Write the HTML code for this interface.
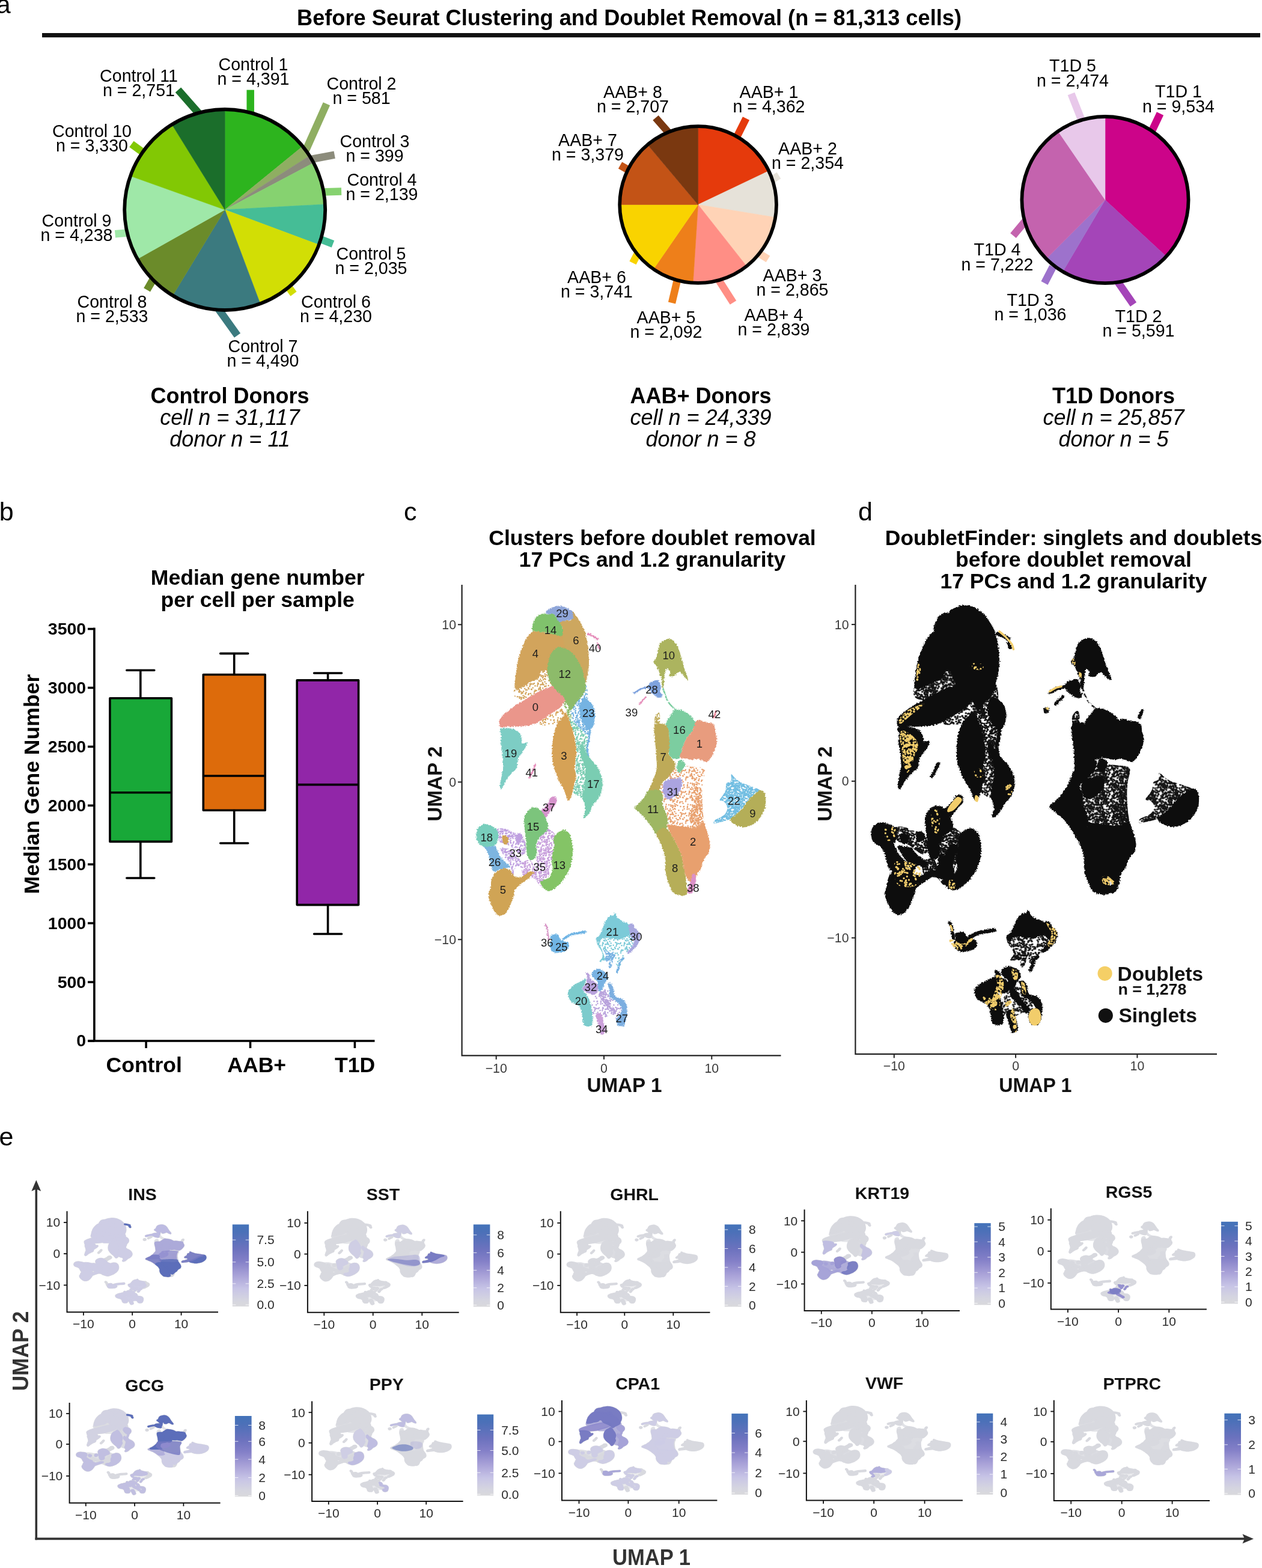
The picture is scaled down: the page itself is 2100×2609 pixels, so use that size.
<!DOCTYPE html>
<html lang="en"><head><meta charset="utf-8"><title>Figure</title>
<style>
html,body{margin:0;padding:0;background:#fff;}
body{width:2100px;height:2609px;overflow:hidden;}
svg{display:block;font-family:"Liberation Sans", sans-serif;}
</style></head><body>
<svg width="2100" height="2609" viewBox="0 0 2100 2609">
<rect width="2100" height="2609" fill="#fff"/>
<g id="panel-a">
<text x="-6.3" y="22.0" font-size="43">a</text>
<text x="1047.0" y="41.6" font-size="36" font-weight="bold" text-anchor="middle" textLength="1106.0" lengthAdjust="spacingAndGlyphs">Before Seurat Clustering and Doublet Removal (n = 81,313 cells)</text>
<rect x="70" y="55" width="2027" height="7.2" fill="#111"/>
<line x1="416.7" y1="149.6" x2="416.7" y2="190" stroke="#2DB41E" stroke-width="12.5"/>
<line x1="543.4" y1="172.8" x2="508" y2="252" stroke="#8FAE62" stroke-width="12.5"/>
<line x1="556.7" y1="257.6" x2="515" y2="265.5" stroke="#8C8C7C" stroke-width="12.5"/>
<line x1="568.1" y1="318.5" x2="535" y2="319.5" stroke="#86D270" stroke-width="12.5"/>
<line x1="554.0" y1="406.0" x2="528" y2="396" stroke="#45BD96" stroke-width="12.5"/>
<line x1="488.5" y1="489" x2="479" y2="476" stroke="#D2DE05" stroke-width="12.5"/>
<line x1="395.0" y1="558.2" x2="362" y2="512" stroke="#3B7A7F" stroke-width="12.5"/>
<line x1="244.6" y1="482.4" x2="257" y2="461" stroke="#6B8B2A" stroke-width="12.5"/>
<line x1="191.5" y1="389.3" x2="212" y2="387.5" stroke="#9FE8A8" stroke-width="12.5"/>
<line x1="218.9" y1="239.8" x2="240" y2="255" stroke="#82C804" stroke-width="12.5"/>
<line x1="296.5" y1="149.6" x2="332" y2="190" stroke="#1B6E2B" stroke-width="12.5"/>
<path d="M374.2 349.0L374.2 182.0A167 167 0 0 1 503.6 243.5Z" fill="#2DB41E" stroke="#2DB41E" stroke-width="0.6"/>
<path d="M374.2 349.0L503.6 243.5A167 167 0 0 1 515.1 259.3Z" fill="#8FAE62" stroke="#8FAE62" stroke-width="0.6"/>
<path d="M374.2 349.0L515.1 259.3A167 167 0 0 1 521.8 271.0Z" fill="#8C8C7C" stroke="#8C8C7C" stroke-width="0.6"/>
<path d="M374.2 349.0L521.8 271.0A167 167 0 0 1 541.0 339.9Z" fill="#86D270" stroke="#86D270" stroke-width="0.6"/>
<path d="M374.2 349.0L541.0 339.9A167 167 0 0 1 530.7 407.3Z" fill="#45BD96" stroke="#45BD96" stroke-width="0.6"/>
<path d="M374.2 349.0L530.7 407.3A167 167 0 0 1 433.0 505.3Z" fill="#D2DE05" stroke="#D2DE05" stroke-width="0.6"/>
<path d="M374.2 349.0L433.0 505.3A167 167 0 0 1 287.4 491.7Z" fill="#3B7A7F" stroke="#3B7A7F" stroke-width="0.6"/>
<path d="M374.2 349.0L287.4 491.7A167 167 0 0 1 228.7 430.9Z" fill="#6B8B2A" stroke="#6B8B2A" stroke-width="0.6"/>
<path d="M374.2 349.0L228.7 430.9A167 167 0 0 1 216.9 292.8Z" fill="#9FE8A8" stroke="#9FE8A8" stroke-width="0.6"/>
<path d="M374.2 349.0L216.9 292.8A167 167 0 0 1 286.1 207.1Z" fill="#82C804" stroke="#82C804" stroke-width="0.6"/>
<path d="M374.2 349.0L286.1 207.1A167 167 0 0 1 374.2 182.0Z" fill="#1B6E2B" stroke="#1B6E2B" stroke-width="0.6"/>
<circle cx="374.2" cy="349.0" r="167" fill="none" stroke="#000" stroke-width="5.8"/>
<text x="421.5" y="117.1" font-size="28.6" text-anchor="middle">Control 1</text>
<text x="421.5" y="141.3" font-size="28.6" text-anchor="middle">n = 4,391</text>
<text x="601.5" y="148.6" font-size="28.6" text-anchor="middle">Control 2</text>
<text x="601.5" y="172.8" font-size="28.6" text-anchor="middle">n = 581</text>
<text x="623.5" y="244.6" font-size="28.6" text-anchor="middle">Control 3</text>
<text x="623.5" y="268.8" font-size="28.6" text-anchor="middle">n = 399</text>
<text x="635.5" y="309.1" font-size="28.6" text-anchor="middle">Control 4</text>
<text x="635.5" y="333.3" font-size="28.6" text-anchor="middle">n = 2,139</text>
<text x="617.5" y="431.6" font-size="28.6" text-anchor="middle">Control 5</text>
<text x="617.5" y="455.8" font-size="28.6" text-anchor="middle">n = 2,035</text>
<text x="559.0" y="512.1" font-size="28.6" text-anchor="middle">Control 6</text>
<text x="559.0" y="536.3" font-size="28.6" text-anchor="middle">n = 4,230</text>
<text x="437.5" y="585.6" font-size="28.6" text-anchor="middle">Control 7</text>
<text x="437.5" y="609.8" font-size="28.6" text-anchor="middle">n = 4,490</text>
<text x="186.5" y="511.6" font-size="28.6" text-anchor="middle">Control 8</text>
<text x="186.5" y="535.8" font-size="28.6" text-anchor="middle">n = 2,533</text>
<text x="127.5" y="377.1" font-size="28.6" text-anchor="middle">Control 9</text>
<text x="127.5" y="401.3" font-size="28.6" text-anchor="middle">n = 4,238</text>
<text x="153.0" y="227.6" font-size="28.6" text-anchor="middle">Control 10</text>
<text x="153.0" y="251.8" font-size="28.6" text-anchor="middle">n = 3,330</text>
<text x="231.0" y="135.6" font-size="28.6" text-anchor="middle">Control 11</text>
<text x="231.0" y="159.8" font-size="28.6" text-anchor="middle">n = 2,751</text>
<line x1="1241.5" y1="197" x2="1224" y2="232" stroke="#E53A0C" stroke-width="12.5"/>
<line x1="1296" y1="292" x2="1280" y2="302" stroke="#E6E2D9" stroke-width="12.5"/>
<line x1="1278" y1="431" x2="1262" y2="421" stroke="#FFD3B6" stroke-width="12.5"/>
<line x1="1220" y1="503.5" x2="1196" y2="466" stroke="#FF8E85" stroke-width="12.5"/>
<line x1="1118" y1="504" x2="1127" y2="466" stroke="#EE7F1A" stroke-width="12.5"/>
<line x1="1053" y1="437.5" x2="1062" y2="420" stroke="#F9D300" stroke-width="12.5"/>
<line x1="1032" y1="275" x2="1046" y2="283" stroke="#C35316" stroke-width="12.5"/>
<line x1="1091" y1="196" x2="1112" y2="220" stroke="#7A3810" stroke-width="12.5"/>
<path d="M1161.6 340.5L1161.6 210.1A130.4 130.4 0 0 1 1279.3 284.4Z" fill="#E53A0C" stroke="#E53A0C" stroke-width="0.6"/>
<path d="M1161.6 340.5L1279.3 284.4A130.4 130.4 0 0 1 1290.3 361.7Z" fill="#E6E2D9" stroke="#E6E2D9" stroke-width="0.6"/>
<path d="M1161.6 340.5L1290.3 361.7A130.4 130.4 0 0 1 1242.4 442.9Z" fill="#FFD3B6" stroke="#FFD3B6" stroke-width="0.6"/>
<path d="M1161.6 340.5L1242.4 442.9A130.4 130.4 0 0 1 1153.2 470.6Z" fill="#FF8E85" stroke="#FF8E85" stroke-width="0.6"/>
<path d="M1161.6 340.5L1153.2 470.6A130.4 130.4 0 0 1 1087.5 447.8Z" fill="#EE7F1A" stroke="#EE7F1A" stroke-width="0.6"/>
<path d="M1161.6 340.5L1087.5 447.8A130.4 130.4 0 0 1 1031.2 340.5Z" fill="#F9D300" stroke="#F9D300" stroke-width="0.6"/>
<path d="M1161.6 340.5L1031.2 340.5A130.4 130.4 0 0 1 1077.7 240.7Z" fill="#C35316" stroke="#C35316" stroke-width="0.6"/>
<path d="M1161.6 340.5L1077.7 240.7A130.4 130.4 0 0 1 1161.6 210.1Z" fill="#7A3810" stroke="#7A3810" stroke-width="0.6"/>
<circle cx="1161.6" cy="340.5" r="130.4" fill="none" stroke="#000" stroke-width="5.8"/>
<text x="1279.5" y="163.1" font-size="28.6" text-anchor="middle">AAB+ 1</text>
<text x="1279.5" y="187.3" font-size="28.6" text-anchor="middle">n = 4,362</text>
<text x="1344.0" y="257.1" font-size="28.6" text-anchor="middle">AAB+ 2</text>
<text x="1344.0" y="281.3" font-size="28.6" text-anchor="middle">n = 2,354</text>
<text x="1318.5" y="467.6" font-size="28.6" text-anchor="middle">AAB+ 3</text>
<text x="1318.5" y="491.8" font-size="28.6" text-anchor="middle">n = 2,865</text>
<text x="1287.5" y="534.1" font-size="28.6" text-anchor="middle">AAB+ 4</text>
<text x="1287.5" y="558.3" font-size="28.6" text-anchor="middle">n = 2,839</text>
<text x="1108.5" y="537.6" font-size="28.6" text-anchor="middle">AAB+ 5</text>
<text x="1108.5" y="561.8" font-size="28.6" text-anchor="middle">n = 2,092</text>
<text x="993.0" y="470.6" font-size="28.6" text-anchor="middle">AAB+ 6</text>
<text x="993.0" y="494.8" font-size="28.6" text-anchor="middle">n = 3,741</text>
<text x="978.0" y="242.6" font-size="28.6" text-anchor="middle">AAB+ 7</text>
<text x="978.0" y="266.8" font-size="28.6" text-anchor="middle">n = 3,379</text>
<text x="1053.0" y="162.6" font-size="28.6" text-anchor="middle">AAB+ 8</text>
<text x="1053.0" y="186.8" font-size="28.6" text-anchor="middle">n = 2,707</text>
<line x1="1930.5" y1="189" x2="1912" y2="228" stroke="#CC0489" stroke-width="12.5"/>
<line x1="1886" y1="506.5" x2="1858" y2="466" stroke="#A445B8" stroke-width="12.5"/>
<line x1="1738" y1="471" x2="1752" y2="444" stroke="#9D72CC" stroke-width="12.5"/>
<line x1="1686" y1="392" x2="1706" y2="368" stroke="#C463AE" stroke-width="12.5"/>
<line x1="1782.5" y1="156" x2="1799" y2="198" stroke="#E8C8EA" stroke-width="12.5"/>
<path d="M1839.0 332.6L1839.0 194.0A138.6 138.6 0 0 1 1940.8 426.7Z" fill="#CC0489" stroke="#CC0489" stroke-width="0.6"/>
<path d="M1839.0 332.6L1940.8 426.7A138.6 138.6 0 0 1 1768.5 451.9Z" fill="#A445B8" stroke="#A445B8" stroke-width="0.6"/>
<path d="M1839.0 332.6L1768.5 451.9A138.6 138.6 0 0 1 1741.0 430.6Z" fill="#9D72CC" stroke="#9D72CC" stroke-width="0.6"/>
<path d="M1839.0 332.6L1741.0 430.6A138.6 138.6 0 0 1 1760.6 218.3Z" fill="#C463AE" stroke="#C463AE" stroke-width="0.6"/>
<path d="M1839.0 332.6L1760.6 218.3A138.6 138.6 0 0 1 1839.0 194.0Z" fill="#E8C8EA" stroke="#E8C8EA" stroke-width="0.6"/>
<circle cx="1839.0" cy="332.6" r="138.6" fill="none" stroke="#000" stroke-width="5.8"/>
<text x="1961.0" y="162.3" font-size="28.6" text-anchor="middle">T1D 1</text>
<text x="1961.0" y="186.5" font-size="28.6" text-anchor="middle">n = 9,534</text>
<text x="1894.5" y="535.8" font-size="28.6" text-anchor="middle">T1D 2</text>
<text x="1894.5" y="560.0" font-size="28.6" text-anchor="middle">n = 5,591</text>
<text x="1714.5" y="508.8" font-size="28.6" text-anchor="middle">T1D 3</text>
<text x="1714.5" y="533.0" font-size="28.6" text-anchor="middle">n = 1,036</text>
<text x="1659.5" y="425.3" font-size="28.6" text-anchor="middle">T1D 4</text>
<text x="1659.5" y="449.5" font-size="28.6" text-anchor="middle">n = 7,222</text>
<text x="1785.0" y="119.3" font-size="28.6" text-anchor="middle">T1D 5</text>
<text x="1785.0" y="143.5" font-size="28.6" text-anchor="middle">n = 2,474</text>
<text x="382.5" y="670.5" font-size="36" font-weight="bold" text-anchor="middle">Control Donors</text>
<text x="382.5" y="706.5" font-size="36" font-style="italic" text-anchor="middle">cell n = 31,117</text>
<text x="382.5" y="742.5" font-size="36" font-style="italic" text-anchor="middle">donor n = 11</text>
<text x="1166.0" y="670.5" font-size="36" font-weight="bold" text-anchor="middle">AAB+ Donors</text>
<text x="1166.0" y="706.5" font-size="36" font-style="italic" text-anchor="middle">cell n = 24,339</text>
<text x="1166.0" y="742.5" font-size="36" font-style="italic" text-anchor="middle">donor n = 8</text>
<text x="1853.0" y="670.5" font-size="36" font-weight="bold" text-anchor="middle">T1D Donors</text>
<text x="1853.0" y="706.5" font-size="36" font-style="italic" text-anchor="middle">cell n = 25,857</text>
<text x="1853.0" y="742.5" font-size="36" font-style="italic" text-anchor="middle">donor n = 5</text>
</g>
<g id="panel-b">
<text x="-1.2" y="865.8" font-size="43">b</text>
<text x="428.7" y="972.9" font-size="35.6" font-weight="bold" text-anchor="middle">Median gene number</text>
<text x="428.7" y="1009.5" font-size="35.6" font-weight="bold" text-anchor="middle">per cell per sample</text>
<path d="M156.9 1044.5V1733.3M147 1732H623.5" stroke="#000" stroke-width="3.6" fill="none"/>
<line x1="146" y1="1732.0" x2="157" y2="1732.0" stroke="#000" stroke-width="3.6"/>
<text x="143.2" y="1741.4" font-size="28.5" font-weight="bold" text-anchor="end">0</text>
<line x1="146" y1="1634.1" x2="157" y2="1634.1" stroke="#000" stroke-width="3.6"/>
<text x="143.2" y="1643.5" font-size="28.5" font-weight="bold" text-anchor="end">500</text>
<line x1="146" y1="1536.1" x2="157" y2="1536.1" stroke="#000" stroke-width="3.6"/>
<text x="143.2" y="1545.5" font-size="28.5" font-weight="bold" text-anchor="end">1000</text>
<line x1="146" y1="1438.2" x2="157" y2="1438.2" stroke="#000" stroke-width="3.6"/>
<text x="143.2" y="1447.6" font-size="28.5" font-weight="bold" text-anchor="end">1500</text>
<line x1="146" y1="1340.3" x2="157" y2="1340.3" stroke="#000" stroke-width="3.6"/>
<text x="143.2" y="1349.7" font-size="28.5" font-weight="bold" text-anchor="end">2000</text>
<line x1="146" y1="1242.4" x2="157" y2="1242.4" stroke="#000" stroke-width="3.6"/>
<text x="143.2" y="1251.8" font-size="28.5" font-weight="bold" text-anchor="end">2500</text>
<line x1="146" y1="1144.4" x2="157" y2="1144.4" stroke="#000" stroke-width="3.6"/>
<text x="143.2" y="1153.8" font-size="28.5" font-weight="bold" text-anchor="end">3000</text>
<line x1="146" y1="1046.5" x2="157" y2="1046.5" stroke="#000" stroke-width="3.6"/>
<text x="143.2" y="1055.9" font-size="28.5" font-weight="bold" text-anchor="end">3500</text>
<line x1="243.1" y1="1732" x2="243.1" y2="1744" stroke="#000" stroke-width="3.6"/>
<line x1="416.5" y1="1732" x2="416.5" y2="1744" stroke="#000" stroke-width="3.6"/>
<line x1="590.4" y1="1732" x2="590.4" y2="1744" stroke="#000" stroke-width="3.6"/>
<text x="239.7" y="1784.0" font-size="35.6" font-weight="bold" text-anchor="middle">Control</text>
<text x="427.2" y="1784.0" font-size="35.6" font-weight="bold" text-anchor="middle">AAB+</text>
<text x="590.6" y="1784.0" font-size="35.6" font-weight="bold" text-anchor="middle">T1D</text>
<text x="65.0" y="1304.6" font-size="35.6" font-weight="bold" text-anchor="middle" transform="rotate(-90 65.0 1304.6)">Median Gene Number</text>
<path d="M233.8 1115.2V1161.8M233.8 1400.4V1461M210.8 1115.2H256.8M210.8 1461H256.8" stroke="#000" stroke-width="3.6" stroke-linecap="round" fill="none"/>
<rect x="182.9" y="1161.8" width="102.5" height="238.6" fill="#18A838" stroke="#000" stroke-width="3.6" stroke-linejoin="round"/>
<line x1="182.9" y1="1318.8" x2="285.4" y2="1318.8" stroke="#000" stroke-width="3.6"/>
<path d="M389.7 1087.4V1122.5M389.7 1348.3V1403M366.7 1087.4H412.7M366.7 1403H412.7" stroke="#000" stroke-width="3.6" stroke-linecap="round" fill="none"/>
<rect x="338.3" y="1122.5" width="102.9" height="225.8" fill="#DD6B0B" stroke="#000" stroke-width="3.6" stroke-linejoin="round"/>
<line x1="338.3" y1="1291" x2="441.2" y2="1291" stroke="#000" stroke-width="3.6"/>
<path d="M545.6 1120V1131.9M545.6 1505.6V1554M522.6 1120H568.6M522.6 1554H568.6" stroke="#000" stroke-width="3.6" stroke-linecap="round" fill="none"/>
<rect x="494.2" y="1131.9" width="102.4" height="373.7" fill="#9126A8" stroke="#000" stroke-width="3.6" stroke-linejoin="round"/>
<line x1="494.2" y1="1305.6" x2="596.6" y2="1305.6" stroke="#000" stroke-width="3.6"/>
</g>
<defs>
<path id="k0" d="M885.4 1051.5C882.2 1053.5 878.4 1058.2 875.7 1062.6C872.9 1067.0 870.8 1072.6 868.7 1077.9C866.6 1083.3 864.6 1089.1 863.1 1094.6C861.6 1100.2 860.6 1105.8 859.7 1111.3C858.7 1116.9 858.0 1122.4 857.6 1128.0C857.1 1133.6 855.5 1141.9 856.9 1144.7C858.3 1147.5 862.8 1145.6 865.9 1144.7C869.0 1143.8 872.9 1140.8 875.7 1139.1C878.4 1137.5 879.8 1136.4 882.6 1135.0C885.4 1133.6 889.8 1132.4 892.4 1130.8C894.9 1129.2 896.6 1127.3 897.9 1125.2C899.2 1123.1 898.2 1119.7 900.0 1118.3C901.9 1116.9 906.2 1113.4 909.1 1116.9C912.0 1120.4 914.6 1135.4 917.4 1139.1C920.2 1142.9 922.0 1141.5 925.8 1139.1C929.5 1136.8 936.2 1131.0 939.7 1125.2C943.1 1119.4 945.5 1114.8 946.6 1104.4C947.8 1093.9 947.8 1071.2 946.6 1062.6C945.5 1054.0 942.2 1054.0 939.7 1052.9C937.1 1051.7 935.0 1055.4 931.3 1055.7C927.6 1055.9 921.6 1054.8 917.4 1054.3C913.2 1053.7 910.0 1052.8 906.3 1052.2C902.6 1051.6 898.6 1050.9 895.1 1050.8C891.7 1050.7 888.6 1049.5 885.4 1051.5Z" vector-effect="non-scaling-stroke"/>
<path id="k1" d="M950.8 1016.7C952.2 1015.7 956.6 1021.8 959.1 1025.0C961.7 1028.3 964.0 1032.5 966.1 1036.2C968.2 1039.9 970.0 1043.1 971.7 1047.3C973.3 1051.5 974.7 1056.1 975.8 1061.2C977.0 1066.3 977.9 1071.9 978.6 1077.9C979.3 1084.0 979.9 1091.4 980.0 1097.4C980.1 1103.4 979.9 1108.8 979.3 1114.1C978.7 1119.4 977.6 1125.2 976.5 1129.4C975.5 1133.6 975.0 1137.3 973.1 1139.1C971.1 1141.0 968.2 1142.9 964.7 1140.5C961.2 1138.2 956.6 1137.1 952.2 1125.2C947.8 1113.4 941.1 1082.8 938.3 1069.6C935.5 1056.4 936.7 1051.7 935.5 1045.9C934.3 1040.1 930.2 1037.1 931.3 1034.8C932.5 1032.5 939.2 1032.6 942.4 1032.0C945.7 1031.4 949.4 1033.9 950.8 1031.3C952.2 1028.8 949.4 1017.7 950.8 1016.7Z" vector-effect="non-scaling-stroke"/>
<path id="k2" d="M892.4 1026.4C895.1 1023.4 900.2 1021.6 903.5 1020.9C906.7 1020.2 909.1 1022.3 911.8 1022.3C914.6 1022.3 917.9 1019.9 920.2 1020.9C922.5 1021.8 923.9 1025.5 925.8 1027.8C927.6 1030.1 929.7 1031.8 931.3 1034.8C932.9 1037.8 934.6 1042.4 935.5 1045.9C936.4 1049.4 937.6 1053.6 936.9 1055.7C936.2 1057.7 934.6 1058.7 931.3 1058.4C928.1 1058.2 921.6 1055.3 917.4 1054.3C913.2 1053.2 910.0 1052.8 906.3 1052.2C902.6 1051.6 898.6 1051.4 895.1 1050.8C891.7 1050.2 886.8 1050.7 885.4 1048.7C884.0 1046.7 885.6 1042.7 886.8 1039.0C887.9 1035.3 889.6 1029.5 892.4 1026.4Z" vector-effect="non-scaling-stroke"/>
<path id="k3" d="M908.4 1017.4C909.3 1015.7 914.5 1013.3 917.4 1011.8C920.3 1010.4 922.3 1009.0 925.8 1008.6C929.2 1008.2 934.3 1008.3 938.3 1009.5C942.2 1010.6 946.7 1012.7 949.4 1015.3C952.1 1017.9 954.0 1022.4 954.3 1025.0C954.5 1027.7 952.8 1030.1 950.8 1031.3C948.8 1032.5 945.7 1031.4 942.4 1032.0C939.2 1032.6 934.1 1035.5 931.3 1034.8C928.5 1034.1 927.6 1030.1 925.8 1027.8C923.9 1025.5 922.5 1021.8 920.2 1020.9C917.9 1019.9 913.8 1022.8 911.8 1022.3C909.9 1021.7 907.4 1019.1 908.4 1017.4Z" vector-effect="non-scaling-stroke"/>
<path id="k4" d="M929.9 1076.9C934.9 1076.4 942.3 1078.9 947.8 1082.9C953.3 1086.9 958.8 1093.9 962.8 1100.9C966.8 1107.9 969.8 1117.4 971.8 1124.9C973.8 1132.4 975.6 1140.1 974.8 1145.9C974.1 1151.6 970.1 1155.3 967.3 1159.3C964.6 1163.3 961.3 1166.1 958.3 1169.8C955.3 1173.6 951.8 1181.8 949.3 1181.8C946.8 1181.8 945.6 1173.8 943.3 1169.8C941.1 1165.8 939.6 1162.3 935.9 1157.8C932.1 1153.3 924.9 1148.3 920.9 1142.9C916.9 1137.4 913.4 1131.4 911.9 1124.9C910.4 1118.4 910.9 1110.4 911.9 1103.9C912.9 1097.4 914.9 1090.4 917.9 1085.9C920.9 1081.4 924.9 1077.4 929.9 1076.9Z" vector-effect="non-scaling-stroke"/>
<path id="k5" d="M831.8 1208.7C830.9 1206.9 830.3 1202.0 831.1 1199.0C831.9 1196.0 833.9 1193.6 836.7 1190.6C839.5 1187.6 843.7 1184.1 847.8 1180.9C852.0 1177.6 857.1 1174.2 861.7 1171.2C866.4 1168.1 871.0 1165.6 875.7 1162.8C880.3 1160.0 884.9 1157.0 889.6 1154.5C894.2 1151.9 898.8 1149.6 903.5 1147.5C908.1 1145.4 913.2 1143.1 917.4 1141.9C921.6 1140.8 925.1 1139.8 928.5 1140.5C932.0 1141.2 936.0 1144.0 938.3 1146.1C940.6 1148.2 942.0 1150.3 942.4 1153.1C942.9 1155.8 942.0 1159.8 941.1 1162.8C940.1 1165.8 938.5 1168.6 936.9 1171.2C935.3 1173.7 933.6 1176.0 931.3 1178.1C929.0 1180.2 925.8 1181.8 923.0 1183.7C920.2 1185.5 917.4 1187.4 914.6 1189.2C911.8 1191.1 909.1 1192.9 906.3 1194.8C903.5 1196.7 900.7 1198.7 897.9 1200.4C895.1 1202.0 892.8 1203.4 889.6 1204.5C886.3 1205.7 882.6 1206.6 878.4 1207.3C874.3 1208.0 869.6 1208.5 864.5 1208.7C859.4 1209.0 852.5 1208.5 847.8 1208.7C843.2 1209.0 839.4 1210.1 836.7 1210.1C834.0 1210.1 832.8 1210.6 831.8 1208.7Z" vector-effect="non-scaling-stroke"/>
<path id="k6" d="M971.8 1162.3C975.1 1161.3 980.8 1166.1 983.8 1169.8C986.8 1173.6 989.0 1179.3 989.8 1184.8C990.6 1190.3 990.0 1197.7 988.6 1202.8C987.2 1207.9 984.1 1214.8 981.4 1215.4C978.7 1216.0 975.0 1210.5 972.4 1206.4C969.8 1202.3 967.2 1195.9 965.8 1190.8C964.4 1185.7 963.0 1180.6 964.0 1175.8C965.0 1171.1 968.5 1163.3 971.8 1162.3Z" vector-effect="non-scaling-stroke"/>
<path id="k7" d="M959.8 1139.9C963.8 1137.5 971.7 1135.5 974.8 1139.3C977.9 1143.0 978.9 1157.7 978.4 1162.3C977.9 1166.9 974.2 1164.6 971.8 1166.8C969.5 1169.1 967.1 1175.3 964.3 1175.8C961.6 1176.3 957.6 1173.6 955.3 1169.8C953.1 1166.1 950.1 1158.3 950.8 1153.3C951.6 1148.3 955.8 1142.2 959.8 1139.9Z" vector-effect="non-scaling-stroke"/>
<path id="k8" d="M979.9 1215.5C979.5 1216.9 979.0 1226.6 978.5 1229.4C978.1 1232.2 975.9 1240.6 975.7 1243.4C975.6 1246.3 976.9 1255.2 977.1 1257.6C977.4 1260.0 978.1 1266.4 978.5 1267.4C979.0 1268.3 981.3 1268.0 981.5 1266.9C981.7 1265.9 980.4 1259.6 980.1 1257.2C979.8 1254.9 978.6 1246.3 978.7 1243.6C978.9 1240.8 981.1 1232.6 981.5 1229.8C981.9 1227.0 983.1 1217.3 982.9 1215.8C982.7 1214.4 980.4 1214.2 979.9 1215.5Z" vector-effect="non-scaling-stroke"/>
<path id="k9" d="M976.6 1055.9C977.2 1056.5 983.0 1058.3 984.8 1059.3C986.5 1060.2 993.2 1065.2 994.4 1065.5C995.5 1065.8 997.1 1063.5 996.3 1062.5C995.5 1061.6 988.3 1057.2 986.4 1056.2C984.6 1055.2 978.9 1052.7 977.9 1052.7C976.9 1052.6 975.9 1055.2 976.6 1055.9Z" vector-effect="non-scaling-stroke"/>
<path id="k10" d="M992.8 1070.0C992.9 1071.1 995.7 1078.8 996.2 1079.7C996.8 1080.6 998.7 1080.0 998.6 1078.9C998.5 1077.8 995.7 1070.0 995.1 1069.2C994.5 1068.3 992.6 1068.9 992.8 1070.0Z" vector-effect="non-scaling-stroke"/>
<path id="k11" d="M889.8 1270.9C889.1 1271.9 886.6 1279.8 885.6 1282.0C884.7 1284.2 880.4 1291.8 880.1 1293.0C879.8 1294.3 881.6 1295.2 882.3 1294.2C883.1 1293.2 887.0 1285.2 887.9 1283.0C888.9 1280.7 891.9 1273.0 892.1 1271.8C892.3 1270.6 890.4 1269.9 889.8 1270.9Z" vector-effect="non-scaling-stroke"/>
<path id="k12" d="M832.5 1212.9C834.8 1211.0 843.0 1210.8 847.8 1211.5C852.7 1212.2 858.5 1214.7 861.7 1217.1C865.0 1219.4 866.2 1222.2 867.3 1225.4C868.5 1228.7 867.1 1234.9 868.7 1236.5C870.3 1238.2 876.1 1234.0 877.1 1235.2C878.0 1236.3 875.9 1240.3 874.3 1243.5C872.6 1246.8 869.4 1251.2 867.3 1254.6C865.2 1258.1 863.0 1260.5 861.7 1264.4C860.5 1268.3 861.3 1274.6 859.8 1278.1C858.4 1281.5 855.2 1282.5 852.9 1285.0C850.6 1287.6 848.0 1290.6 845.9 1293.4C843.8 1296.2 842.0 1299.0 840.4 1301.7C838.7 1304.5 837.3 1308.1 836.2 1310.1C835.0 1312.1 834.1 1313.8 833.4 1313.6C832.7 1313.3 832.0 1311.1 832.0 1308.7C832.0 1306.3 832.9 1302.4 833.4 1299.0C833.9 1295.5 834.1 1291.5 834.8 1287.8C835.5 1284.1 837.1 1278.3 837.6 1276.7C838.0 1275.1 837.5 1280.3 837.4 1278.3C837.2 1276.2 837.0 1269.0 836.7 1264.4C836.3 1259.7 835.9 1255.1 835.3 1250.5C834.7 1245.8 833.5 1241.2 833.2 1236.5C833.0 1231.9 834.0 1226.6 833.9 1222.6C833.8 1218.7 830.2 1214.7 832.5 1212.9Z" vector-effect="non-scaling-stroke"/>
<path id="k13" d="M941.1 1185.1C942.7 1185.5 945.0 1190.9 946.6 1194.8C948.2 1198.7 949.4 1204.1 950.8 1208.7C952.2 1213.4 953.8 1218.0 955.0 1222.6C956.1 1227.3 957.1 1231.9 957.8 1236.5C958.5 1241.2 959.1 1245.8 959.1 1250.5C959.1 1255.1 958.2 1259.7 957.8 1264.4C957.3 1269.0 956.2 1273.7 956.4 1278.3C956.5 1282.9 958.6 1288.1 958.6 1292.0C958.7 1295.9 957.5 1297.8 956.5 1301.7C955.6 1305.7 954.1 1311.5 953.1 1315.7C952.0 1319.8 951.6 1324.0 950.3 1326.8C949.0 1329.6 946.8 1332.8 945.4 1332.4C944.0 1331.9 943.2 1327.3 941.9 1324.0C940.7 1320.8 939.6 1316.8 937.8 1312.9C935.9 1308.9 932.9 1304.5 930.8 1300.4C928.7 1296.2 926.9 1292.2 925.2 1287.8C923.6 1283.4 921.9 1276.7 921.1 1273.9C920.2 1271.2 920.6 1274.1 920.2 1271.3C919.8 1268.6 919.0 1262.1 918.8 1257.4C918.6 1252.8 918.6 1248.1 918.8 1243.5C919.0 1238.9 919.5 1234.2 920.2 1229.6C920.9 1225.0 921.6 1220.3 923.0 1215.7C924.4 1211.0 926.2 1205.7 928.5 1201.8C930.9 1197.8 934.8 1194.8 936.9 1192.0C939.0 1189.2 939.4 1184.6 941.1 1185.1Z" vector-effect="non-scaling-stroke"/>
<path id="k14" d="M967.5 1236.5C968.7 1236.5 970.0 1241.9 971.7 1244.9C973.3 1247.9 975.1 1251.4 977.2 1254.6C979.3 1257.9 981.9 1261.4 984.2 1264.4C986.5 1267.4 990.1 1271.6 991.2 1272.7C992.2 1273.9 989.6 1269.5 990.6 1271.1C991.7 1272.7 995.7 1278.1 997.6 1282.3C999.4 1286.4 1001.0 1292.0 1001.8 1296.2C1002.6 1300.4 1002.7 1303.6 1002.5 1307.3C1002.2 1311.0 1001.6 1314.7 1000.4 1318.4C999.1 1322.2 996.9 1326.3 994.8 1329.6C992.7 1332.8 989.7 1335.1 987.8 1337.9C986.0 1340.7 985.1 1343.5 983.7 1346.3C982.3 1349.1 981.1 1352.3 979.5 1354.6C977.9 1356.9 975.4 1359.4 973.9 1360.2C972.4 1361.0 970.5 1361.3 970.5 1359.5C970.5 1357.6 973.6 1352.6 973.9 1349.1C974.3 1345.5 973.4 1341.6 972.5 1337.9C971.7 1334.2 969.3 1330.5 969.1 1326.8C968.8 1323.1 970.6 1319.8 971.2 1315.7C971.7 1311.5 972.1 1306.4 972.5 1301.7C973.0 1297.1 973.8 1292.5 973.9 1287.8C974.0 1283.2 974.5 1279.0 973.2 1273.9C971.9 1268.8 967.5 1262.3 966.1 1257.4C964.7 1252.6 964.5 1248.4 964.7 1244.9C964.9 1241.4 966.3 1236.5 967.5 1236.5Z" vector-effect="non-scaling-stroke"/>
<path id="k15" d="M918.3 1325.4C920.6 1324.2 925.7 1326.1 926.6 1328.2C927.6 1330.3 925.2 1334.9 923.8 1337.9C922.4 1340.9 920.1 1343.5 918.3 1346.3C916.4 1349.1 914.3 1352.3 912.7 1354.6C911.1 1356.9 910.2 1360.0 908.5 1360.2C906.9 1360.4 904.4 1357.9 903.0 1356.0C901.6 1354.2 899.7 1351.1 900.2 1349.1C900.6 1347.0 903.7 1345.8 905.8 1343.5C907.8 1341.2 910.6 1338.2 912.7 1335.1C914.8 1332.1 916.0 1326.6 918.3 1325.4Z" vector-effect="non-scaling-stroke"/>
<path id="k16" d="M883.5 1344.9C885.8 1343.5 887.9 1343.0 890.4 1343.5C893.0 1344.0 896.5 1345.8 898.8 1347.7C901.1 1349.5 902.7 1352.1 904.4 1354.6C906.0 1357.2 907.4 1360.2 908.5 1363.0C909.7 1365.8 910.9 1368.5 911.3 1371.3C911.8 1374.1 912.0 1377.3 911.3 1379.7C910.6 1382.0 909.0 1383.4 907.1 1385.2C905.3 1387.1 902.3 1388.5 900.2 1390.8C898.1 1393.1 896.0 1396.4 894.6 1399.1C893.2 1401.9 892.1 1404.7 891.8 1407.5C891.6 1410.3 893.2 1413.1 893.2 1415.8C893.2 1418.6 892.8 1421.9 891.8 1424.2C890.9 1426.5 889.3 1428.6 887.7 1429.8C886.0 1430.9 883.7 1432.1 882.1 1431.2C880.5 1430.2 879.0 1427.2 877.9 1424.2C876.9 1421.2 876.3 1417.2 875.8 1413.1C875.4 1408.9 875.5 1403.8 875.1 1399.1C874.8 1394.5 874.2 1389.9 873.7 1385.2C873.3 1380.6 872.6 1375.3 872.4 1371.3C872.1 1367.4 871.7 1364.8 872.4 1361.6C873.1 1358.3 874.7 1354.6 876.5 1351.8C878.4 1349.1 881.2 1346.3 883.5 1344.9Z" vector-effect="non-scaling-stroke"/>
<path id="k17" d="M933.6 1382.4C935.9 1381.3 937.1 1380.6 939.1 1381.1C941.2 1381.5 944.2 1383.1 946.1 1385.2C948.0 1387.3 949.2 1390.3 950.3 1393.6C951.3 1396.8 951.9 1401.0 952.4 1404.7C952.8 1408.4 953.1 1412.1 953.1 1415.8C953.1 1419.6 952.8 1423.3 952.4 1427.0C951.9 1430.7 951.3 1434.4 950.3 1438.1C949.2 1441.8 947.7 1445.8 946.1 1449.2C944.5 1452.7 942.4 1456.0 940.5 1459.0C938.7 1462.0 937.1 1464.8 935.0 1467.3C932.9 1469.9 930.3 1472.2 928.0 1474.3C925.7 1476.4 923.4 1478.5 921.1 1479.9C918.7 1481.2 916.4 1482.6 914.1 1482.6C911.8 1482.6 909.2 1481.2 907.1 1479.9C905.1 1478.5 903.0 1476.1 901.6 1474.3C900.2 1472.4 898.6 1470.3 898.8 1468.7C899.0 1467.1 900.9 1465.7 903.0 1464.5C905.1 1463.4 909.0 1463.4 911.3 1461.8C913.6 1460.1 915.5 1457.6 916.9 1454.8C918.3 1452.0 919.4 1448.5 919.7 1445.1C919.9 1441.6 918.3 1438.1 918.3 1433.9C918.3 1429.8 919.0 1424.7 919.7 1420.0C920.4 1415.4 922.2 1410.0 922.4 1406.1C922.7 1402.2 920.6 1399.4 921.1 1396.4C921.5 1393.3 923.1 1390.3 925.2 1388.0C927.3 1385.7 931.3 1383.6 933.6 1382.4Z" vector-effect="non-scaling-stroke"/>
<path id="k18" d="M792.3 1389.4C792.5 1386.4 793.2 1382.3 794.4 1379.7C795.7 1377.0 797.9 1374.8 800.0 1373.4C802.1 1372.0 804.2 1371.2 807.0 1371.3C809.7 1371.4 813.5 1372.7 816.7 1374.1C819.9 1375.5 824.4 1377.3 826.4 1379.7C828.5 1382.0 829.0 1384.8 829.2 1388.0C829.5 1391.3 828.8 1396.1 827.8 1399.1C826.9 1402.2 826.0 1404.5 823.7 1406.1C821.3 1407.7 816.9 1408.4 813.9 1408.9C810.9 1409.4 808.1 1409.6 805.6 1408.9C803.0 1408.2 800.6 1406.6 798.6 1404.7C796.6 1402.9 794.8 1400.3 793.7 1397.8C792.7 1395.2 792.2 1392.4 792.3 1389.4Z" vector-effect="non-scaling-stroke"/>
<path id="k19" d="M805.6 1408.9C806.0 1407.5 810.9 1409.1 813.9 1408.9C816.9 1408.7 821.3 1406.3 823.7 1407.5C826.0 1408.7 826.4 1413.1 827.8 1415.8C829.2 1418.6 830.4 1421.6 832.0 1424.2C833.6 1426.7 835.5 1428.8 837.6 1431.2C839.7 1433.5 842.7 1436.3 844.5 1438.1C846.4 1440.0 849.6 1441.1 848.7 1442.3C847.8 1443.4 842.0 1444.4 839.0 1445.1C835.9 1445.8 832.9 1445.5 830.6 1446.5C828.3 1447.4 826.9 1450.4 825.0 1450.6C823.2 1450.9 820.9 1449.7 819.5 1447.8C818.1 1446.0 817.6 1443.0 816.7 1439.5C815.8 1436.0 814.8 1430.7 813.9 1427.0C813.0 1423.3 812.5 1420.3 811.1 1417.2C809.7 1414.2 805.1 1410.3 805.6 1408.9Z" vector-effect="non-scaling-stroke"/>
<path id="k20" d="M839.6 1444.5C836.8 1444.5 834.2 1445.5 831.2 1447.3C828.2 1449.2 823.8 1452.4 821.5 1455.7C819.2 1458.9 818.2 1463.1 817.3 1466.8C816.4 1470.5 816.6 1474.7 815.9 1477.9C815.2 1481.2 813.4 1483.0 813.1 1486.3C812.9 1489.5 813.6 1493.7 814.5 1497.4C815.5 1501.1 817.1 1505.1 818.7 1508.5C820.3 1512.0 822.2 1515.7 824.3 1518.3C826.4 1520.8 828.7 1523.4 831.2 1523.8C833.8 1524.3 837.3 1522.7 839.6 1521.1C841.9 1519.4 843.5 1516.7 845.1 1514.1C846.8 1511.5 848.2 1508.5 849.3 1505.8C850.5 1503.0 851.2 1500.2 852.1 1497.4C853.0 1494.6 854.2 1491.6 854.9 1489.1C855.6 1486.5 855.1 1484.4 856.3 1482.1C857.4 1479.8 859.5 1477.5 861.8 1475.1C864.2 1472.8 867.4 1470.3 870.2 1468.2C873.0 1466.1 876.0 1464.7 878.5 1462.6C881.1 1460.5 883.6 1457.5 885.5 1455.7C887.3 1453.8 890.4 1452.4 889.7 1451.5C889.0 1450.6 884.1 1449.4 881.3 1450.1C878.5 1450.8 875.8 1454.0 873.0 1455.7C870.2 1457.3 867.4 1459.4 864.6 1459.8C861.8 1460.3 858.4 1459.6 856.3 1458.4C854.2 1457.3 853.5 1454.7 852.1 1452.9C850.7 1451.0 850.0 1448.7 847.9 1447.3C845.8 1445.9 842.4 1444.5 839.6 1444.5Z" vector-effect="non-scaling-stroke"/>
<path id="k21" d="M836.2 1390.8C837.3 1388.9 842.9 1390.8 844.5 1392.2C846.2 1393.6 846.2 1397.1 845.9 1399.1C845.7 1401.2 844.5 1404.0 843.1 1404.7C841.7 1405.4 838.7 1405.6 837.6 1403.3C836.4 1401.0 835.0 1392.7 836.2 1390.8Z" vector-effect="non-scaling-stroke"/>
<path id="k22" d="M859.8 1389.4C861.0 1386.9 865.2 1385.9 866.8 1386.6C868.4 1387.3 869.8 1391.3 869.6 1393.6C869.3 1395.9 867.0 1399.1 865.4 1400.5C863.8 1401.9 860.8 1403.8 859.8 1401.9C858.9 1400.1 858.7 1392.0 859.8 1389.4Z" vector-effect="non-scaling-stroke"/>
<path id="k23" d="M832.0 1410.3C832.9 1408.9 838.7 1411.2 841.7 1411.7C844.8 1412.1 847.3 1411.0 850.1 1413.1C852.9 1415.1 855.7 1421.2 858.4 1424.2C861.2 1427.2 864.2 1428.6 866.8 1431.2C869.3 1433.7 873.3 1437.2 873.7 1439.5C874.2 1441.8 871.7 1444.8 869.6 1445.1C867.5 1445.3 863.5 1440.4 861.2 1440.9C858.9 1441.4 856.8 1445.1 855.7 1447.8C854.5 1450.6 855.0 1456.7 854.3 1457.6C853.6 1458.5 852.2 1455.7 851.5 1453.4C850.8 1451.1 850.8 1446.2 850.1 1443.7C849.4 1441.1 848.7 1440.4 847.3 1438.1C845.9 1435.8 843.6 1432.8 841.7 1429.8C839.9 1426.7 837.8 1423.3 836.2 1420.0C834.6 1416.8 831.1 1411.7 832.0 1410.3Z" vector-effect="non-scaling-stroke"/>
<path id="k24" d="M894.6 1424.2C896.0 1423.7 897.9 1429.3 900.2 1427.0C902.5 1424.7 905.8 1413.5 908.5 1410.3C911.3 1407.0 915.0 1406.6 916.9 1407.5C918.7 1408.4 920.1 1412.6 919.7 1415.8C919.2 1419.1 915.5 1422.8 914.1 1427.0C912.7 1431.2 911.3 1436.3 911.3 1440.9C911.3 1445.5 914.6 1451.1 914.1 1454.8C913.6 1458.5 910.9 1461.3 908.5 1463.2C906.2 1465.0 903.0 1466.2 900.2 1465.9C897.4 1465.7 894.4 1462.7 891.8 1461.8C889.3 1460.8 886.3 1461.5 884.9 1460.4C883.5 1459.2 882.8 1456.7 883.5 1454.8C884.2 1452.9 887.7 1452.0 889.1 1449.2C890.4 1446.5 891.4 1441.4 891.8 1438.1C892.3 1434.9 891.4 1432.1 891.8 1429.8C892.3 1427.4 893.2 1424.7 894.6 1424.2Z" vector-effect="non-scaling-stroke"/>
<path id="k25" d="M916.1 1557.2C917.7 1555.6 924.7 1553.8 927.2 1554.5C929.8 1555.1 929.8 1559.6 931.4 1561.4C933.0 1563.3 934.7 1564.4 937.0 1565.6C939.3 1566.7 943.7 1566.7 945.3 1568.4C946.9 1570.0 947.4 1573.0 946.7 1575.3C946.0 1577.6 943.7 1580.7 941.2 1582.3C938.6 1583.9 934.4 1584.6 931.4 1585.1C928.4 1585.5 925.4 1585.8 923.1 1585.1C920.7 1584.4 918.9 1583.0 917.5 1580.9C916.1 1578.8 914.7 1575.3 914.7 1572.5C914.7 1569.8 917.3 1566.7 917.5 1564.2C917.7 1561.6 914.5 1558.9 916.1 1557.2Z" vector-effect="non-scaling-stroke"/>
<path id="k26" d="M938.0 1564.5C939.3 1564.2 946.7 1558.6 948.9 1557.7C951.1 1556.7 957.1 1555.6 959.7 1555.0C962.3 1554.5 973.4 1552.9 974.9 1552.2C976.4 1551.6 975.8 1548.4 974.2 1548.3C972.6 1548.2 961.5 1550.5 958.8 1551.1C956.1 1551.7 949.6 1553.0 947.3 1554.0C945.0 1555.0 936.8 1560.1 935.9 1561.1C935.0 1562.2 936.7 1564.8 938.0 1564.5Z" vector-effect="non-scaling-stroke"/>
<path id="k27" d="M905.9 1537.6C906.0 1538.4 908.9 1543.2 909.3 1545.0C909.8 1546.9 910.4 1554.1 910.7 1556.0C911.0 1558.0 911.7 1563.6 912.1 1564.4C912.5 1565.2 914.4 1564.9 914.6 1564.0C914.7 1563.1 913.4 1557.6 913.2 1555.7C912.9 1553.7 912.2 1546.3 911.7 1544.4C911.3 1542.5 908.8 1537.2 908.2 1536.5C907.6 1535.9 905.8 1536.7 905.9 1537.6Z" vector-effect="non-scaling-stroke"/>
<path id="k28" d="M1023.6 1518.0C1024.5 1518.6 1025.0 1524.0 1026.5 1526.1C1027.9 1528.2 1030.1 1529.4 1032.2 1530.7C1034.3 1532.1 1036.8 1533.0 1039.1 1534.2C1041.4 1535.3 1044.1 1535.9 1046.1 1537.6C1048.0 1539.4 1050.1 1541.9 1050.7 1544.6C1051.2 1547.2 1050.7 1551.5 1049.5 1553.8C1048.4 1556.1 1045.9 1557.2 1043.7 1558.4C1041.6 1559.5 1039.1 1559.9 1036.8 1560.7C1034.5 1561.5 1032.6 1562.8 1029.9 1563.0C1027.2 1563.2 1023.8 1562.2 1020.7 1561.8C1017.6 1561.5 1014.2 1560.9 1011.5 1560.7C1008.8 1560.5 1006.5 1560.1 1004.6 1560.7C1002.6 1561.3 1001.3 1562.8 999.9 1564.1C998.6 1565.5 997.6 1568.6 996.5 1568.8C995.3 1569.0 993.8 1566.6 993.0 1565.3C992.3 1564.0 991.1 1562.2 991.9 1560.7C992.6 1559.2 996.1 1558.0 997.6 1556.1C999.2 1554.2 999.9 1551.9 1001.1 1549.2C1002.2 1546.5 1003.4 1542.8 1004.6 1539.9C1005.7 1537.1 1006.3 1534.6 1008.0 1531.9C1009.7 1529.2 1012.8 1525.3 1014.9 1523.8C1017.0 1522.3 1019.3 1523.6 1020.7 1522.7C1022.1 1521.7 1022.6 1517.5 1023.6 1518.0Z" vector-effect="non-scaling-stroke"/>
<path id="k29" d="M991.9 1560.7C992.1 1559.9 994.2 1565.3 995.3 1567.6C996.5 1569.9 997.6 1572.2 998.8 1574.5C999.9 1576.8 1001.3 1579.1 1002.2 1581.4C1003.2 1583.7 1003.8 1586.1 1004.6 1588.4C1005.3 1590.7 1006.9 1593.4 1006.9 1595.3C1006.9 1597.2 1006.1 1599.1 1004.6 1599.9C1003.0 1600.7 998.0 1601.0 997.6 1599.9C997.3 1598.7 1001.5 1595.3 1002.2 1593.0C1003.0 1590.7 1002.8 1588.4 1002.2 1586.1C1001.7 1583.7 1000.1 1581.4 998.8 1579.1C997.4 1576.8 995.3 1575.3 994.2 1572.2C993.0 1569.1 991.7 1561.5 991.9 1560.7Z" vector-effect="non-scaling-stroke"/>
<path id="k30" d="M1004.6 1581.4C1005.1 1580.5 1009.5 1581.8 1011.5 1582.6C1013.4 1583.4 1014.5 1585.9 1016.1 1586.1C1017.6 1586.2 1019.3 1583.2 1020.7 1583.7C1022.0 1584.3 1024.1 1587.6 1024.1 1589.5C1024.1 1591.4 1021.5 1593.2 1020.7 1595.3C1019.9 1597.4 1020.1 1599.9 1019.5 1602.2C1019.0 1604.5 1018.2 1607.6 1017.2 1609.1C1016.3 1610.6 1014.5 1612.2 1013.8 1611.4C1013.0 1610.6 1012.4 1606.8 1012.6 1604.5C1012.8 1602.2 1015.5 1598.3 1014.9 1597.6C1014.4 1596.8 1010.5 1600.3 1009.2 1599.9C1007.8 1599.5 1007.1 1597.2 1006.9 1595.3C1006.7 1593.4 1008.4 1590.7 1008.0 1588.4C1007.6 1586.1 1004.0 1582.4 1004.6 1581.4Z" vector-effect="non-scaling-stroke"/>
<path id="k31" d="M1036.9 1593.1C1036.1 1593.5 1031.7 1597.6 1030.9 1599.2C1030.1 1600.7 1029.1 1606.8 1028.5 1608.7C1027.9 1610.5 1025.1 1616.8 1025.1 1617.8C1025.0 1618.8 1027.2 1619.7 1027.9 1618.9C1028.5 1618.0 1030.8 1611.4 1031.3 1609.6C1031.9 1607.7 1032.8 1602.0 1033.5 1600.6C1034.3 1599.2 1038.7 1595.9 1039.0 1595.2C1039.4 1594.4 1037.7 1592.7 1036.9 1593.1Z" vector-effect="non-scaling-stroke"/>
<path id="k32" d="M1049.5 1536.5C1050.9 1536.1 1053.0 1536.5 1054.1 1537.6C1055.3 1538.8 1055.1 1541.5 1056.4 1543.4C1057.8 1545.3 1060.7 1547.1 1062.2 1549.2C1063.7 1551.3 1065.3 1553.4 1065.6 1556.1C1066.0 1558.8 1065.3 1562.6 1064.5 1565.3C1063.7 1568.0 1062.6 1569.9 1061.0 1572.2C1059.5 1574.5 1057.2 1577.0 1055.3 1579.1C1053.4 1581.2 1051.2 1583.6 1049.5 1584.9C1047.8 1586.2 1045.9 1587.4 1044.9 1587.2C1043.9 1587.0 1043.2 1585.1 1043.7 1583.7C1044.3 1582.4 1046.8 1581.1 1048.4 1579.1C1049.9 1577.2 1051.8 1574.5 1053.0 1572.2C1054.1 1569.9 1055.7 1567.2 1055.3 1565.3C1054.9 1563.4 1051.8 1562.6 1050.7 1560.7C1049.5 1558.8 1048.9 1556.1 1048.4 1553.8C1047.8 1551.5 1047.6 1549.2 1047.2 1546.9C1046.8 1544.6 1045.7 1541.7 1046.1 1539.9C1046.4 1538.2 1048.2 1536.9 1049.5 1536.5Z" vector-effect="non-scaling-stroke"/>
<path id="k33" d="M986.4 1616.1C988.0 1614.2 991.9 1612.2 994.7 1611.9C997.5 1611.7 1000.5 1613.3 1003.0 1614.7C1005.5 1616.1 1008.5 1617.9 1009.9 1620.2C1011.3 1622.5 1012.0 1625.8 1011.3 1628.5C1010.6 1631.3 1007.1 1634.1 1005.8 1636.8C1004.4 1639.6 1004.4 1643.1 1003.0 1645.1C1001.6 1647.2 998.8 1649.7 997.5 1649.3C996.1 1648.8 995.2 1644.9 994.7 1642.4C994.2 1639.8 995.6 1636.4 994.7 1634.1C993.8 1631.8 990.8 1630.4 989.2 1628.5C987.6 1626.7 985.5 1625.1 985.0 1623.0C984.6 1620.9 984.8 1617.9 986.4 1616.1Z" vector-effect="non-scaling-stroke"/>
<path id="k34" d="M975.3 1618.8C976.0 1617.7 979.7 1620.0 980.9 1621.6C982.0 1623.2 980.9 1626.5 982.2 1628.5C983.6 1630.6 987.1 1632.2 989.2 1634.1C991.2 1635.9 993.8 1637.1 994.7 1639.6C995.6 1642.1 995.6 1646.7 994.7 1649.3C993.8 1651.8 991.5 1654.1 989.2 1654.8C986.9 1655.5 983.6 1654.4 980.9 1653.4C978.1 1652.5 974.6 1650.7 972.6 1649.3C970.5 1647.9 968.0 1647.2 968.4 1645.1C968.9 1643.1 973.9 1639.6 975.3 1636.8C976.7 1634.1 976.7 1631.5 976.7 1628.5C976.7 1625.5 974.6 1620.0 975.3 1618.8Z" vector-effect="non-scaling-stroke"/>
<path id="k35" d="M998.8 1649.3C1000.2 1648.4 1003.9 1650.0 1005.8 1652.0C1007.6 1654.1 1008.1 1658.5 1009.9 1661.7C1011.8 1665.0 1014.8 1668.6 1016.8 1671.4C1018.9 1674.2 1021.0 1676.3 1022.4 1678.3C1023.7 1680.4 1025.6 1682.2 1025.1 1683.9C1024.7 1685.5 1021.2 1688.7 1019.6 1688.0C1018.0 1687.3 1017.3 1682.2 1015.4 1679.7C1013.6 1677.2 1010.8 1675.3 1008.5 1672.8C1006.2 1670.3 1003.5 1667.0 1001.6 1664.5C999.8 1662.0 997.9 1660.1 997.5 1657.6C997.0 1655.0 997.5 1650.2 998.8 1649.3Z" vector-effect="non-scaling-stroke"/>
<path id="k36" d="M993.3 1686.6C994.7 1685.5 998.6 1683.9 1000.2 1685.2C1001.8 1686.6 1002.1 1691.5 1003.0 1694.9C1003.9 1698.4 1005.1 1702.3 1005.8 1706.0C1006.5 1709.7 1008.1 1714.5 1007.1 1717.1C1006.2 1719.6 1001.8 1722.1 1000.2 1721.2C998.6 1720.3 998.4 1715.0 997.5 1711.5C996.5 1708.1 995.6 1703.7 994.7 1700.5C993.8 1697.2 992.2 1694.5 991.9 1692.2C991.7 1689.9 991.9 1687.8 993.3 1686.6Z" vector-effect="non-scaling-stroke"/>
<path id="k37" d="M944.9 1652.0C945.1 1649.0 947.4 1647.2 949.0 1645.1C950.7 1643.1 952.3 1641.2 954.6 1639.6C956.9 1638.0 960.3 1636.8 962.9 1635.4C965.4 1634.1 967.7 1632.4 969.8 1631.3C971.9 1630.1 974.6 1627.6 975.3 1628.5C976.0 1629.5 975.1 1634.1 973.9 1636.8C972.8 1639.6 968.6 1642.8 968.4 1645.1C968.2 1647.4 971.0 1648.6 972.6 1650.7C974.2 1652.7 976.7 1655.3 978.1 1657.6C979.5 1659.9 979.9 1662.0 980.9 1664.5C981.8 1667.0 982.9 1669.6 983.6 1672.8C984.3 1676.0 984.6 1680.2 985.0 1683.9C985.5 1687.6 986.4 1691.2 986.4 1694.9C986.4 1698.6 985.9 1703.8 985.0 1706.0C984.1 1708.2 982.9 1708.1 980.9 1708.1C978.8 1708.1 974.4 1707.7 972.6 1706.0C970.7 1704.3 970.5 1700.9 969.8 1697.7C969.1 1694.5 969.1 1689.9 968.4 1686.6C967.7 1683.4 967.0 1680.9 965.6 1678.3C964.3 1675.8 962.2 1673.0 960.1 1671.4C958.0 1669.8 955.3 1670.0 953.2 1668.6C951.1 1667.3 949.0 1665.9 947.7 1663.1C946.3 1660.3 944.7 1655.0 944.9 1652.0Z" vector-effect="non-scaling-stroke"/>
<path id="k38" d="M1011.3 1636.8C1011.8 1635.0 1015.2 1635.4 1016.8 1636.8C1018.4 1638.2 1020.1 1642.1 1021.0 1645.1C1021.9 1648.1 1021.2 1652.3 1022.4 1654.8C1023.5 1657.3 1025.8 1659.2 1027.9 1660.3C1030.0 1661.5 1032.7 1660.6 1034.8 1661.7C1036.9 1662.9 1039.0 1665.0 1040.3 1667.3C1041.7 1669.6 1042.7 1672.3 1043.1 1675.6C1043.6 1678.8 1043.3 1682.9 1043.1 1686.6C1042.9 1690.3 1042.4 1694.5 1041.7 1697.7C1041.0 1700.9 1040.8 1704.3 1039.0 1706.0C1037.1 1707.7 1032.7 1708.5 1030.7 1708.1C1028.6 1707.6 1027.4 1705.4 1026.5 1703.2C1025.6 1701.0 1024.4 1697.2 1025.1 1694.9C1025.8 1692.6 1029.0 1691.7 1030.7 1689.4C1032.3 1687.1 1034.6 1683.9 1034.8 1681.1C1035.0 1678.3 1033.4 1675.1 1032.0 1672.8C1030.7 1670.5 1028.6 1668.9 1026.5 1667.3C1024.4 1665.6 1021.7 1664.7 1019.6 1663.1C1017.5 1661.5 1015.0 1660.1 1014.1 1657.6C1013.1 1655.0 1014.5 1651.4 1014.1 1647.9C1013.6 1644.4 1010.8 1638.7 1011.3 1636.8Z" vector-effect="non-scaling-stroke"/>
<path id="k39" d="M1113.7 1063.0C1116.1 1063.3 1118.6 1064.7 1120.7 1066.4C1122.8 1068.2 1124.6 1070.6 1126.3 1073.4C1127.9 1076.2 1129.3 1079.9 1130.4 1083.1C1131.6 1086.4 1132.3 1089.6 1133.2 1092.9C1134.2 1096.1 1135.1 1099.4 1136.0 1102.6C1136.9 1105.9 1137.6 1108.9 1138.8 1112.4C1140.0 1115.8 1141.9 1120.4 1143.0 1123.5C1144.0 1126.6 1145.5 1130.4 1145.1 1131.1C1144.6 1131.8 1141.9 1129.4 1140.2 1127.7C1138.4 1125.9 1136.5 1122.3 1134.6 1120.7C1132.8 1119.1 1130.9 1117.5 1129.1 1117.9C1127.2 1118.4 1125.3 1122.1 1123.5 1123.5C1121.6 1124.9 1119.5 1126.3 1117.9 1126.3C1116.3 1126.3 1114.2 1124.9 1113.7 1123.5C1113.3 1122.1 1115.8 1119.8 1115.1 1117.9C1114.4 1116.1 1111.0 1112.4 1109.6 1112.4C1108.2 1112.4 1107.5 1115.1 1106.8 1117.9C1106.1 1120.7 1105.7 1125.3 1105.4 1129.1C1105.1 1132.8 1105.1 1137.4 1104.7 1140.2C1104.4 1143.0 1103.9 1145.8 1103.3 1145.8C1102.7 1145.8 1101.6 1142.7 1101.2 1140.2C1100.9 1137.6 1101.7 1133.2 1101.2 1130.4C1100.8 1127.7 1099.4 1126.0 1098.4 1123.5C1097.5 1120.9 1096.8 1117.9 1095.7 1115.1C1094.5 1112.4 1092.9 1109.1 1091.5 1106.8C1090.1 1104.5 1087.3 1103.1 1087.3 1101.2C1087.3 1099.4 1090.3 1098.2 1091.5 1095.7C1092.6 1093.1 1093.6 1088.9 1094.3 1085.9C1095.0 1082.9 1094.7 1080.4 1095.7 1077.6C1096.6 1074.8 1098.0 1071.4 1099.8 1069.2C1101.7 1067.0 1104.5 1065.4 1106.8 1064.4C1109.1 1063.3 1111.4 1062.6 1113.7 1063.0Z" vector-effect="non-scaling-stroke"/>
<path id="k40" d="M1102.1 1146.2C1102.2 1147.2 1105.0 1154.1 1105.6 1155.9C1106.2 1157.7 1107.6 1162.7 1108.5 1164.4C1109.3 1166.1 1112.8 1171.3 1114.2 1173.0C1115.6 1174.7 1121.6 1180.8 1122.6 1181.4C1123.6 1182.1 1125.0 1180.7 1124.4 1179.7C1123.7 1178.7 1117.5 1173.0 1116.1 1171.4C1114.7 1169.8 1111.5 1164.9 1110.7 1163.3C1109.9 1161.7 1108.6 1156.9 1108.0 1155.1C1107.4 1153.3 1105.1 1146.2 1104.5 1145.3C1103.9 1144.4 1102.0 1145.1 1102.1 1146.2Z" vector-effect="non-scaling-stroke"/>
<path id="k41" d="M1080.4 1137.4C1081.7 1135.5 1085.0 1134.2 1087.3 1133.2C1089.6 1132.3 1092.4 1131.1 1094.3 1131.8C1096.1 1132.5 1097.5 1135.3 1098.4 1137.4C1099.4 1139.5 1099.8 1142.0 1099.8 1144.4C1099.8 1146.7 1098.0 1149.2 1098.4 1151.3C1098.9 1153.4 1102.4 1155.3 1102.6 1156.9C1102.8 1158.5 1101.5 1160.6 1099.8 1161.1C1098.2 1161.5 1095.0 1160.6 1092.9 1159.7C1090.8 1158.7 1089.2 1157.1 1087.3 1155.5C1085.5 1153.9 1083.1 1151.8 1081.7 1149.9C1080.4 1148.1 1079.2 1146.4 1079.0 1144.4C1078.7 1142.3 1079.0 1139.3 1080.4 1137.4Z" vector-effect="non-scaling-stroke"/>
<path id="k42" d="M1056.1 1154.7C1057.5 1154.2 1065.9 1148.2 1068.4 1147.1C1070.9 1146.1 1079.5 1145.0 1080.7 1144.4C1081.8 1143.9 1081.4 1141.5 1080.0 1141.5C1078.7 1141.5 1069.8 1143.3 1067.3 1144.4C1064.7 1145.4 1055.6 1151.1 1054.5 1152.1C1053.4 1153.2 1054.7 1155.2 1056.1 1154.7Z" vector-effect="non-scaling-stroke"/>
<path id="k43" d="M1074.0 1159.0C1072.8 1160.1 1063.9 1170.1 1062.9 1171.5C1061.9 1172.9 1063.1 1174.0 1064.4 1172.9C1065.7 1171.7 1074.6 1161.7 1075.5 1160.3C1076.5 1158.9 1075.3 1157.9 1074.0 1159.0Z" vector-effect="non-scaling-stroke"/>
<path id="k44" d="M1090.1 1205.6C1093.1 1203.0 1103.1 1204.2 1106.8 1205.6C1110.5 1207.0 1111.2 1210.2 1112.4 1213.9C1113.5 1217.6 1113.3 1223.2 1113.7 1227.8C1114.2 1232.5 1115.4 1237.4 1115.1 1241.8C1114.9 1246.2 1111.9 1250.8 1112.4 1254.3C1112.8 1257.8 1116.1 1260.1 1117.9 1262.6C1119.8 1265.2 1122.8 1266.8 1123.5 1269.6C1124.2 1272.4 1123.3 1276.3 1122.1 1279.3C1120.9 1282.3 1118.6 1284.9 1116.5 1287.7C1114.4 1290.5 1111.9 1293.7 1109.6 1296.0C1107.3 1298.3 1104.5 1299.0 1102.6 1301.6C1100.8 1304.1 1099.6 1307.9 1098.4 1311.3C1097.3 1314.8 1095.7 1319.0 1095.7 1322.5C1095.7 1325.9 1097.5 1329.3 1098.4 1332.2C1099.4 1335.1 1107.0 1338.7 1101.2 1340.0C1095.4 1341.3 1068.8 1341.8 1063.7 1340.0C1058.6 1338.2 1068.3 1333.0 1070.6 1329.4C1072.9 1325.8 1075.5 1322.0 1077.6 1318.3C1079.7 1314.6 1081.5 1310.9 1083.1 1307.2C1084.8 1303.5 1085.9 1299.7 1087.3 1296.0C1088.7 1292.3 1090.6 1288.6 1091.5 1284.9C1092.4 1281.2 1092.8 1277.5 1092.9 1273.8C1093.0 1270.1 1092.4 1266.8 1092.2 1262.6C1091.9 1258.5 1091.8 1253.4 1091.5 1248.7C1091.1 1244.1 1090.6 1239.4 1090.1 1234.8C1089.6 1230.2 1088.7 1225.8 1088.7 1220.9C1088.7 1216.0 1087.1 1208.1 1090.1 1205.6Z" vector-effect="non-scaling-stroke"/>
<path id="k45" d="M1123.5 1180.5C1126.3 1179.6 1131.4 1181.0 1134.6 1181.9C1137.9 1182.9 1140.4 1184.5 1143.0 1186.1C1145.5 1187.7 1147.8 1189.6 1149.9 1191.7C1152.0 1193.8 1154.1 1196.5 1155.5 1198.6C1156.9 1200.7 1158.5 1202.1 1158.3 1204.2C1158.0 1206.3 1155.5 1208.6 1154.1 1211.2C1152.7 1213.7 1151.8 1216.7 1149.9 1219.5C1148.1 1222.3 1145.1 1224.6 1143.0 1227.8C1140.9 1231.1 1138.8 1235.5 1137.4 1239.0C1136.0 1242.5 1135.5 1245.5 1134.6 1248.7C1133.7 1252.0 1132.8 1256.1 1131.8 1258.5C1130.9 1260.8 1130.9 1261.9 1129.1 1262.6C1127.2 1263.3 1123.3 1263.6 1120.7 1262.6C1118.2 1261.7 1114.9 1260.5 1113.7 1257.1C1112.6 1253.6 1113.7 1246.6 1113.7 1241.8C1113.7 1236.9 1114.0 1232.5 1113.7 1227.8C1113.5 1223.2 1113.3 1217.9 1112.4 1213.9C1111.4 1210.0 1108.2 1207.2 1108.2 1204.2C1108.2 1201.2 1110.7 1198.6 1112.4 1195.8C1114.0 1193.1 1116.1 1190.0 1117.9 1187.5C1119.8 1184.9 1120.7 1181.5 1123.5 1180.5Z" vector-effect="non-scaling-stroke"/>
<path id="k46" d="M1158.3 1200.0C1160.1 1197.9 1162.7 1198.4 1165.2 1198.6C1167.8 1198.9 1170.8 1200.7 1173.6 1201.4C1176.4 1202.1 1179.4 1201.9 1181.9 1202.8C1184.5 1203.7 1187.5 1204.4 1188.9 1207.0C1190.3 1209.5 1189.6 1214.4 1190.3 1218.1C1191.0 1221.8 1192.8 1225.5 1193.1 1229.2C1193.3 1232.9 1192.6 1236.7 1191.7 1240.4C1190.7 1244.1 1189.1 1247.8 1187.5 1251.5C1185.9 1255.2 1183.8 1259.9 1181.9 1262.6C1180.1 1265.4 1178.7 1267.7 1176.4 1268.2C1174.0 1268.7 1170.8 1266.3 1168.0 1265.4C1165.2 1264.5 1162.4 1262.9 1159.7 1262.6C1156.9 1262.4 1154.1 1264.0 1151.3 1264.0C1148.5 1264.0 1146.2 1263.3 1143.0 1262.6C1139.7 1261.9 1133.2 1262.2 1131.8 1259.9C1130.4 1257.5 1133.7 1252.2 1134.6 1248.7C1135.5 1245.2 1136.0 1242.5 1137.4 1239.0C1138.8 1235.5 1140.9 1231.1 1143.0 1227.8C1145.1 1224.6 1148.1 1222.3 1149.9 1219.5C1151.8 1216.7 1152.7 1214.4 1154.1 1211.2C1155.5 1207.9 1156.4 1202.1 1158.3 1200.0Z" vector-effect="non-scaling-stroke"/>
<path id="k47" d="M1129.1 1265.4C1130.9 1263.3 1135.5 1265.4 1137.4 1266.8C1139.3 1268.2 1140.4 1271.4 1140.2 1273.8C1140.0 1276.1 1137.6 1278.9 1136.0 1280.7C1134.4 1282.6 1132.1 1285.1 1130.4 1284.9C1128.8 1284.7 1126.5 1282.6 1126.3 1279.3C1126.0 1276.1 1127.2 1267.5 1129.1 1265.4Z" vector-effect="non-scaling-stroke"/>
<path id="k48" d="M1105.7 1300.9C1107.5 1298.6 1110.8 1297.6 1114.0 1296.7C1117.3 1295.8 1121.9 1295.5 1125.1 1295.3C1128.4 1295.1 1131.9 1293.7 1133.5 1295.3C1135.1 1296.9 1135.1 1301.8 1134.9 1305.0C1134.6 1308.3 1133.7 1311.8 1132.1 1314.8C1130.5 1317.8 1127.7 1320.8 1125.1 1323.1C1122.6 1325.5 1119.6 1327.8 1116.8 1328.7C1114.0 1329.6 1110.5 1329.9 1108.4 1328.7C1106.4 1327.5 1105.2 1324.8 1104.3 1321.7C1103.3 1318.7 1102.6 1314.1 1102.9 1310.6C1103.1 1307.1 1103.8 1303.2 1105.7 1300.9Z" vector-effect="non-scaling-stroke"/>
<path id="k49" d="M1055.6 1344.0C1056.3 1341.9 1061.1 1338.7 1063.9 1335.7C1066.7 1332.6 1069.9 1329.2 1072.3 1325.9C1074.6 1322.7 1075.7 1318.0 1077.8 1316.2C1079.9 1314.3 1081.3 1315.0 1084.8 1314.8C1088.3 1314.6 1095.7 1312.9 1098.7 1314.8C1101.7 1316.6 1102.4 1322.4 1102.9 1325.9C1103.3 1329.4 1101.0 1332.2 1101.5 1335.7C1101.9 1339.1 1104.3 1343.1 1105.7 1346.8C1107.1 1350.5 1108.9 1354.2 1109.8 1357.9C1110.8 1361.6 1111.2 1365.8 1111.2 1369.1C1111.2 1372.3 1109.4 1374.6 1109.8 1377.4C1110.3 1380.2 1114.2 1383.7 1114.0 1385.8C1113.8 1387.8 1111.2 1389.0 1108.4 1389.9C1105.7 1390.9 1100.1 1391.5 1097.3 1391.3C1094.5 1391.1 1094.1 1391.3 1091.7 1388.5C1089.4 1385.8 1086.2 1378.8 1083.4 1374.6C1080.6 1370.4 1077.8 1366.7 1075.0 1363.5C1072.3 1360.2 1069.2 1357.7 1066.7 1355.1C1064.1 1352.6 1061.6 1350.0 1059.7 1348.2C1057.9 1346.3 1054.9 1346.1 1055.6 1344.0Z" vector-effect="non-scaling-stroke"/>
<path id="k50" d="M1091.7 1385.8C1093.1 1383.0 1099.9 1378.3 1102.9 1377.4C1105.9 1376.5 1107.5 1378.3 1109.8 1380.2C1112.2 1382.0 1114.7 1385.5 1116.8 1388.5C1118.9 1391.5 1120.5 1394.8 1122.4 1398.3C1124.2 1401.8 1126.1 1405.7 1127.9 1409.4C1129.8 1413.1 1132.1 1416.6 1133.5 1420.5C1134.9 1424.5 1135.6 1429.1 1136.3 1433.1C1137.0 1437.0 1137.0 1440.5 1137.7 1444.2C1138.4 1447.9 1139.7 1451.6 1140.4 1455.3C1141.1 1459.0 1141.4 1462.7 1141.8 1466.5C1142.3 1470.2 1143.0 1474.1 1143.2 1477.6C1143.5 1481.1 1144.4 1485.2 1143.2 1487.3C1142.1 1489.4 1138.8 1489.9 1136.3 1490.1C1133.7 1490.3 1130.7 1489.6 1127.9 1488.7C1125.1 1487.8 1121.7 1486.6 1119.6 1484.5C1117.5 1482.5 1116.8 1479.2 1115.4 1476.2C1114.0 1473.2 1112.4 1469.9 1111.2 1466.5C1110.1 1463.0 1109.1 1459.0 1108.4 1455.3C1107.7 1451.6 1107.3 1448.4 1107.1 1444.2C1106.8 1440.0 1107.5 1434.7 1107.1 1430.3C1106.6 1425.9 1105.4 1421.9 1104.3 1417.8C1103.1 1413.6 1101.7 1409.2 1100.1 1405.2C1098.5 1401.3 1095.9 1397.3 1094.5 1394.1C1093.1 1390.9 1090.4 1388.5 1091.7 1385.8Z" vector-effect="non-scaling-stroke"/>
<path id="k51" d="M1111.2 1371.8C1112.8 1370.7 1118.6 1372.8 1122.4 1373.2C1126.1 1373.7 1129.8 1374.2 1133.5 1374.6C1137.2 1375.1 1141.4 1375.5 1144.6 1376.0C1147.9 1376.5 1150.2 1377.4 1153.0 1377.4C1155.8 1377.4 1158.3 1377.4 1161.3 1376.0C1164.3 1374.6 1168.7 1368.4 1171.1 1369.1C1173.4 1369.7 1173.8 1376.0 1175.2 1380.2C1176.6 1384.4 1178.4 1389.5 1179.4 1394.1C1180.4 1398.7 1181.5 1403.8 1181.5 1408.0C1181.5 1412.2 1180.7 1416.1 1179.4 1419.1C1178.1 1422.2 1175.5 1423.6 1173.8 1426.1C1172.2 1428.7 1170.8 1431.4 1169.7 1434.5C1168.5 1437.5 1168.3 1441.2 1166.9 1444.2C1165.5 1447.2 1162.9 1449.8 1161.3 1452.5C1159.7 1455.3 1158.5 1458.1 1157.1 1460.9C1155.8 1463.7 1154.6 1468.3 1153.0 1469.2C1151.3 1470.2 1149.0 1467.8 1147.4 1466.5C1145.8 1465.1 1144.4 1462.7 1143.2 1460.9C1142.1 1459.0 1141.4 1458.1 1140.4 1455.3C1139.5 1452.5 1138.4 1447.9 1137.7 1444.2C1137.0 1440.5 1137.0 1437.0 1136.3 1433.1C1135.6 1429.1 1134.9 1424.5 1133.5 1420.5C1132.1 1416.6 1129.8 1413.1 1127.9 1409.4C1126.1 1405.7 1124.2 1401.8 1122.4 1398.3C1120.5 1394.8 1118.4 1391.5 1116.8 1388.5C1115.2 1385.5 1113.5 1383.0 1112.6 1380.2C1111.7 1377.4 1109.6 1373.0 1111.2 1371.8Z" vector-effect="non-scaling-stroke"/>
<path id="k52" d="M1153.0 1453.9C1154.1 1452.5 1156.3 1453.5 1157.1 1455.3C1158.0 1457.2 1158.1 1461.8 1157.8 1465.1C1157.6 1468.3 1156.6 1471.8 1155.8 1474.8C1154.9 1477.8 1154.1 1481.1 1153.0 1483.2C1151.8 1485.2 1150.2 1486.9 1148.8 1487.3C1147.4 1487.8 1145.3 1487.3 1144.6 1485.9C1143.9 1484.5 1144.2 1481.3 1144.6 1479.0C1145.1 1476.7 1146.5 1474.6 1147.4 1472.0C1148.3 1469.5 1149.3 1466.7 1150.2 1463.7C1151.1 1460.7 1151.8 1455.3 1153.0 1453.9Z" vector-effect="non-scaling-stroke"/>
<path id="k53" d="M1217.0 1288.3C1218.1 1288.1 1221.2 1293.0 1223.9 1295.3C1226.7 1297.6 1230.2 1300.4 1233.7 1302.3C1237.2 1304.1 1241.1 1305.0 1244.8 1306.4C1248.5 1307.8 1252.7 1309.2 1255.9 1310.6C1259.2 1312.0 1263.8 1313.4 1264.3 1314.8C1264.7 1316.2 1261.0 1317.1 1258.7 1319.0C1256.4 1320.8 1253.2 1323.1 1250.4 1325.9C1247.6 1328.7 1244.8 1332.2 1242.0 1335.7C1239.2 1339.1 1236.5 1343.5 1233.7 1346.8C1230.9 1350.0 1228.1 1352.6 1225.3 1355.1C1222.5 1357.7 1220.2 1360.2 1217.0 1362.1C1213.7 1364.0 1209.6 1365.1 1205.8 1366.3C1202.1 1367.4 1197.7 1368.4 1194.7 1369.1C1191.7 1369.7 1188.7 1371.1 1187.8 1370.4C1186.8 1369.7 1187.5 1366.5 1189.1 1364.9C1190.8 1363.3 1194.7 1362.3 1197.5 1360.7C1200.3 1359.1 1203.8 1357.5 1205.8 1355.1C1207.9 1352.8 1209.6 1349.6 1210.0 1346.8C1210.5 1344.0 1209.8 1340.8 1208.6 1338.4C1207.5 1336.1 1204.9 1334.0 1203.1 1332.9C1201.2 1331.7 1197.5 1333.1 1197.5 1331.5C1197.5 1329.9 1201.4 1325.9 1203.1 1323.1C1204.7 1320.4 1206.3 1318.0 1207.2 1314.8C1208.2 1311.5 1207.5 1306.0 1208.6 1303.7C1209.8 1301.3 1212.8 1302.0 1214.2 1300.9C1215.6 1299.7 1216.5 1298.8 1217.0 1296.7C1217.4 1294.6 1215.8 1288.6 1217.0 1288.3Z" vector-effect="non-scaling-stroke"/>
<path id="k54" d="M1264.3 1314.8C1266.4 1314.6 1269.6 1315.7 1271.2 1317.6C1272.9 1319.4 1273.6 1322.4 1274.0 1325.9C1274.5 1329.4 1274.5 1334.5 1274.0 1338.4C1273.6 1342.4 1272.6 1346.1 1271.2 1349.6C1269.9 1353.1 1267.8 1356.3 1265.7 1359.3C1263.6 1362.3 1261.3 1365.3 1258.7 1367.7C1256.2 1370.0 1253.2 1371.8 1250.4 1373.2C1247.6 1374.6 1244.8 1375.5 1242.0 1376.0C1239.2 1376.5 1236.5 1376.5 1233.7 1376.0C1230.9 1375.5 1228.1 1374.6 1225.3 1373.2C1222.5 1371.8 1218.6 1369.5 1217.0 1367.7C1215.4 1365.8 1214.2 1364.2 1215.6 1362.1C1217.0 1360.0 1222.3 1357.7 1225.3 1355.1C1228.3 1352.6 1230.9 1350.0 1233.7 1346.8C1236.5 1343.5 1239.2 1339.1 1242.0 1335.7C1244.8 1332.2 1247.6 1328.7 1250.4 1325.9C1253.2 1323.1 1256.4 1320.8 1258.7 1319.0C1261.0 1317.1 1262.2 1315.0 1264.3 1314.8Z" vector-effect="non-scaling-stroke"/>
<path id="k55" d="M856.9 1144.7C860.1 1141.5 869.7 1141.5 875.7 1139.1C881.6 1136.8 888.3 1134.3 892.4 1130.8C896.4 1127.3 897.2 1120.6 900.0 1118.3C902.8 1116.0 906.2 1113.4 909.1 1116.9C912.0 1120.4 918.3 1134.0 917.4 1139.1C916.5 1144.2 908.1 1144.9 903.5 1147.5C898.8 1150.0 894.2 1151.9 889.6 1154.5C884.9 1157.0 879.8 1161.2 875.7 1162.8C871.5 1164.4 867.8 1164.9 864.5 1164.2C861.3 1163.5 857.5 1161.9 856.2 1158.6C854.9 1155.4 853.6 1148.0 856.9 1144.7Z" vector-effect="non-scaling-stroke"/>
<path id="k56" d="M938.3 1146.1C941.1 1146.1 954.7 1154.0 959.1 1153.1C963.6 1152.1 964.2 1140.5 964.7 1140.5C965.2 1140.5 963.3 1149.8 961.9 1153.1C960.5 1156.3 958.2 1157.7 956.4 1160.0C954.5 1162.3 951.3 1164.7 950.8 1167.0C950.3 1169.3 952.2 1171.2 953.6 1173.9C955.0 1176.7 959.1 1180.2 959.1 1183.7C959.1 1187.2 955.9 1193.4 953.6 1194.8C951.3 1196.2 947.1 1194.3 945.2 1192.0C943.4 1189.7 943.8 1184.4 942.4 1180.9C941.1 1177.4 937.1 1174.2 936.9 1171.2C936.7 1168.1 940.1 1165.8 941.1 1162.8C942.0 1159.8 942.9 1155.8 942.4 1153.1C942.0 1150.3 935.5 1146.1 938.3 1146.1Z" vector-effect="non-scaling-stroke"/>
<path id="k57" d="M953.6 1173.9C955.7 1173.2 959.6 1178.6 961.9 1180.9C964.2 1183.2 965.9 1185.1 967.5 1187.8C969.1 1190.6 970.3 1194.1 971.7 1197.6C973.1 1201.1 974.2 1205.7 975.8 1208.7C977.5 1211.7 980.7 1212.2 981.4 1215.7C982.1 1219.2 981.4 1227.5 980.0 1229.6C978.6 1231.7 975.6 1230.3 973.1 1228.2C970.5 1226.1 967.3 1220.8 964.7 1217.1C962.2 1213.4 959.8 1209.6 957.8 1205.9C955.7 1202.2 953.6 1198.3 952.2 1194.8C950.8 1191.3 949.2 1188.5 949.4 1185.1C949.6 1181.6 951.5 1174.6 953.6 1173.9Z" vector-effect="non-scaling-stroke"/>
<path id="k58" d="M897.9 1200.4C899.1 1198.5 903.5 1196.7 906.3 1194.8C909.1 1192.9 911.8 1191.1 914.6 1189.2C917.4 1187.4 920.2 1185.5 923.0 1183.7C925.8 1181.8 928.3 1177.9 931.3 1178.1C934.3 1178.3 940.1 1182.7 941.1 1185.1C942.0 1187.4 939.0 1189.2 936.9 1192.0C934.8 1194.8 930.9 1199.4 928.5 1201.8C926.2 1204.1 926.2 1205.0 923.0 1205.9C919.7 1206.9 913.0 1207.3 909.1 1207.3C905.1 1207.3 901.2 1207.1 899.3 1205.9C897.5 1204.8 896.8 1202.2 897.9 1200.4Z" vector-effect="non-scaling-stroke"/>
<path id="k59" d="M946.6 1194.8C948.0 1194.3 955.2 1202.2 959.1 1205.9C963.1 1209.6 966.8 1213.1 970.3 1217.1C973.8 1221.0 978.9 1225.2 980.0 1229.6C981.2 1234.0 977.5 1238.9 977.2 1243.5C977.0 1248.1 979.2 1252.4 978.6 1257.4C978.1 1262.5 974.9 1266.5 973.9 1273.9C972.9 1281.3 973.4 1292.9 972.5 1301.7C971.7 1310.6 971.2 1323.1 969.1 1326.8C967.0 1330.5 962.7 1325.9 960.0 1324.0C957.4 1322.2 953.5 1319.4 953.1 1315.7C952.6 1311.9 956.3 1305.7 957.2 1301.7C958.2 1297.8 958.5 1298.2 958.6 1292.0C958.7 1285.8 957.7 1271.3 957.8 1264.4C957.8 1257.5 959.1 1255.1 959.1 1250.5C959.1 1245.8 958.5 1241.2 957.8 1236.5C957.1 1231.9 956.1 1227.3 955.0 1222.6C953.8 1218.0 952.2 1213.4 950.8 1208.7C949.4 1204.1 945.2 1195.3 946.6 1194.8Z" vector-effect="non-scaling-stroke"/>
<path id="k60" d="M826.5 1380.6C828.2 1377.1 836.1 1378.1 840.9 1379.0C845.7 1379.8 851.4 1384.1 855.3 1385.5C859.1 1386.8 861.0 1385.2 863.9 1387.1C866.8 1389.0 870.6 1392.6 872.5 1396.9C874.5 1401.3 875.9 1408.9 875.4 1413.2C874.9 1417.6 872.5 1422.5 869.7 1423.0C866.8 1423.6 861.5 1418.9 858.2 1416.5C854.8 1414.0 852.9 1410.5 849.5 1408.3C846.2 1406.2 841.1 1404.8 838.0 1403.4C834.9 1402.1 832.7 1404.0 830.8 1400.2C828.9 1396.4 824.8 1384.1 826.5 1380.6Z" vector-effect="non-scaling-stroke"/>
<path id="k61" d="M895.6 1380.6C897.0 1377.9 902.8 1376.5 907.1 1377.3C911.4 1378.1 918.1 1381.7 921.5 1385.5C924.8 1389.3 927.2 1395.0 927.2 1400.2C927.2 1405.3 922.9 1411.0 921.5 1416.5C920.0 1421.9 920.0 1427.4 918.6 1432.8C917.1 1438.2 914.7 1444.2 912.8 1449.1C910.9 1454.0 909.5 1458.6 907.1 1462.2C904.7 1465.7 900.8 1470.9 898.4 1470.3C896.0 1469.8 895.1 1461.4 892.7 1458.9C890.3 1456.5 884.5 1458.9 884.1 1455.6C883.6 1452.4 888.1 1444.8 889.8 1439.3C891.5 1433.9 893.6 1428.5 894.1 1423.0C894.6 1417.6 892.0 1411.6 892.7 1406.7C893.4 1401.8 898.0 1398.0 898.4 1393.6C898.9 1389.3 894.1 1383.3 895.6 1380.6Z" vector-effect="non-scaling-stroke"/>
<path id="k62" d="M869.7 1436.1C872.1 1432.3 880.2 1429.0 884.1 1432.8C887.9 1436.6 890.3 1452.7 892.7 1458.9C895.1 1465.2 896.0 1467.6 898.4 1470.3C900.8 1473.0 907.1 1474.7 907.1 1475.2C907.1 1475.8 901.3 1475.8 898.4 1473.6C895.6 1471.4 892.7 1464.3 889.8 1462.2C886.9 1460.0 884.5 1461.6 881.2 1460.5C877.8 1459.4 871.6 1459.7 869.7 1455.6C867.7 1451.6 867.3 1439.9 869.7 1436.1Z" vector-effect="non-scaling-stroke"/>
<path id="k63" d="M921.5 1331.7C923.9 1330.8 927.7 1332.5 927.2 1334.9C926.7 1337.4 921.5 1343.3 918.6 1346.3C915.7 1349.3 912.1 1352.6 909.9 1352.9C907.8 1353.1 905.2 1350.1 905.6 1348.0C906.1 1345.8 910.2 1342.5 912.8 1339.8C915.5 1337.1 919.1 1332.5 921.5 1331.7Z" vector-effect="non-scaling-stroke"/>
<path id="k64" d="M1114.0 1280.0C1117.7 1277.7 1126.5 1275.1 1133.5 1274.4C1140.4 1273.7 1149.3 1274.9 1155.8 1275.8C1162.2 1276.8 1170.1 1275.8 1172.4 1280.0C1174.8 1284.2 1170.4 1293.9 1169.7 1300.9C1169.0 1307.8 1168.3 1313.2 1168.3 1321.7C1168.3 1330.3 1169.2 1344.5 1169.7 1352.4C1170.1 1360.2 1172.4 1365.1 1171.1 1369.1C1169.7 1373.0 1164.3 1374.6 1161.3 1376.0C1158.3 1377.4 1157.6 1377.6 1153.0 1377.4C1148.3 1377.2 1140.4 1375.5 1133.5 1374.6C1126.5 1373.7 1115.2 1374.6 1111.2 1371.8C1107.3 1369.1 1110.8 1362.1 1109.8 1357.9C1108.9 1353.7 1107.1 1350.5 1105.7 1346.8C1104.3 1343.1 1101.9 1339.1 1101.5 1335.7C1101.0 1332.2 1103.3 1329.4 1102.9 1325.9C1102.4 1322.4 1098.9 1318.3 1098.7 1314.8C1098.5 1311.3 1100.3 1308.1 1101.5 1305.0C1102.6 1302.0 1104.0 1299.5 1105.7 1296.7C1107.3 1293.9 1109.8 1291.1 1111.2 1288.3C1112.6 1285.6 1110.3 1282.3 1114.0 1280.0Z" vector-effect="non-scaling-stroke"/>
<path id="k65" d="M1155.8 1312.0C1157.1 1310.1 1163.4 1309.0 1165.5 1310.6C1167.6 1312.2 1167.6 1314.8 1168.3 1321.7C1169.0 1328.7 1169.2 1344.5 1169.7 1352.4C1170.1 1360.2 1172.4 1365.1 1171.1 1369.1C1169.7 1373.0 1164.3 1374.6 1161.3 1376.0C1158.3 1377.4 1155.3 1379.5 1153.0 1377.4C1150.6 1375.3 1147.9 1368.1 1147.4 1363.5C1146.9 1358.8 1148.8 1354.2 1150.2 1349.6C1151.6 1344.9 1154.6 1340.3 1155.8 1335.7C1156.9 1331.0 1157.1 1325.7 1157.1 1321.7C1157.1 1317.8 1154.4 1313.9 1155.8 1312.0Z" vector-effect="non-scaling-stroke"/>
<path id="k66" d="M1090.1 1205.6C1088.8 1203.5 1088.5 1196.5 1089.4 1193.1C1090.3 1189.6 1094.2 1184.7 1095.7 1184.7C1097.2 1184.7 1098.2 1189.6 1098.4 1193.1C1098.7 1196.5 1098.4 1203.5 1097.1 1205.6C1095.7 1207.7 1091.4 1207.7 1090.1 1205.6Z" vector-effect="non-scaling-stroke"/>
<path id="k67" d="M999.9 1564.1C1002.6 1563.0 1006.5 1560.9 1011.5 1560.7C1016.5 1560.5 1024.5 1563.4 1029.9 1563.0C1035.3 1562.6 1040.5 1559.9 1043.7 1558.4C1047.0 1556.8 1047.6 1552.6 1049.5 1553.8C1051.4 1554.9 1054.7 1562.2 1055.3 1565.3C1055.9 1568.4 1054.1 1569.9 1053.0 1572.2C1051.8 1574.5 1049.9 1577.2 1048.4 1579.1C1046.8 1581.1 1045.5 1581.2 1043.7 1583.7C1042.0 1586.2 1040.3 1589.9 1038.0 1594.1C1035.7 1598.3 1032.8 1608.9 1029.9 1609.1C1027.0 1609.3 1021.7 1598.5 1020.7 1595.3C1019.7 1592.0 1024.1 1591.4 1024.1 1589.5C1024.1 1587.6 1022.8 1584.9 1020.7 1583.7C1018.6 1582.6 1014.2 1583.0 1011.5 1582.6C1008.8 1582.2 1006.1 1581.6 1004.6 1581.4C1003.0 1581.2 1003.2 1582.6 1002.2 1581.4C1001.3 1580.3 999.9 1576.8 998.8 1574.5C997.6 1572.2 995.1 1569.3 995.3 1567.6C995.5 1565.9 997.3 1565.3 999.9 1564.1Z" vector-effect="non-scaling-stroke"/>
<path id="k68" d="M983.6 1672.8C985.2 1667.0 991.5 1653.9 994.7 1649.3C997.9 1644.7 999.8 1645.4 1003.0 1645.1C1006.2 1644.9 1012.2 1645.8 1014.1 1647.9C1015.9 1650.0 1013.1 1655.0 1014.1 1657.6C1015.0 1660.1 1017.5 1661.5 1019.6 1663.1C1021.7 1664.7 1024.4 1665.6 1026.5 1667.3C1028.6 1668.9 1030.7 1670.5 1032.0 1672.8C1033.4 1675.1 1035.0 1678.3 1034.8 1681.1C1034.6 1683.9 1032.3 1687.1 1030.7 1689.4C1029.0 1691.7 1027.0 1695.2 1025.1 1694.9C1023.3 1694.7 1022.4 1688.5 1019.6 1688.0C1016.8 1687.6 1011.3 1691.0 1008.5 1692.2C1005.8 1693.3 1005.5 1695.9 1003.0 1694.9C1000.5 1694.0 996.1 1686.6 993.3 1686.6C990.5 1686.6 987.8 1695.4 986.4 1694.9C985.0 1694.5 985.5 1687.6 985.0 1683.9C984.6 1680.2 982.0 1678.6 983.6 1672.8Z" vector-effect="non-scaling-stroke"/>
<path id="k69" d="M1188.7 1195.4C1189.4 1194.3 1192.6 1184.7 1192.7 1183.4C1192.9 1182.1 1190.9 1181.5 1190.3 1182.6C1189.6 1183.7 1186.4 1193.3 1186.3 1194.6C1186.1 1195.9 1188.1 1196.5 1188.7 1195.4Z" vector-effect="non-scaling-stroke"/>
<path id="k70" d="M1047.0 1181.0C1047.5 1179.8 1049.9 1178.8 1051.0 1179.0C1052.1 1179.2 1053.3 1180.8 1053.5 1182.0C1053.7 1183.2 1052.9 1185.2 1052.0 1186.0C1051.1 1186.8 1048.8 1187.3 1048.0 1186.5C1047.2 1185.7 1046.5 1182.2 1047.0 1181.0Z" vector-effect="non-scaling-stroke"/>
<g id="sil"><use href="#k0"/><use href="#k1"/><use href="#k2"/><use href="#k3"/><use href="#k4"/><use href="#k5"/><use href="#k6"/><use href="#k7" opacity="0.90"/><use href="#k8"/><use href="#k9"/><use href="#k10"/><use href="#k11"/><use href="#k12"/><use href="#k13"/><use href="#k14"/><use href="#k15"/><use href="#k16"/><use href="#k17"/><use href="#k18"/><use href="#k19"/><use href="#k20"/><use href="#k21"/><use href="#k22"/><use href="#k23"/><use href="#k24"/><use href="#k25"/><use href="#k26"/><use href="#k27"/><use href="#k28"/><use href="#k29" opacity="0.75"/><use href="#k30" opacity="0.75"/><use href="#k31"/><use href="#k32"/><use href="#k33"/><use href="#k34"/><use href="#k35"/><use href="#k36"/><use href="#k37"/><use href="#k38"/><use href="#k39"/><use href="#k40" opacity="0.60"/><use href="#k41"/><use href="#k42"/><use href="#k43"/><use href="#k44"/><use href="#k45"/><use href="#k46"/><use href="#k47"/><use href="#k48"/><use href="#k49"/><use href="#k50"/><use href="#k51"/><use href="#k52"/><use href="#k53" opacity="0.85"/><use href="#k54"/><use href="#k55" opacity="0.70"/><use href="#k56" opacity="0.80"/><use href="#k57" opacity="0.72"/><use href="#k58" opacity="0.56"/><use href="#k59" opacity="0.72"/><use href="#k60" opacity="0.64"/><use href="#k61" opacity="0.72"/><use href="#k62" opacity="0.80"/><use href="#k63" opacity="0.80"/><use href="#k64" opacity="0.70"/><use href="#k65" opacity="0.50"/><use href="#k66" opacity="0.64"/><use href="#k67" opacity="0.40"/><use href="#k68" opacity="0.45"/><use href="#k69"/><use href="#k70"/></g>
</defs>
<defs>
<pattern id="pw1" width="36" height="36" patternUnits="userSpaceOnUse"><g fill="#fff"><circle cx="16.3" cy="20.2" r="1.25"/><circle cx="33.3" cy="16.8" r="1.25"/><circle cx="18.3" cy="21.1" r="1.25"/><circle cx="6.6" cy="18.4" r="1.25"/><circle cx="22.7" cy="28.5" r="1.25"/><circle cx="3.4" cy="10.9" r="1.25"/><circle cx="3.3" cy="29.1" r="1.25"/><circle cx="25.0" cy="1.5" r="1.25"/><circle cx="-0.6" cy="34.7" r="1.25"/><circle cx="35.4" cy="34.7" r="1.25"/><circle cx="23.5" cy="22.2" r="1.25"/><circle cx="5.7" cy="0.5" r="1.25"/><circle cx="5.7" cy="36.5" r="1.25"/><circle cx="19.0" cy="2.1" r="1.25"/><circle cx="6.8" cy="8.7" r="1.25"/><circle cx="1.1" cy="16.7" r="1.25"/><circle cx="37.1" cy="16.7" r="1.25"/><circle cx="15.9" cy="30.3" r="1.25"/><circle cx="18.7" cy="23.1" r="1.25"/><circle cx="18.0" cy="23.8" r="1.25"/><circle cx="16.5" cy="10.0" r="1.25"/><circle cx="-0.1" cy="-0.2" r="1.25"/><circle cx="-0.1" cy="35.8" r="1.25"/><circle cx="35.9" cy="-0.2" r="1.25"/><circle cx="35.9" cy="35.8" r="1.25"/><circle cx="30.2" cy="25.5" r="1.25"/><circle cx="11.3" cy="8.3" r="1.25"/><circle cx="10.4" cy="2.5" r="1.25"/><circle cx="27.6" cy="14.4" r="1.25"/><circle cx="30.5" cy="13.9" r="1.25"/><circle cx="34.5" cy="30.5" r="1.25"/><circle cx="0.0" cy="7.5" r="1.25"/><circle cx="36.0" cy="7.5" r="1.25"/><circle cx="32.8" cy="16.9" r="1.25"/><circle cx="-0.7" cy="14.3" r="1.25"/><circle cx="35.3" cy="14.3" r="1.25"/><circle cx="2.6" cy="22.7" r="1.25"/><circle cx="28.0" cy="9.7" r="1.25"/><circle cx="3.1" cy="12.0" r="1.25"/><circle cx="34.7" cy="27.3" r="1.25"/><circle cx="4.2" cy="8.9" r="1.25"/><circle cx="3.6" cy="2.2" r="1.25"/><circle cx="28.7" cy="6.4" r="1.25"/><circle cx="20.1" cy="16.1" r="1.25"/><circle cx="6.9" cy="26.3" r="1.25"/><circle cx="4.7" cy="23.2" r="1.25"/><circle cx="4.2" cy="15.1" r="1.25"/><circle cx="7.7" cy="9.7" r="1.25"/><circle cx="-1.0" cy="28.9" r="1.25"/><circle cx="35.0" cy="28.9" r="1.25"/><circle cx="10.9" cy="31.9" r="1.25"/><circle cx="7.6" cy="14.2" r="1.25"/><circle cx="30.8" cy="23.1" r="1.25"/><circle cx="3.6" cy="-0.4" r="1.25"/><circle cx="3.6" cy="35.6" r="1.25"/><circle cx="7.7" cy="9.3" r="1.25"/><circle cx="27.8" cy="11.8" r="1.25"/><circle cx="10.7" cy="2.6" r="1.25"/><circle cx="3.2" cy="21.0" r="1.25"/><circle cx="8.7" cy="21.6" r="1.25"/><circle cx="13.4" cy="16.3" r="1.25"/><circle cx="34.5" cy="17.4" r="1.25"/><circle cx="20.7" cy="31.2" r="1.25"/><circle cx="6.6" cy="5.5" r="1.25"/><circle cx="32.7" cy="29.4" r="1.25"/><circle cx="9.0" cy="6.8" r="1.25"/><circle cx="26.6" cy="33.9" r="1.25"/><circle cx="7.1" cy="34.2" r="1.25"/><circle cx="31.8" cy="21.7" r="1.25"/><circle cx="15.2" cy="3.7" r="1.25"/><circle cx="1.4" cy="34.7" r="1.25"/><circle cx="8.6" cy="25.4" r="1.25"/><circle cx="9.3" cy="29.7" r="1.25"/><circle cx="21.5" cy="10.6" r="1.25"/><circle cx="6.3" cy="25.9" r="1.25"/><circle cx="2.5" cy="8.2" r="1.25"/><circle cx="20.1" cy="30.7" r="1.25"/><circle cx="22.1" cy="10.1" r="1.25"/><circle cx="33.0" cy="7.3" r="1.25"/><circle cx="0.6" cy="9.7" r="1.25"/><circle cx="36.6" cy="9.7" r="1.25"/><circle cx="16.0" cy="2.2" r="1.25"/><circle cx="6.3" cy="13.3" r="1.25"/><circle cx="20.6" cy="4.7" r="1.25"/><circle cx="13.0" cy="32.1" r="1.25"/><circle cx="-0.7" cy="23.6" r="1.25"/><circle cx="35.3" cy="23.6" r="1.25"/><circle cx="24.9" cy="21.0" r="1.25"/><circle cx="5.1" cy="1.3" r="1.25"/><circle cx="0.6" cy="32.8" r="1.25"/><circle cx="36.6" cy="32.8" r="1.25"/><circle cx="25.2" cy="34.7" r="1.25"/><circle cx="0.8" cy="22.9" r="1.25"/><circle cx="36.8" cy="22.9" r="1.25"/><circle cx="17.4" cy="26.3" r="1.25"/><circle cx="11.5" cy="-0.0" r="1.25"/><circle cx="11.5" cy="36.0" r="1.25"/><circle cx="2.7" cy="19.7" r="1.25"/><circle cx="26.5" cy="32.4" r="1.25"/><circle cx="26.5" cy="25.3" r="1.25"/><circle cx="28.6" cy="32.9" r="1.25"/><circle cx="12.7" cy="24.7" r="1.25"/><circle cx="32.4" cy="31.4" r="1.25"/><circle cx="15.0" cy="28.5" r="1.25"/><circle cx="31.1" cy="20.6" r="1.25"/><circle cx="22.5" cy="13.8" r="1.25"/><circle cx="21.0" cy="21.9" r="1.25"/><circle cx="2.9" cy="23.0" r="1.25"/><circle cx="-0.2" cy="31.7" r="1.25"/><circle cx="35.8" cy="31.7" r="1.25"/></g></pattern>
<pattern id="pw2" width="36" height="36" patternUnits="userSpaceOnUse"><g fill="#fff"><circle cx="17.1" cy="23.7" r="1.25"/><circle cx="24.0" cy="5.1" r="1.25"/><circle cx="0.4" cy="13.5" r="1.25"/><circle cx="36.4" cy="13.5" r="1.25"/><circle cx="9.9" cy="29.2" r="1.25"/><circle cx="24.9" cy="21.7" r="1.25"/><circle cx="20.1" cy="23.8" r="1.25"/><circle cx="5.2" cy="15.8" r="1.25"/><circle cx="5.8" cy="32.6" r="1.25"/><circle cx="2.1" cy="29.5" r="1.25"/><circle cx="2.7" cy="24.7" r="1.25"/><circle cx="12.1" cy="14.6" r="1.25"/><circle cx="30.3" cy="0.7" r="1.25"/><circle cx="30.3" cy="36.7" r="1.25"/><circle cx="2.2" cy="32.9" r="1.25"/><circle cx="18.3" cy="3.3" r="1.25"/><circle cx="-0.5" cy="34.1" r="1.25"/><circle cx="35.5" cy="34.1" r="1.25"/><circle cx="4.1" cy="15.2" r="1.25"/><circle cx="4.9" cy="11.3" r="1.25"/><circle cx="22.4" cy="5.9" r="1.25"/><circle cx="25.1" cy="1.8" r="1.25"/><circle cx="6.2" cy="29.4" r="1.25"/><circle cx="14.4" cy="15.1" r="1.25"/><circle cx="21.5" cy="17.2" r="1.25"/><circle cx="13.8" cy="1.1" r="1.25"/><circle cx="13.8" cy="37.1" r="1.25"/><circle cx="26.1" cy="-1.2" r="1.25"/><circle cx="26.1" cy="34.8" r="1.25"/><circle cx="-0.9" cy="23.9" r="1.25"/><circle cx="35.1" cy="23.9" r="1.25"/><circle cx="12.8" cy="13.1" r="1.25"/><circle cx="24.8" cy="24.3" r="1.25"/><circle cx="4.1" cy="8.5" r="1.25"/><circle cx="13.1" cy="18.4" r="1.25"/><circle cx="29.2" cy="18.0" r="1.25"/><circle cx="1.0" cy="29.6" r="1.25"/><circle cx="37.0" cy="29.6" r="1.25"/><circle cx="15.5" cy="18.7" r="1.25"/><circle cx="8.0" cy="15.4" r="1.25"/><circle cx="14.0" cy="27.8" r="1.25"/><circle cx="3.7" cy="19.8" r="1.25"/><circle cx="6.4" cy="25.1" r="1.25"/><circle cx="1.3" cy="10.0" r="1.25"/><circle cx="12.4" cy="22.9" r="1.25"/><circle cx="1.9" cy="16.5" r="1.25"/><circle cx="7.5" cy="10.1" r="1.25"/><circle cx="17.1" cy="34.5" r="1.25"/><circle cx="17.3" cy="34.4" r="1.25"/><circle cx="6.0" cy="33.3" r="1.25"/><circle cx="13.1" cy="6.8" r="1.25"/><circle cx="26.9" cy="32.8" r="1.25"/><circle cx="0.2" cy="9.7" r="1.25"/><circle cx="36.2" cy="9.7" r="1.25"/><circle cx="27.7" cy="12.3" r="1.25"/><circle cx="8.7" cy="0.3" r="1.25"/><circle cx="8.7" cy="36.3" r="1.25"/><circle cx="1.4" cy="22.3" r="1.25"/><circle cx="-0.6" cy="-0.1" r="1.25"/><circle cx="-0.6" cy="35.9" r="1.25"/><circle cx="35.4" cy="-0.1" r="1.25"/><circle cx="35.4" cy="35.9" r="1.25"/><circle cx="18.1" cy="0.9" r="1.25"/><circle cx="18.1" cy="36.9" r="1.25"/><circle cx="11.6" cy="28.3" r="1.25"/><circle cx="30.0" cy="23.0" r="1.25"/><circle cx="8.3" cy="19.0" r="1.25"/><circle cx="17.2" cy="22.6" r="1.25"/><circle cx="9.5" cy="34.1" r="1.25"/><circle cx="32.2" cy="5.8" r="1.25"/><circle cx="10.5" cy="31.4" r="1.25"/><circle cx="10.0" cy="34.0" r="1.25"/><circle cx="18.5" cy="25.1" r="1.25"/><circle cx="25.4" cy="7.7" r="1.25"/><circle cx="10.3" cy="9.2" r="1.25"/><circle cx="24.6" cy="25.0" r="1.25"/><circle cx="4.7" cy="31.9" r="1.25"/><circle cx="15.1" cy="8.7" r="1.25"/><circle cx="15.7" cy="-0.7" r="1.25"/><circle cx="15.7" cy="35.3" r="1.25"/><circle cx="20.2" cy="22.5" r="1.25"/><circle cx="33.1" cy="34.6" r="1.25"/><circle cx="27.4" cy="15.0" r="1.25"/><circle cx="21.2" cy="32.4" r="1.25"/><circle cx="28.4" cy="20.9" r="1.25"/><circle cx="12.5" cy="13.3" r="1.25"/><circle cx="26.5" cy="20.3" r="1.25"/><circle cx="0.6" cy="25.6" r="1.25"/><circle cx="36.6" cy="25.6" r="1.25"/><circle cx="32.5" cy="28.7" r="1.25"/><circle cx="32.3" cy="32.8" r="1.25"/><circle cx="19.3" cy="28.4" r="1.25"/><circle cx="13.7" cy="3.5" r="1.25"/><circle cx="12.7" cy="11.2" r="1.25"/><circle cx="33.6" cy="24.8" r="1.25"/><circle cx="19.5" cy="22.4" r="1.25"/><circle cx="4.5" cy="19.2" r="1.25"/><circle cx="25.2" cy="14.2" r="1.25"/><circle cx="8.8" cy="14.6" r="1.25"/><circle cx="11.6" cy="24.7" r="1.25"/><circle cx="5.1" cy="3.3" r="1.25"/><circle cx="11.2" cy="25.0" r="1.25"/><circle cx="27.3" cy="23.7" r="1.25"/><circle cx="33.6" cy="13.2" r="1.25"/><circle cx="1.1" cy="17.6" r="1.25"/><circle cx="37.1" cy="17.6" r="1.25"/><circle cx="16.0" cy="6.5" r="1.25"/><circle cx="24.0" cy="12.3" r="1.25"/><circle cx="8.6" cy="11.8" r="1.25"/><circle cx="34.0" cy="0.3" r="1.25"/><circle cx="34.0" cy="36.3" r="1.25"/><circle cx="13.0" cy="10.1" r="1.25"/><circle cx="7.2" cy="15.6" r="1.25"/><circle cx="7.9" cy="33.1" r="1.25"/><circle cx="18.0" cy="25.1" r="1.25"/><circle cx="5.8" cy="16.7" r="1.25"/><circle cx="21.8" cy="30.3" r="1.25"/><circle cx="9.0" cy="16.5" r="1.25"/><circle cx="30.8" cy="29.9" r="1.25"/><circle cx="8.2" cy="19.4" r="1.25"/><circle cx="27.4" cy="14.2" r="1.25"/><circle cx="24.2" cy="23.9" r="1.25"/><circle cx="-1.0" cy="19.9" r="1.25"/><circle cx="35.0" cy="19.9" r="1.25"/><circle cx="24.5" cy="12.6" r="1.25"/><circle cx="26.4" cy="11.6" r="1.25"/><circle cx="18.0" cy="13.0" r="1.25"/><circle cx="11.1" cy="4.9" r="1.25"/><circle cx="8.1" cy="19.6" r="1.25"/><circle cx="9.1" cy="1.7" r="1.25"/><circle cx="28.9" cy="10.3" r="1.25"/><circle cx="33.7" cy="21.6" r="1.25"/><circle cx="14.0" cy="31.4" r="1.25"/><circle cx="32.3" cy="11.6" r="1.25"/><circle cx="4.5" cy="23.1" r="1.25"/><circle cx="30.3" cy="21.9" r="1.25"/><circle cx="28.2" cy="14.8" r="1.25"/><circle cx="22.2" cy="9.5" r="1.25"/><circle cx="14.6" cy="13.7" r="1.25"/><circle cx="13.8" cy="14.4" r="1.25"/><circle cx="29.1" cy="6.1" r="1.25"/><circle cx="7.4" cy="9.2" r="1.25"/><circle cx="-1.0" cy="18.8" r="1.25"/><circle cx="35.0" cy="18.8" r="1.25"/><circle cx="1.9" cy="30.1" r="1.25"/><circle cx="31.4" cy="29.6" r="1.25"/><circle cx="12.9" cy="26.4" r="1.25"/><circle cx="11.0" cy="4.9" r="1.25"/><circle cx="31.2" cy="30.0" r="1.25"/><circle cx="7.6" cy="31.7" r="1.25"/><circle cx="0.9" cy="11.1" r="1.25"/><circle cx="36.9" cy="11.1" r="1.25"/><circle cx="0.5" cy="6.2" r="1.25"/><circle cx="36.5" cy="6.2" r="1.25"/><circle cx="5.9" cy="25.8" r="1.25"/><circle cx="10.7" cy="6.8" r="1.25"/><circle cx="6.6" cy="11.2" r="1.25"/><circle cx="31.0" cy="21.8" r="1.25"/><circle cx="3.7" cy="24.7" r="1.25"/><circle cx="19.3" cy="16.1" r="1.25"/><circle cx="19.0" cy="23.5" r="1.25"/><circle cx="28.8" cy="18.2" r="1.25"/><circle cx="22.9" cy="16.8" r="1.25"/><circle cx="22.8" cy="14.0" r="1.25"/><circle cx="14.9" cy="18.6" r="1.25"/><circle cx="25.7" cy="10.0" r="1.25"/><circle cx="33.3" cy="17.7" r="1.25"/><circle cx="30.8" cy="24.9" r="1.25"/><circle cx="34.4" cy="24.6" r="1.25"/><circle cx="15.4" cy="14.6" r="1.25"/><circle cx="21.9" cy="27.1" r="1.25"/><circle cx="30.2" cy="4.7" r="1.25"/><circle cx="2.2" cy="3.9" r="1.25"/><circle cx="3.0" cy="2.0" r="1.25"/><circle cx="0.3" cy="9.0" r="1.25"/><circle cx="36.3" cy="9.0" r="1.25"/><circle cx="4.1" cy="24.7" r="1.25"/><circle cx="22.2" cy="-1.2" r="1.25"/><circle cx="22.2" cy="34.8" r="1.25"/><circle cx="34.6" cy="26.9" r="1.25"/><circle cx="34.2" cy="1.0" r="1.25"/><circle cx="34.2" cy="37.0" r="1.25"/><circle cx="8.2" cy="33.3" r="1.25"/><circle cx="17.1" cy="7.4" r="1.25"/><circle cx="27.2" cy="15.2" r="1.25"/><circle cx="19.6" cy="11.4" r="1.25"/><circle cx="8.7" cy="3.1" r="1.25"/><circle cx="21.8" cy="34.3" r="1.25"/><circle cx="-0.5" cy="27.5" r="1.25"/><circle cx="35.5" cy="27.5" r="1.25"/><circle cx="33.6" cy="13.0" r="1.25"/><circle cx="10.7" cy="33.2" r="1.25"/><circle cx="21.6" cy="24.1" r="1.25"/><circle cx="0.5" cy="8.2" r="1.25"/><circle cx="36.5" cy="8.2" r="1.25"/><circle cx="17.4" cy="26.3" r="1.25"/><circle cx="29.7" cy="27.3" r="1.25"/><circle cx="12.2" cy="13.7" r="1.25"/><circle cx="31.0" cy="-0.4" r="1.25"/><circle cx="31.0" cy="35.6" r="1.25"/><circle cx="17.5" cy="7.0" r="1.25"/><circle cx="22.5" cy="19.3" r="1.25"/><circle cx="13.0" cy="8.3" r="1.25"/><circle cx="13.9" cy="22.0" r="1.25"/><circle cx="4.6" cy="19.5" r="1.25"/><circle cx="34.3" cy="26.8" r="1.25"/><circle cx="9.1" cy="15.1" r="1.25"/><circle cx="3.7" cy="26.5" r="1.25"/><circle cx="22.7" cy="6.2" r="1.25"/><circle cx="19.7" cy="21.5" r="1.25"/><circle cx="20.8" cy="13.6" r="1.25"/><circle cx="11.2" cy="12.8" r="1.25"/><circle cx="-0.1" cy="11.9" r="1.25"/><circle cx="35.9" cy="11.9" r="1.25"/><circle cx="18.1" cy="16.6" r="1.25"/><circle cx="6.2" cy="14.4" r="1.25"/><circle cx="7.4" cy="11.6" r="1.25"/><circle cx="13.2" cy="12.6" r="1.25"/><circle cx="33.8" cy="10.7" r="1.25"/><circle cx="12.0" cy="23.7" r="1.25"/><circle cx="14.3" cy="18.6" r="1.25"/><circle cx="23.3" cy="2.7" r="1.25"/><circle cx="24.2" cy="3.6" r="1.25"/><circle cx="9.0" cy="29.2" r="1.25"/><circle cx="-0.4" cy="24.3" r="1.25"/><circle cx="35.6" cy="24.3" r="1.25"/><circle cx="6.2" cy="15.8" r="1.25"/><circle cx="10.2" cy="30.3" r="1.25"/><circle cx="8.4" cy="7.1" r="1.25"/><circle cx="23.0" cy="22.9" r="1.25"/><circle cx="21.2" cy="17.2" r="1.25"/><circle cx="34.5" cy="16.5" r="1.25"/><circle cx="33.7" cy="14.1" r="1.25"/><circle cx="16.8" cy="12.9" r="1.25"/><circle cx="25.7" cy="27.1" r="1.25"/><circle cx="8.6" cy="18.9" r="1.25"/><circle cx="26.2" cy="18.1" r="1.25"/><circle cx="23.8" cy="22.2" r="1.25"/><circle cx="25.7" cy="12.8" r="1.25"/><circle cx="11.0" cy="0.9" r="1.25"/><circle cx="11.0" cy="36.9" r="1.25"/></g></pattern>
<pattern id="pw3" width="36" height="36" patternUnits="userSpaceOnUse"><g fill="#fff"><circle cx="5.9" cy="24.8" r="1.3"/><circle cx="22.9" cy="17.2" r="1.3"/><circle cx="7.8" cy="28.5" r="1.3"/><circle cx="29.1" cy="18.4" r="1.3"/><circle cx="18.2" cy="8.5" r="1.3"/><circle cx="0.1" cy="13.4" r="1.3"/><circle cx="36.1" cy="13.4" r="1.3"/><circle cx="21.1" cy="2.5" r="1.3"/><circle cx="28.6" cy="8.4" r="1.3"/><circle cx="8.4" cy="1.5" r="1.3"/><circle cx="-0.1" cy="26.6" r="1.3"/><circle cx="35.9" cy="26.6" r="1.3"/><circle cx="31.5" cy="22.2" r="1.3"/><circle cx="1.2" cy="11.8" r="1.3"/><circle cx="37.2" cy="11.8" r="1.3"/><circle cx="17.9" cy="4.2" r="1.3"/><circle cx="34.3" cy="13.3" r="1.3"/><circle cx="5.6" cy="29.4" r="1.3"/><circle cx="4.5" cy="33.4" r="1.3"/><circle cx="16.3" cy="19.9" r="1.3"/><circle cx="12.3" cy="17.4" r="1.3"/><circle cx="6.7" cy="1.3" r="1.3"/><circle cx="31.2" cy="8.5" r="1.3"/><circle cx="28.1" cy="7.5" r="1.3"/><circle cx="-1.1" cy="32.2" r="1.3"/><circle cx="34.9" cy="32.2" r="1.3"/><circle cx="27.2" cy="27.5" r="1.3"/><circle cx="20.9" cy="26.3" r="1.3"/><circle cx="4.4" cy="17.1" r="1.3"/><circle cx="29.8" cy="7.2" r="1.3"/><circle cx="33.2" cy="32.0" r="1.3"/><circle cx="14.7" cy="13.1" r="1.3"/><circle cx="16.2" cy="13.9" r="1.3"/><circle cx="-0.2" cy="13.9" r="1.3"/><circle cx="35.8" cy="13.9" r="1.3"/><circle cx="1.0" cy="3.4" r="1.3"/><circle cx="37.0" cy="3.4" r="1.3"/><circle cx="25.9" cy="-0.3" r="1.3"/><circle cx="25.9" cy="35.7" r="1.3"/><circle cx="17.9" cy="17.7" r="1.3"/><circle cx="19.8" cy="26.9" r="1.3"/><circle cx="8.0" cy="21.9" r="1.3"/><circle cx="20.0" cy="22.4" r="1.3"/><circle cx="6.5" cy="6.1" r="1.3"/><circle cx="12.5" cy="33.4" r="1.3"/><circle cx="12.5" cy="21.5" r="1.3"/><circle cx="11.0" cy="3.7" r="1.3"/><circle cx="2.4" cy="29.3" r="1.3"/><circle cx="28.0" cy="13.5" r="1.3"/><circle cx="24.6" cy="24.3" r="1.3"/><circle cx="32.4" cy="34.5" r="1.3"/><circle cx="14.7" cy="-0.4" r="1.3"/><circle cx="14.7" cy="35.6" r="1.3"/><circle cx="34.6" cy="21.3" r="1.3"/><circle cx="31.8" cy="17.7" r="1.3"/><circle cx="13.5" cy="8.9" r="1.3"/><circle cx="31.5" cy="5.8" r="1.3"/><circle cx="2.5" cy="29.0" r="1.3"/><circle cx="27.9" cy="17.4" r="1.3"/><circle cx="30.1" cy="1.9" r="1.3"/><circle cx="9.3" cy="10.4" r="1.3"/><circle cx="15.1" cy="6.1" r="1.3"/><circle cx="2.5" cy="12.2" r="1.3"/><circle cx="32.4" cy="-0.6" r="1.3"/><circle cx="32.4" cy="35.4" r="1.3"/><circle cx="26.9" cy="17.2" r="1.3"/><circle cx="9.1" cy="34.5" r="1.3"/><circle cx="18.9" cy="26.2" r="1.3"/><circle cx="1.0" cy="7.6" r="1.3"/><circle cx="37.0" cy="7.6" r="1.3"/><circle cx="30.2" cy="28.6" r="1.3"/><circle cx="31.7" cy="21.6" r="1.3"/><circle cx="15.3" cy="20.9" r="1.3"/><circle cx="30.6" cy="11.1" r="1.3"/><circle cx="19.2" cy="9.9" r="1.3"/><circle cx="27.7" cy="0.4" r="1.3"/><circle cx="27.7" cy="36.4" r="1.3"/><circle cx="24.7" cy="34.3" r="1.3"/><circle cx="0.8" cy="21.4" r="1.3"/><circle cx="36.8" cy="21.4" r="1.3"/><circle cx="23.2" cy="30.7" r="1.3"/><circle cx="21.0" cy="9.3" r="1.3"/><circle cx="14.6" cy="34.5" r="1.3"/><circle cx="32.6" cy="4.8" r="1.3"/><circle cx="3.4" cy="3.4" r="1.3"/><circle cx="0.9" cy="16.1" r="1.3"/><circle cx="36.9" cy="16.1" r="1.3"/><circle cx="5.1" cy="31.2" r="1.3"/><circle cx="23.6" cy="4.6" r="1.3"/><circle cx="19.4" cy="11.7" r="1.3"/><circle cx="17.8" cy="7.9" r="1.3"/><circle cx="6.0" cy="6.6" r="1.3"/><circle cx="13.6" cy="25.6" r="1.3"/><circle cx="19.8" cy="1.7" r="1.3"/><circle cx="25.6" cy="31.5" r="1.3"/><circle cx="27.9" cy="28.5" r="1.3"/><circle cx="0.3" cy="16.7" r="1.3"/><circle cx="36.3" cy="16.7" r="1.3"/><circle cx="2.3" cy="27.5" r="1.3"/><circle cx="6.3" cy="25.6" r="1.3"/><circle cx="9.1" cy="25.1" r="1.3"/><circle cx="11.3" cy="1.5" r="1.3"/><circle cx="14.0" cy="11.1" r="1.3"/><circle cx="32.4" cy="10.6" r="1.3"/><circle cx="18.1" cy="19.8" r="1.3"/><circle cx="34.1" cy="3.5" r="1.3"/><circle cx="21.6" cy="18.3" r="1.3"/><circle cx="26.4" cy="-1.2" r="1.3"/><circle cx="26.4" cy="34.8" r="1.3"/><circle cx="11.2" cy="25.2" r="1.3"/><circle cx="18.9" cy="20.2" r="1.3"/><circle cx="2.3" cy="29.3" r="1.3"/><circle cx="-0.8" cy="12.8" r="1.3"/><circle cx="35.2" cy="12.8" r="1.3"/><circle cx="11.5" cy="-0.2" r="1.3"/><circle cx="11.5" cy="35.8" r="1.3"/><circle cx="3.9" cy="2.7" r="1.3"/><circle cx="2.6" cy="29.3" r="1.3"/><circle cx="27.4" cy="16.1" r="1.3"/><circle cx="22.4" cy="0.7" r="1.3"/><circle cx="22.4" cy="36.7" r="1.3"/><circle cx="23.2" cy="15.9" r="1.3"/><circle cx="18.6" cy="14.0" r="1.3"/><circle cx="14.5" cy="8.1" r="1.3"/><circle cx="1.8" cy="15.6" r="1.3"/><circle cx="8.9" cy="25.4" r="1.3"/><circle cx="29.4" cy="26.1" r="1.3"/><circle cx="16.4" cy="8.5" r="1.3"/><circle cx="13.9" cy="17.5" r="1.3"/><circle cx="22.7" cy="34.7" r="1.3"/><circle cx="3.1" cy="17.3" r="1.3"/><circle cx="17.7" cy="25.8" r="1.3"/><circle cx="32.1" cy="28.1" r="1.3"/><circle cx="22.6" cy="27.3" r="1.3"/><circle cx="24.0" cy="30.9" r="1.3"/><circle cx="25.2" cy="24.6" r="1.3"/><circle cx="8.8" cy="33.0" r="1.3"/><circle cx="13.9" cy="22.1" r="1.3"/><circle cx="29.7" cy="34.7" r="1.3"/><circle cx="-0.4" cy="0.2" r="1.3"/><circle cx="-0.4" cy="36.2" r="1.3"/><circle cx="35.6" cy="0.2" r="1.3"/><circle cx="35.6" cy="36.2" r="1.3"/><circle cx="11.3" cy="11.2" r="1.3"/><circle cx="14.1" cy="5.2" r="1.3"/><circle cx="19.9" cy="2.9" r="1.3"/><circle cx="10.9" cy="34.0" r="1.3"/><circle cx="26.7" cy="16.6" r="1.3"/><circle cx="3.9" cy="34.4" r="1.3"/><circle cx="25.3" cy="7.4" r="1.3"/><circle cx="12.1" cy="23.1" r="1.3"/><circle cx="24.5" cy="9.4" r="1.3"/><circle cx="34.2" cy="11.6" r="1.3"/><circle cx="9.2" cy="30.4" r="1.3"/><circle cx="5.5" cy="24.5" r="1.3"/><circle cx="7.2" cy="21.5" r="1.3"/><circle cx="10.0" cy="13.6" r="1.3"/><circle cx="33.9" cy="16.8" r="1.3"/><circle cx="15.7" cy="22.2" r="1.3"/><circle cx="10.1" cy="6.3" r="1.3"/><circle cx="13.8" cy="9.8" r="1.3"/><circle cx="6.8" cy="34.6" r="1.3"/><circle cx="1.2" cy="29.2" r="1.3"/><circle cx="37.2" cy="29.2" r="1.3"/><circle cx="33.7" cy="25.4" r="1.3"/><circle cx="0.7" cy="18.0" r="1.3"/><circle cx="36.7" cy="18.0" r="1.3"/><circle cx="1.4" cy="21.9" r="1.3"/><circle cx="25.2" cy="8.6" r="1.3"/><circle cx="0.3" cy="19.6" r="1.3"/><circle cx="36.3" cy="19.6" r="1.3"/><circle cx="3.4" cy="11.1" r="1.3"/><circle cx="16.3" cy="32.2" r="1.3"/><circle cx="13.3" cy="4.9" r="1.3"/><circle cx="28.5" cy="29.6" r="1.3"/><circle cx="19.1" cy="1.8" r="1.3"/><circle cx="6.8" cy="14.5" r="1.3"/><circle cx="19.9" cy="8.1" r="1.3"/><circle cx="28.9" cy="30.4" r="1.3"/><circle cx="33.3" cy="31.8" r="1.3"/><circle cx="0.6" cy="21.0" r="1.3"/><circle cx="36.6" cy="21.0" r="1.3"/><circle cx="2.9" cy="32.4" r="1.3"/><circle cx="26.9" cy="27.3" r="1.3"/><circle cx="6.8" cy="2.1" r="1.3"/><circle cx="29.3" cy="21.8" r="1.3"/><circle cx="22.3" cy="17.0" r="1.3"/><circle cx="28.8" cy="12.2" r="1.3"/><circle cx="9.7" cy="12.7" r="1.3"/><circle cx="10.7" cy="22.6" r="1.3"/><circle cx="32.0" cy="2.6" r="1.3"/><circle cx="2.4" cy="18.4" r="1.3"/><circle cx="24.4" cy="6.8" r="1.3"/><circle cx="9.7" cy="2.1" r="1.3"/><circle cx="1.3" cy="17.8" r="1.3"/><circle cx="24.5" cy="23.5" r="1.3"/><circle cx="5.7" cy="3.7" r="1.3"/><circle cx="33.5" cy="19.4" r="1.3"/><circle cx="14.7" cy="24.9" r="1.3"/><circle cx="26.2" cy="18.9" r="1.3"/><circle cx="2.8" cy="29.8" r="1.3"/><circle cx="7.7" cy="1.5" r="1.3"/><circle cx="12.7" cy="19.2" r="1.3"/><circle cx="22.6" cy="6.3" r="1.3"/><circle cx="25.5" cy="17.8" r="1.3"/><circle cx="5.8" cy="30.6" r="1.3"/><circle cx="29.0" cy="32.6" r="1.3"/><circle cx="24.5" cy="7.8" r="1.3"/><circle cx="28.0" cy="32.5" r="1.3"/><circle cx="19.2" cy="32.7" r="1.3"/><circle cx="-1.1" cy="14.0" r="1.3"/><circle cx="34.9" cy="14.0" r="1.3"/><circle cx="33.9" cy="33.7" r="1.3"/><circle cx="28.6" cy="0.4" r="1.3"/><circle cx="28.6" cy="36.4" r="1.3"/><circle cx="12.7" cy="22.1" r="1.3"/><circle cx="21.9" cy="27.2" r="1.3"/><circle cx="23.3" cy="5.8" r="1.3"/><circle cx="33.5" cy="19.3" r="1.3"/><circle cx="31.7" cy="7.4" r="1.3"/><circle cx="-0.1" cy="20.0" r="1.3"/><circle cx="35.9" cy="20.0" r="1.3"/><circle cx="27.9" cy="26.6" r="1.3"/><circle cx="31.8" cy="13.0" r="1.3"/><circle cx="3.0" cy="14.6" r="1.3"/><circle cx="6.4" cy="19.4" r="1.3"/><circle cx="29.3" cy="13.0" r="1.3"/><circle cx="4.7" cy="1.0" r="1.3"/><circle cx="4.7" cy="37.0" r="1.3"/><circle cx="15.2" cy="20.9" r="1.3"/><circle cx="0.9" cy="24.0" r="1.3"/><circle cx="36.9" cy="24.0" r="1.3"/><circle cx="7.6" cy="3.9" r="1.3"/><circle cx="33.4" cy="18.8" r="1.3"/><circle cx="32.2" cy="18.5" r="1.3"/><circle cx="4.4" cy="8.6" r="1.3"/><circle cx="15.3" cy="23.1" r="1.3"/><circle cx="27.8" cy="27.0" r="1.3"/><circle cx="23.4" cy="9.1" r="1.3"/><circle cx="15.5" cy="13.6" r="1.3"/><circle cx="17.6" cy="9.6" r="1.3"/><circle cx="19.4" cy="16.5" r="1.3"/><circle cx="1.3" cy="29.6" r="1.3"/><circle cx="37.3" cy="29.6" r="1.3"/><circle cx="21.1" cy="28.9" r="1.3"/><circle cx="26.5" cy="26.3" r="1.3"/><circle cx="-0.2" cy="13.6" r="1.3"/><circle cx="35.8" cy="13.6" r="1.3"/><circle cx="14.2" cy="0.1" r="1.3"/><circle cx="14.2" cy="36.1" r="1.3"/><circle cx="23.9" cy="20.9" r="1.3"/><circle cx="20.8" cy="-0.1" r="1.3"/><circle cx="20.8" cy="35.9" r="1.3"/><circle cx="7.1" cy="8.2" r="1.3"/><circle cx="26.4" cy="29.2" r="1.3"/><circle cx="17.4" cy="2.0" r="1.3"/><circle cx="13.3" cy="29.7" r="1.3"/><circle cx="18.0" cy="16.6" r="1.3"/><circle cx="14.0" cy="22.6" r="1.3"/><circle cx="21.5" cy="24.9" r="1.3"/><circle cx="31.1" cy="27.0" r="1.3"/><circle cx="13.5" cy="9.0" r="1.3"/><circle cx="28.1" cy="28.5" r="1.3"/><circle cx="33.4" cy="7.2" r="1.3"/><circle cx="30.5" cy="32.1" r="1.3"/><circle cx="2.8" cy="11.1" r="1.3"/><circle cx="22.8" cy="5.3" r="1.3"/><circle cx="29.9" cy="9.5" r="1.3"/><circle cx="24.6" cy="10.6" r="1.3"/><circle cx="7.9" cy="7.5" r="1.3"/><circle cx="17.9" cy="25.7" r="1.3"/><circle cx="7.8" cy="24.7" r="1.3"/><circle cx="12.1" cy="23.4" r="1.3"/><circle cx="13.3" cy="7.0" r="1.3"/><circle cx="5.1" cy="2.1" r="1.3"/><circle cx="25.1" cy="14.9" r="1.3"/><circle cx="4.4" cy="31.7" r="1.3"/><circle cx="23.6" cy="0.8" r="1.3"/><circle cx="23.6" cy="36.8" r="1.3"/><circle cx="26.1" cy="21.4" r="1.3"/><circle cx="16.0" cy="18.0" r="1.3"/><circle cx="34.6" cy="13.5" r="1.3"/><circle cx="22.9" cy="22.9" r="1.3"/><circle cx="13.2" cy="12.5" r="1.3"/><circle cx="27.2" cy="22.9" r="1.3"/><circle cx="16.4" cy="18.5" r="1.3"/><circle cx="8.0" cy="28.4" r="1.3"/><circle cx="0.7" cy="23.2" r="1.3"/><circle cx="36.7" cy="23.2" r="1.3"/><circle cx="16.4" cy="8.0" r="1.3"/><circle cx="21.1" cy="21.0" r="1.3"/><circle cx="3.1" cy="17.6" r="1.3"/><circle cx="5.9" cy="28.8" r="1.3"/><circle cx="11.8" cy="11.8" r="1.3"/><circle cx="7.8" cy="1.7" r="1.3"/><circle cx="6.7" cy="5.5" r="1.3"/><circle cx="22.5" cy="30.5" r="1.3"/><circle cx="8.0" cy="4.0" r="1.3"/><circle cx="19.2" cy="4.2" r="1.3"/><circle cx="14.6" cy="27.4" r="1.3"/><circle cx="7.3" cy="25.2" r="1.3"/><circle cx="19.4" cy="3.1" r="1.3"/><circle cx="8.7" cy="21.6" r="1.3"/><circle cx="3.5" cy="7.3" r="1.3"/><circle cx="20.8" cy="29.5" r="1.3"/><circle cx="18.7" cy="23.9" r="1.3"/><circle cx="0.3" cy="10.9" r="1.3"/><circle cx="36.3" cy="10.9" r="1.3"/><circle cx="11.5" cy="32.9" r="1.3"/><circle cx="12.9" cy="28.3" r="1.3"/><circle cx="1.2" cy="17.9" r="1.3"/><circle cx="37.2" cy="17.9" r="1.3"/><circle cx="32.1" cy="27.8" r="1.3"/><circle cx="20.9" cy="6.6" r="1.3"/><circle cx="33.3" cy="2.9" r="1.3"/><circle cx="-1.3" cy="27.9" r="1.3"/><circle cx="34.7" cy="27.9" r="1.3"/><circle cx="25.9" cy="19.1" r="1.3"/><circle cx="5.9" cy="12.3" r="1.3"/><circle cx="23.9" cy="23.6" r="1.3"/><circle cx="14.0" cy="28.8" r="1.3"/><circle cx="1.9" cy="10.3" r="1.3"/><circle cx="3.3" cy="11.7" r="1.3"/><circle cx="28.5" cy="27.1" r="1.3"/><circle cx="5.4" cy="11.1" r="1.3"/><circle cx="4.0" cy="23.8" r="1.3"/><circle cx="15.9" cy="8.3" r="1.3"/><circle cx="13.5" cy="31.1" r="1.3"/><circle cx="15.3" cy="24.9" r="1.3"/><circle cx="22.6" cy="17.1" r="1.3"/><circle cx="20.0" cy="13.1" r="1.3"/><circle cx="7.1" cy="17.8" r="1.3"/><circle cx="11.0" cy="11.9" r="1.3"/><circle cx="6.7" cy="32.9" r="1.3"/><circle cx="15.3" cy="7.2" r="1.3"/><circle cx="1.1" cy="7.7" r="1.3"/><circle cx="37.1" cy="7.7" r="1.3"/><circle cx="31.3" cy="12.1" r="1.3"/><circle cx="24.0" cy="8.3" r="1.3"/><circle cx="23.4" cy="16.2" r="1.3"/><circle cx="26.5" cy="19.0" r="1.3"/><circle cx="13.5" cy="10.1" r="1.3"/><circle cx="21.4" cy="29.9" r="1.3"/><circle cx="24.9" cy="17.3" r="1.3"/><circle cx="11.8" cy="32.1" r="1.3"/><circle cx="30.5" cy="5.2" r="1.3"/><circle cx="24.5" cy="27.8" r="1.3"/><circle cx="24.3" cy="-1.3" r="1.3"/><circle cx="24.3" cy="34.7" r="1.3"/><circle cx="31.6" cy="8.9" r="1.3"/><circle cx="-0.1" cy="11.8" r="1.3"/><circle cx="35.9" cy="11.8" r="1.3"/><circle cx="13.7" cy="-0.8" r="1.3"/><circle cx="13.7" cy="35.2" r="1.3"/><circle cx="6.0" cy="14.2" r="1.3"/><circle cx="22.5" cy="9.8" r="1.3"/><circle cx="9.6" cy="28.6" r="1.3"/><circle cx="22.1" cy="26.8" r="1.3"/><circle cx="28.4" cy="31.4" r="1.3"/><circle cx="32.2" cy="29.6" r="1.3"/><circle cx="-0.8" cy="18.0" r="1.3"/><circle cx="35.2" cy="18.0" r="1.3"/><circle cx="25.3" cy="18.5" r="1.3"/><circle cx="-1.1" cy="23.6" r="1.3"/><circle cx="34.9" cy="23.6" r="1.3"/><circle cx="15.5" cy="23.9" r="1.3"/><circle cx="10.6" cy="4.7" r="1.3"/><circle cx="13.9" cy="4.9" r="1.3"/><circle cx="0.1" cy="3.3" r="1.3"/><circle cx="36.1" cy="3.3" r="1.3"/><circle cx="16.4" cy="27.5" r="1.3"/><circle cx="1.7" cy="22.9" r="1.3"/><circle cx="4.0" cy="18.4" r="1.3"/><circle cx="10.6" cy="16.1" r="1.3"/><circle cx="25.6" cy="14.9" r="1.3"/><circle cx="14.1" cy="26.2" r="1.3"/><circle cx="4.2" cy="12.6" r="1.3"/><circle cx="25.3" cy="30.1" r="1.3"/><circle cx="-0.7" cy="9.3" r="1.3"/><circle cx="35.3" cy="9.3" r="1.3"/><circle cx="22.5" cy="11.3" r="1.3"/><circle cx="25.3" cy="30.5" r="1.3"/><circle cx="4.9" cy="12.4" r="1.3"/><circle cx="33.7" cy="12.7" r="1.3"/><circle cx="22.8" cy="29.5" r="1.3"/><circle cx="10.0" cy="28.2" r="1.3"/><circle cx="0.1" cy="12.3" r="1.3"/><circle cx="36.1" cy="12.3" r="1.3"/><circle cx="6.0" cy="12.5" r="1.3"/><circle cx="7.7" cy="0.9" r="1.3"/><circle cx="7.7" cy="36.9" r="1.3"/><circle cx="28.9" cy="6.2" r="1.3"/><circle cx="20.6" cy="20.0" r="1.3"/><circle cx="30.6" cy="30.5" r="1.3"/><circle cx="22.4" cy="6.1" r="1.3"/><circle cx="27.4" cy="3.5" r="1.3"/><circle cx="33.4" cy="11.1" r="1.3"/><circle cx="9.1" cy="7.8" r="1.3"/><circle cx="14.3" cy="28.5" r="1.3"/><circle cx="30.8" cy="26.9" r="1.3"/><circle cx="26.3" cy="8.8" r="1.3"/><circle cx="11.6" cy="11.0" r="1.3"/><circle cx="15.6" cy="31.5" r="1.3"/><circle cx="-0.1" cy="3.0" r="1.3"/><circle cx="35.9" cy="3.0" r="1.3"/><circle cx="-1.3" cy="33.1" r="1.3"/><circle cx="34.7" cy="33.1" r="1.3"/><circle cx="16.6" cy="24.9" r="1.3"/><circle cx="28.2" cy="6.7" r="1.3"/><circle cx="22.2" cy="-0.7" r="1.3"/><circle cx="22.2" cy="35.3" r="1.3"/><circle cx="31.7" cy="32.8" r="1.3"/><circle cx="3.1" cy="25.7" r="1.3"/><circle cx="17.5" cy="32.7" r="1.3"/><circle cx="6.0" cy="19.8" r="1.3"/><circle cx="4.3" cy="29.0" r="1.3"/><circle cx="26.0" cy="1.1" r="1.3"/><circle cx="26.0" cy="37.1" r="1.3"/><circle cx="11.1" cy="5.1" r="1.3"/><circle cx="22.9" cy="22.7" r="1.3"/><circle cx="2.3" cy="34.2" r="1.3"/><circle cx="-1.3" cy="15.9" r="1.3"/><circle cx="34.7" cy="15.9" r="1.3"/><circle cx="20.7" cy="13.1" r="1.3"/><circle cx="21.8" cy="14.3" r="1.3"/><circle cx="15.9" cy="27.0" r="1.3"/><circle cx="6.7" cy="10.7" r="1.3"/><circle cx="27.5" cy="8.1" r="1.3"/><circle cx="2.5" cy="32.8" r="1.3"/><circle cx="5.7" cy="14.8" r="1.3"/><circle cx="11.3" cy="9.4" r="1.3"/><circle cx="12.7" cy="19.3" r="1.3"/><circle cx="4.2" cy="19.2" r="1.3"/><circle cx="1.8" cy="2.8" r="1.3"/><circle cx="7.3" cy="8.7" r="1.3"/><circle cx="12.3" cy="10.5" r="1.3"/><circle cx="30.1" cy="23.7" r="1.3"/><circle cx="17.0" cy="27.8" r="1.3"/><circle cx="24.7" cy="11.4" r="1.3"/><circle cx="22.2" cy="26.8" r="1.3"/><circle cx="19.2" cy="27.1" r="1.3"/><circle cx="22.8" cy="33.4" r="1.3"/><circle cx="9.5" cy="24.2" r="1.3"/><circle cx="-0.8" cy="19.0" r="1.3"/><circle cx="35.2" cy="19.0" r="1.3"/><circle cx="32.6" cy="3.4" r="1.3"/><circle cx="26.0" cy="9.6" r="1.3"/><circle cx="27.0" cy="15.2" r="1.3"/></g></pattern>
<pattern id="pd1" width="36" height="36" patternUnits="userSpaceOnUse"><g fill="#111"><circle cx="9.3" cy="24.7" r="1.5"/><circle cx="24.6" cy="30.6" r="1.5"/><circle cx="6.7" cy="8.3" r="1.5"/><circle cx="5.3" cy="8.1" r="1.5"/><circle cx="26.4" cy="4.7" r="1.5"/><circle cx="19.1" cy="7.7" r="1.5"/><circle cx="10.6" cy="15.5" r="1.5"/><circle cx="30.2" cy="21.9" r="1.5"/><circle cx="0.5" cy="9.9" r="1.5"/><circle cx="36.5" cy="9.9" r="1.5"/><circle cx="5.3" cy="31.4" r="1.5"/><circle cx="29.2" cy="29.0" r="1.5"/><circle cx="29.7" cy="26.8" r="1.5"/><circle cx="34.2" cy="28.6" r="1.5"/><circle cx="9.2" cy="30.6" r="1.5"/><circle cx="17.5" cy="27.2" r="1.5"/><circle cx="20.3" cy="15.5" r="1.5"/><circle cx="13.1" cy="15.5" r="1.5"/><circle cx="11.3" cy="4.2" r="1.5"/><circle cx="29.5" cy="28.7" r="1.5"/><circle cx="-0.5" cy="24.9" r="1.5"/><circle cx="35.5" cy="24.9" r="1.5"/><circle cx="20.0" cy="26.9" r="1.5"/><circle cx="4.9" cy="24.4" r="1.5"/><circle cx="16.0" cy="6.4" r="1.5"/><circle cx="7.3" cy="18.8" r="1.5"/><circle cx="9.1" cy="16.5" r="1.5"/><circle cx="21.8" cy="14.2" r="1.5"/><circle cx="4.7" cy="17.7" r="1.5"/><circle cx="8.5" cy="8.5" r="1.5"/><circle cx="7.0" cy="13.2" r="1.5"/><circle cx="2.6" cy="23.4" r="1.5"/><circle cx="34.3" cy="14.0" r="1.5"/><circle cx="25.9" cy="33.6" r="1.5"/><circle cx="1.6" cy="5.1" r="1.5"/><circle cx="29.0" cy="30.2" r="1.5"/><circle cx="23.0" cy="5.8" r="1.5"/><circle cx="14.9" cy="31.3" r="1.5"/><circle cx="31.9" cy="28.9" r="1.5"/><circle cx="7.3" cy="30.7" r="1.5"/><circle cx="13.5" cy="25.8" r="1.5"/><circle cx="4.9" cy="-1.0" r="1.5"/><circle cx="4.9" cy="35.0" r="1.5"/><circle cx="21.7" cy="26.0" r="1.5"/><circle cx="7.6" cy="22.2" r="1.5"/><circle cx="20.9" cy="21.3" r="1.5"/><circle cx="12.9" cy="26.2" r="1.5"/><circle cx="12.3" cy="10.6" r="1.5"/><circle cx="5.9" cy="24.6" r="1.5"/><circle cx="4.0" cy="8.1" r="1.5"/><circle cx="2.5" cy="23.2" r="1.5"/><circle cx="20.0" cy="19.6" r="1.5"/><circle cx="1.4" cy="15.8" r="1.5"/><circle cx="37.4" cy="15.8" r="1.5"/><circle cx="12.4" cy="3.3" r="1.5"/><circle cx="0.1" cy="-0.1" r="1.5"/><circle cx="0.1" cy="35.9" r="1.5"/><circle cx="36.1" cy="-0.1" r="1.5"/><circle cx="36.1" cy="35.9" r="1.5"/><circle cx="4.4" cy="10.9" r="1.5"/><circle cx="9.7" cy="21.5" r="1.5"/><circle cx="2.8" cy="16.9" r="1.5"/><circle cx="13.2" cy="30.0" r="1.5"/><circle cx="0.2" cy="12.1" r="1.5"/><circle cx="36.2" cy="12.1" r="1.5"/><circle cx="17.9" cy="-1.1" r="1.5"/><circle cx="17.9" cy="34.9" r="1.5"/><circle cx="18.6" cy="17.1" r="1.5"/><circle cx="24.1" cy="10.7" r="1.5"/><circle cx="1.1" cy="18.0" r="1.5"/><circle cx="37.1" cy="18.0" r="1.5"/><circle cx="32.8" cy="26.6" r="1.5"/><circle cx="9.3" cy="24.6" r="1.5"/><circle cx="30.6" cy="9.3" r="1.5"/><circle cx="21.2" cy="12.8" r="1.5"/><circle cx="8.8" cy="10.3" r="1.5"/><circle cx="7.3" cy="12.6" r="1.5"/><circle cx="1.4" cy="14.3" r="1.5"/><circle cx="37.4" cy="14.3" r="1.5"/><circle cx="3.1" cy="27.3" r="1.5"/><circle cx="21.6" cy="0.1" r="1.5"/><circle cx="21.6" cy="36.1" r="1.5"/><circle cx="27.9" cy="6.9" r="1.5"/><circle cx="17.3" cy="20.0" r="1.5"/><circle cx="12.0" cy="10.4" r="1.5"/><circle cx="15.7" cy="4.9" r="1.5"/><circle cx="31.1" cy="4.0" r="1.5"/><circle cx="29.6" cy="7.9" r="1.5"/><circle cx="10.9" cy="14.0" r="1.5"/><circle cx="1.2" cy="4.6" r="1.5"/><circle cx="37.2" cy="4.6" r="1.5"/><circle cx="13.0" cy="15.9" r="1.5"/><circle cx="31.6" cy="-0.4" r="1.5"/><circle cx="31.6" cy="35.6" r="1.5"/><circle cx="1.6" cy="19.3" r="1.5"/><circle cx="4.7" cy="28.9" r="1.5"/><circle cx="11.6" cy="32.1" r="1.5"/><circle cx="19.6" cy="4.5" r="1.5"/><circle cx="0.2" cy="8.9" r="1.5"/><circle cx="36.2" cy="8.9" r="1.5"/><circle cx="31.2" cy="5.4" r="1.5"/><circle cx="17.2" cy="13.4" r="1.5"/><circle cx="12.4" cy="28.9" r="1.5"/><circle cx="7.7" cy="25.9" r="1.5"/><circle cx="24.0" cy="33.7" r="1.5"/><circle cx="18.7" cy="33.1" r="1.5"/><circle cx="15.9" cy="20.6" r="1.5"/><circle cx="22.3" cy="30.2" r="1.5"/><circle cx="32.3" cy="4.2" r="1.5"/><circle cx="4.9" cy="19.2" r="1.5"/><circle cx="29.2" cy="19.2" r="1.5"/><circle cx="10.8" cy="-1.4" r="1.5"/><circle cx="10.8" cy="34.6" r="1.5"/><circle cx="10.7" cy="3.1" r="1.5"/><circle cx="1.9" cy="1.1" r="1.5"/><circle cx="1.9" cy="37.1" r="1.5"/><circle cx="26.2" cy="3.9" r="1.5"/><circle cx="25.8" cy="31.2" r="1.5"/><circle cx="-0.0" cy="29.1" r="1.5"/><circle cx="36.0" cy="29.1" r="1.5"/><circle cx="15.3" cy="22.4" r="1.5"/><circle cx="30.0" cy="25.8" r="1.5"/><circle cx="10.5" cy="27.4" r="1.5"/><circle cx="3.9" cy="11.1" r="1.5"/><circle cx="-0.1" cy="17.0" r="1.5"/><circle cx="35.9" cy="17.0" r="1.5"/><circle cx="9.6" cy="28.3" r="1.5"/><circle cx="16.2" cy="0.1" r="1.5"/><circle cx="16.2" cy="36.1" r="1.5"/><circle cx="1.1" cy="9.3" r="1.5"/><circle cx="37.1" cy="9.3" r="1.5"/><circle cx="12.0" cy="33.7" r="1.5"/><circle cx="8.9" cy="30.6" r="1.5"/><circle cx="30.7" cy="15.0" r="1.5"/><circle cx="-0.2" cy="27.4" r="1.5"/><circle cx="35.8" cy="27.4" r="1.5"/><circle cx="17.4" cy="9.4" r="1.5"/><circle cx="16.6" cy="32.5" r="1.5"/><circle cx="19.3" cy="7.0" r="1.5"/><circle cx="13.5" cy="17.1" r="1.5"/><circle cx="6.9" cy="20.6" r="1.5"/><circle cx="1.2" cy="29.6" r="1.5"/><circle cx="37.2" cy="29.6" r="1.5"/><circle cx="6.4" cy="3.7" r="1.5"/><circle cx="21.2" cy="11.1" r="1.5"/><circle cx="31.9" cy="17.9" r="1.5"/><circle cx="18.8" cy="30.0" r="1.5"/><circle cx="7.7" cy="26.8" r="1.5"/><circle cx="23.4" cy="15.4" r="1.5"/><circle cx="-1.5" cy="0.8" r="1.5"/><circle cx="-1.5" cy="36.8" r="1.5"/><circle cx="34.5" cy="0.8" r="1.5"/><circle cx="34.5" cy="36.8" r="1.5"/></g></pattern>
<pattern id="pd2" width="36" height="36" patternUnits="userSpaceOnUse"><g fill="#111"><circle cx="3.8" cy="25.3" r="1.5"/><circle cx="23.5" cy="33.9" r="1.5"/><circle cx="9.8" cy="9.2" r="1.5"/><circle cx="26.4" cy="23.7" r="1.5"/><circle cx="10.9" cy="24.6" r="1.5"/><circle cx="14.3" cy="28.0" r="1.5"/><circle cx="4.3" cy="8.0" r="1.5"/><circle cx="32.5" cy="12.9" r="1.5"/><circle cx="9.4" cy="29.0" r="1.5"/><circle cx="22.7" cy="5.4" r="1.5"/><circle cx="19.8" cy="23.9" r="1.5"/><circle cx="5.9" cy="23.5" r="1.5"/><circle cx="4.4" cy="12.1" r="1.5"/><circle cx="3.0" cy="7.4" r="1.5"/><circle cx="-0.8" cy="14.5" r="1.5"/><circle cx="35.2" cy="14.5" r="1.5"/><circle cx="-0.3" cy="15.8" r="1.5"/><circle cx="35.7" cy="15.8" r="1.5"/><circle cx="21.9" cy="31.4" r="1.5"/><circle cx="24.7" cy="4.0" r="1.5"/><circle cx="21.2" cy="22.8" r="1.5"/><circle cx="6.5" cy="3.4" r="1.5"/><circle cx="31.5" cy="18.5" r="1.5"/><circle cx="7.0" cy="16.3" r="1.5"/><circle cx="7.9" cy="28.7" r="1.5"/><circle cx="18.0" cy="3.7" r="1.5"/><circle cx="29.5" cy="3.2" r="1.5"/><circle cx="10.1" cy="1.0" r="1.5"/><circle cx="10.1" cy="37.0" r="1.5"/><circle cx="26.7" cy="4.1" r="1.5"/><circle cx="18.9" cy="3.3" r="1.5"/><circle cx="17.3" cy="24.7" r="1.5"/><circle cx="19.3" cy="16.4" r="1.5"/><circle cx="17.5" cy="15.7" r="1.5"/><circle cx="21.4" cy="3.4" r="1.5"/><circle cx="17.1" cy="8.5" r="1.5"/><circle cx="31.2" cy="33.8" r="1.5"/><circle cx="2.4" cy="5.2" r="1.5"/><circle cx="25.3" cy="20.6" r="1.5"/><circle cx="0.7" cy="25.4" r="1.5"/><circle cx="36.7" cy="25.4" r="1.5"/><circle cx="34.0" cy="15.2" r="1.5"/><circle cx="12.5" cy="20.5" r="1.5"/><circle cx="33.8" cy="9.5" r="1.5"/><circle cx="10.9" cy="6.8" r="1.5"/><circle cx="22.6" cy="16.9" r="1.5"/><circle cx="9.2" cy="14.0" r="1.5"/><circle cx="1.3" cy="11.2" r="1.5"/><circle cx="37.3" cy="11.2" r="1.5"/><circle cx="-0.6" cy="21.1" r="1.5"/><circle cx="35.4" cy="21.1" r="1.5"/><circle cx="10.2" cy="33.7" r="1.5"/><circle cx="12.9" cy="9.1" r="1.5"/><circle cx="1.3" cy="5.3" r="1.5"/><circle cx="37.3" cy="5.3" r="1.5"/><circle cx="7.2" cy="8.3" r="1.5"/><circle cx="31.4" cy="9.5" r="1.5"/><circle cx="8.9" cy="21.7" r="1.5"/><circle cx="33.0" cy="10.5" r="1.5"/><circle cx="27.4" cy="13.3" r="1.5"/><circle cx="20.2" cy="21.5" r="1.5"/><circle cx="33.9" cy="27.3" r="1.5"/><circle cx="18.3" cy="30.3" r="1.5"/><circle cx="13.2" cy="13.8" r="1.5"/><circle cx="-1.4" cy="19.7" r="1.5"/><circle cx="34.6" cy="19.7" r="1.5"/><circle cx="27.8" cy="11.3" r="1.5"/><circle cx="33.0" cy="22.1" r="1.5"/><circle cx="8.9" cy="33.6" r="1.5"/><circle cx="16.9" cy="12.2" r="1.5"/><circle cx="9.5" cy="3.7" r="1.5"/><circle cx="7.2" cy="24.9" r="1.5"/><circle cx="5.1" cy="9.3" r="1.5"/><circle cx="16.1" cy="19.6" r="1.5"/><circle cx="13.7" cy="28.3" r="1.5"/><circle cx="9.2" cy="13.3" r="1.5"/><circle cx="15.3" cy="4.6" r="1.5"/><circle cx="8.0" cy="5.3" r="1.5"/><circle cx="26.1" cy="5.3" r="1.5"/><circle cx="24.1" cy="8.0" r="1.5"/><circle cx="23.3" cy="23.6" r="1.5"/><circle cx="12.7" cy="33.6" r="1.5"/><circle cx="23.6" cy="20.1" r="1.5"/><circle cx="1.7" cy="14.6" r="1.5"/><circle cx="9.6" cy="16.9" r="1.5"/><circle cx="33.6" cy="31.1" r="1.5"/><circle cx="2.2" cy="24.5" r="1.5"/><circle cx="33.6" cy="19.5" r="1.5"/><circle cx="3.5" cy="31.2" r="1.5"/><circle cx="15.3" cy="-0.7" r="1.5"/><circle cx="15.3" cy="35.3" r="1.5"/><circle cx="31.5" cy="29.8" r="1.5"/><circle cx="33.5" cy="2.5" r="1.5"/><circle cx="28.6" cy="11.0" r="1.5"/><circle cx="4.9" cy="13.6" r="1.5"/><circle cx="21.2" cy="0.2" r="1.5"/><circle cx="21.2" cy="36.2" r="1.5"/><circle cx="16.2" cy="28.2" r="1.5"/><circle cx="17.8" cy="19.0" r="1.5"/><circle cx="10.7" cy="-1.0" r="1.5"/><circle cx="10.7" cy="35.0" r="1.5"/><circle cx="8.9" cy="24.5" r="1.5"/><circle cx="23.3" cy="0.0" r="1.5"/><circle cx="23.3" cy="36.0" r="1.5"/><circle cx="-0.1" cy="8.5" r="1.5"/><circle cx="35.9" cy="8.5" r="1.5"/><circle cx="-0.4" cy="33.4" r="1.5"/><circle cx="35.6" cy="33.4" r="1.5"/><circle cx="32.4" cy="30.8" r="1.5"/><circle cx="14.3" cy="16.0" r="1.5"/><circle cx="12.4" cy="33.7" r="1.5"/><circle cx="1.1" cy="4.9" r="1.5"/><circle cx="37.1" cy="4.9" r="1.5"/><circle cx="34.4" cy="29.0" r="1.5"/><circle cx="25.4" cy="-1.2" r="1.5"/><circle cx="25.4" cy="34.8" r="1.5"/><circle cx="18.9" cy="30.1" r="1.5"/><circle cx="15.9" cy="32.4" r="1.5"/><circle cx="2.5" cy="15.8" r="1.5"/><circle cx="20.8" cy="28.6" r="1.5"/><circle cx="15.2" cy="24.5" r="1.5"/><circle cx="-1.2" cy="15.1" r="1.5"/><circle cx="34.8" cy="15.1" r="1.5"/><circle cx="7.2" cy="1.1" r="1.5"/><circle cx="7.2" cy="37.1" r="1.5"/><circle cx="31.0" cy="17.1" r="1.5"/><circle cx="14.0" cy="18.7" r="1.5"/><circle cx="4.3" cy="8.0" r="1.5"/><circle cx="8.5" cy="9.2" r="1.5"/><circle cx="30.9" cy="8.9" r="1.5"/><circle cx="3.3" cy="31.2" r="1.5"/><circle cx="20.1" cy="1.0" r="1.5"/><circle cx="20.1" cy="37.0" r="1.5"/><circle cx="24.3" cy="24.7" r="1.5"/><circle cx="23.4" cy="27.9" r="1.5"/><circle cx="15.3" cy="8.1" r="1.5"/><circle cx="26.8" cy="22.5" r="1.5"/><circle cx="25.3" cy="6.6" r="1.5"/><circle cx="13.4" cy="24.9" r="1.5"/><circle cx="13.8" cy="21.7" r="1.5"/><circle cx="17.0" cy="27.2" r="1.5"/><circle cx="12.5" cy="17.9" r="1.5"/><circle cx="29.8" cy="11.2" r="1.5"/><circle cx="6.3" cy="22.9" r="1.5"/><circle cx="4.8" cy="30.9" r="1.5"/><circle cx="9.9" cy="32.5" r="1.5"/><circle cx="19.2" cy="5.5" r="1.5"/><circle cx="18.8" cy="24.6" r="1.5"/><circle cx="17.5" cy="22.9" r="1.5"/><circle cx="13.3" cy="-1.5" r="1.5"/><circle cx="13.3" cy="34.5" r="1.5"/><circle cx="6.3" cy="28.7" r="1.5"/><circle cx="0.9" cy="18.3" r="1.5"/><circle cx="36.9" cy="18.3" r="1.5"/><circle cx="2.4" cy="4.7" r="1.5"/><circle cx="21.2" cy="32.6" r="1.5"/><circle cx="11.1" cy="14.5" r="1.5"/><circle cx="17.1" cy="21.8" r="1.5"/><circle cx="12.6" cy="12.7" r="1.5"/><circle cx="30.7" cy="20.0" r="1.5"/><circle cx="12.7" cy="29.5" r="1.5"/><circle cx="-0.0" cy="15.6" r="1.5"/><circle cx="36.0" cy="15.6" r="1.5"/><circle cx="0.5" cy="11.0" r="1.5"/><circle cx="36.5" cy="11.0" r="1.5"/><circle cx="32.3" cy="6.2" r="1.5"/><circle cx="7.2" cy="28.5" r="1.5"/><circle cx="4.1" cy="30.6" r="1.5"/><circle cx="8.1" cy="14.0" r="1.5"/><circle cx="21.4" cy="4.0" r="1.5"/><circle cx="27.9" cy="15.8" r="1.5"/><circle cx="27.7" cy="27.5" r="1.5"/><circle cx="2.8" cy="29.6" r="1.5"/><circle cx="29.6" cy="8.7" r="1.5"/><circle cx="21.3" cy="7.4" r="1.5"/><circle cx="19.4" cy="27.1" r="1.5"/><circle cx="13.6" cy="19.2" r="1.5"/><circle cx="4.7" cy="31.1" r="1.5"/><circle cx="22.5" cy="29.9" r="1.5"/><circle cx="2.9" cy="26.8" r="1.5"/><circle cx="3.3" cy="20.0" r="1.5"/><circle cx="8.3" cy="32.5" r="1.5"/><circle cx="3.8" cy="17.0" r="1.5"/><circle cx="17.0" cy="13.9" r="1.5"/><circle cx="2.3" cy="24.0" r="1.5"/><circle cx="-1.0" cy="13.0" r="1.5"/><circle cx="35.0" cy="13.0" r="1.5"/><circle cx="32.4" cy="12.2" r="1.5"/><circle cx="9.8" cy="16.4" r="1.5"/><circle cx="-1.0" cy="28.1" r="1.5"/><circle cx="35.0" cy="28.1" r="1.5"/><circle cx="22.8" cy="1.4" r="1.5"/><circle cx="22.8" cy="37.4" r="1.5"/><circle cx="16.2" cy="0.5" r="1.5"/><circle cx="16.2" cy="36.5" r="1.5"/><circle cx="2.2" cy="13.5" r="1.5"/><circle cx="8.8" cy="3.7" r="1.5"/><circle cx="18.4" cy="28.2" r="1.5"/><circle cx="33.3" cy="33.0" r="1.5"/><circle cx="15.3" cy="6.4" r="1.5"/><circle cx="-1.3" cy="15.2" r="1.5"/><circle cx="34.7" cy="15.2" r="1.5"/><circle cx="12.3" cy="29.7" r="1.5"/><circle cx="20.1" cy="34.3" r="1.5"/><circle cx="25.2" cy="34.1" r="1.5"/><circle cx="5.5" cy="34.0" r="1.5"/><circle cx="19.5" cy="25.1" r="1.5"/><circle cx="10.8" cy="8.8" r="1.5"/><circle cx="10.7" cy="6.1" r="1.5"/><circle cx="-1.4" cy="4.3" r="1.5"/><circle cx="34.6" cy="4.3" r="1.5"/><circle cx="8.7" cy="22.8" r="1.5"/><circle cx="7.4" cy="7.7" r="1.5"/><circle cx="9.1" cy="8.4" r="1.5"/><circle cx="0.4" cy="26.6" r="1.5"/><circle cx="36.4" cy="26.6" r="1.5"/><circle cx="23.7" cy="11.2" r="1.5"/><circle cx="32.4" cy="20.1" r="1.5"/><circle cx="7.9" cy="-1.3" r="1.5"/><circle cx="7.9" cy="34.7" r="1.5"/><circle cx="8.3" cy="29.1" r="1.5"/><circle cx="29.4" cy="0.1" r="1.5"/><circle cx="29.4" cy="36.1" r="1.5"/><circle cx="30.5" cy="15.1" r="1.5"/><circle cx="18.1" cy="34.1" r="1.5"/><circle cx="16.3" cy="8.7" r="1.5"/><circle cx="1.8" cy="31.9" r="1.5"/><circle cx="16.4" cy="25.6" r="1.5"/><circle cx="23.1" cy="-0.7" r="1.5"/><circle cx="23.1" cy="35.3" r="1.5"/><circle cx="33.7" cy="33.7" r="1.5"/><circle cx="18.2" cy="32.8" r="1.5"/><circle cx="11.0" cy="4.5" r="1.5"/><circle cx="23.0" cy="1.0" r="1.5"/><circle cx="23.0" cy="37.0" r="1.5"/><circle cx="-1.0" cy="11.7" r="1.5"/><circle cx="35.0" cy="11.7" r="1.5"/><circle cx="15.3" cy="10.5" r="1.5"/><circle cx="11.6" cy="19.3" r="1.5"/><circle cx="28.8" cy="0.5" r="1.5"/><circle cx="28.8" cy="36.5" r="1.5"/><circle cx="12.4" cy="8.9" r="1.5"/><circle cx="-1.5" cy="15.8" r="1.5"/><circle cx="34.5" cy="15.8" r="1.5"/><circle cx="16.0" cy="33.7" r="1.5"/><circle cx="13.9" cy="13.8" r="1.5"/><circle cx="14.4" cy="8.5" r="1.5"/><circle cx="25.3" cy="10.3" r="1.5"/><circle cx="18.3" cy="20.6" r="1.5"/><circle cx="27.6" cy="26.6" r="1.5"/><circle cx="17.3" cy="34.2" r="1.5"/><circle cx="34.0" cy="33.8" r="1.5"/><circle cx="25.7" cy="16.4" r="1.5"/><circle cx="13.0" cy="31.0" r="1.5"/><circle cx="17.1" cy="26.9" r="1.5"/><circle cx="14.0" cy="13.2" r="1.5"/><circle cx="0.6" cy="26.3" r="1.5"/><circle cx="36.6" cy="26.3" r="1.5"/><circle cx="10.4" cy="17.8" r="1.5"/><circle cx="26.1" cy="29.9" r="1.5"/><circle cx="34.0" cy="23.9" r="1.5"/><circle cx="8.4" cy="33.4" r="1.5"/><circle cx="2.0" cy="14.9" r="1.5"/><circle cx="33.3" cy="30.4" r="1.5"/><circle cx="21.4" cy="31.3" r="1.5"/><circle cx="6.4" cy="1.4" r="1.5"/><circle cx="6.4" cy="37.4" r="1.5"/><circle cx="10.7" cy="33.5" r="1.5"/><circle cx="1.4" cy="11.7" r="1.5"/><circle cx="37.4" cy="11.7" r="1.5"/><circle cx="18.3" cy="7.4" r="1.5"/><circle cx="31.4" cy="3.8" r="1.5"/><circle cx="3.1" cy="-0.1" r="1.5"/><circle cx="3.1" cy="35.9" r="1.5"/><circle cx="0.4" cy="8.0" r="1.5"/><circle cx="36.4" cy="8.0" r="1.5"/><circle cx="14.7" cy="31.7" r="1.5"/><circle cx="12.1" cy="20.5" r="1.5"/><circle cx="29.0" cy="22.3" r="1.5"/><circle cx="29.9" cy="0.6" r="1.5"/><circle cx="29.9" cy="36.6" r="1.5"/><circle cx="19.5" cy="0.8" r="1.5"/><circle cx="19.5" cy="36.8" r="1.5"/><circle cx="30.7" cy="0.9" r="1.5"/><circle cx="30.7" cy="36.9" r="1.5"/><circle cx="3.4" cy="15.4" r="1.5"/><circle cx="22.4" cy="0.5" r="1.5"/><circle cx="22.4" cy="36.5" r="1.5"/><circle cx="23.0" cy="3.7" r="1.5"/><circle cx="11.6" cy="1.5" r="1.5"/><circle cx="26.2" cy="29.9" r="1.5"/><circle cx="27.7" cy="11.6" r="1.5"/><circle cx="9.0" cy="-1.4" r="1.5"/><circle cx="9.0" cy="34.6" r="1.5"/></g></pattern>
<pattern id="py1" width="36" height="36" patternUnits="userSpaceOnUse"><g fill="#F2CD6B"><circle cx="-1.3" cy="0.4" r="1.6"/><circle cx="-1.3" cy="36.4" r="1.6"/><circle cx="34.7" cy="0.4" r="1.6"/><circle cx="34.7" cy="36.4" r="1.6"/><circle cx="26.5" cy="5.7" r="1.6"/><circle cx="-0.5" cy="0.6" r="1.6"/><circle cx="-0.5" cy="36.6" r="1.6"/><circle cx="35.5" cy="0.6" r="1.6"/><circle cx="35.5" cy="36.6" r="1.6"/><circle cx="31.7" cy="24.5" r="1.6"/><circle cx="30.9" cy="-0.0" r="1.6"/><circle cx="30.9" cy="36.0" r="1.6"/><circle cx="8.6" cy="12.2" r="1.6"/><circle cx="25.5" cy="10.1" r="1.6"/><circle cx="9.5" cy="8.2" r="1.6"/><circle cx="30.9" cy="31.5" r="1.6"/><circle cx="28.7" cy="8.0" r="1.6"/><circle cx="33.3" cy="18.4" r="1.6"/><circle cx="8.3" cy="16.4" r="1.6"/><circle cx="15.1" cy="2.8" r="1.6"/><circle cx="20.3" cy="13.0" r="1.6"/><circle cx="20.5" cy="33.5" r="1.6"/><circle cx="23.2" cy="14.6" r="1.6"/><circle cx="31.1" cy="-0.2" r="1.6"/><circle cx="31.1" cy="35.8" r="1.6"/><circle cx="17.6" cy="34.0" r="1.6"/><circle cx="0.7" cy="5.1" r="1.6"/><circle cx="36.7" cy="5.1" r="1.6"/><circle cx="6.2" cy="33.8" r="1.6"/><circle cx="24.9" cy="25.9" r="1.6"/><circle cx="10.3" cy="17.8" r="1.6"/><circle cx="31.9" cy="3.6" r="1.6"/><circle cx="4.2" cy="1.7" r="1.6"/><circle cx="16.9" cy="30.3" r="1.6"/><circle cx="20.0" cy="14.5" r="1.6"/><circle cx="18.1" cy="6.5" r="1.6"/><circle cx="34.1" cy="12.7" r="1.6"/><circle cx="8.5" cy="11.2" r="1.6"/><circle cx="29.7" cy="11.5" r="1.6"/><circle cx="32.6" cy="12.1" r="1.6"/><circle cx="15.9" cy="2.7" r="1.6"/><circle cx="32.7" cy="28.7" r="1.6"/><circle cx="17.1" cy="4.2" r="1.6"/><circle cx="17.7" cy="13.5" r="1.6"/><circle cx="30.2" cy="33.4" r="1.6"/><circle cx="26.7" cy="10.3" r="1.6"/><circle cx="1.5" cy="32.2" r="1.6"/><circle cx="37.5" cy="32.2" r="1.6"/><circle cx="34.0" cy="5.7" r="1.6"/><circle cx="18.0" cy="17.3" r="1.6"/><circle cx="-0.8" cy="1.5" r="1.6"/><circle cx="-0.8" cy="37.5" r="1.6"/><circle cx="35.2" cy="1.5" r="1.6"/><circle cx="35.2" cy="37.5" r="1.6"/><circle cx="2.2" cy="30.4" r="1.6"/><circle cx="20.5" cy="16.6" r="1.6"/><circle cx="28.0" cy="21.4" r="1.6"/><circle cx="24.9" cy="9.2" r="1.6"/><circle cx="3.1" cy="0.3" r="1.6"/><circle cx="3.1" cy="36.3" r="1.6"/><circle cx="12.0" cy="23.3" r="1.6"/><circle cx="13.7" cy="12.5" r="1.6"/><circle cx="22.3" cy="25.4" r="1.6"/><circle cx="21.4" cy="11.2" r="1.6"/><circle cx="29.6" cy="28.8" r="1.6"/><circle cx="32.2" cy="32.1" r="1.6"/><circle cx="0.5" cy="24.1" r="1.6"/><circle cx="36.5" cy="24.1" r="1.6"/><circle cx="12.5" cy="14.0" r="1.6"/><circle cx="18.7" cy="5.2" r="1.6"/><circle cx="9.0" cy="-0.5" r="1.6"/><circle cx="9.0" cy="35.5" r="1.6"/><circle cx="11.9" cy="32.9" r="1.6"/><circle cx="24.6" cy="11.3" r="1.6"/><circle cx="11.5" cy="21.8" r="1.6"/><circle cx="25.3" cy="12.2" r="1.6"/><circle cx="2.1" cy="6.2" r="1.6"/><circle cx="31.0" cy="26.2" r="1.6"/><circle cx="3.9" cy="30.1" r="1.6"/><circle cx="20.7" cy="12.1" r="1.6"/><circle cx="32.2" cy="4.6" r="1.6"/></g></pattern>
<pattern id="py2" width="36" height="36" patternUnits="userSpaceOnUse"><g fill="#F2CD6B"><circle cx="13.0" cy="17.3" r="1.6"/><circle cx="15.0" cy="16.1" r="1.6"/><circle cx="14.7" cy="23.7" r="1.6"/><circle cx="9.3" cy="22.9" r="1.6"/><circle cx="0.4" cy="10.9" r="1.6"/><circle cx="36.4" cy="10.9" r="1.6"/><circle cx="12.1" cy="5.1" r="1.6"/><circle cx="26.8" cy="11.2" r="1.6"/><circle cx="28.4" cy="-1.6" r="1.6"/><circle cx="28.4" cy="34.4" r="1.6"/><circle cx="9.1" cy="32.2" r="1.6"/><circle cx="29.1" cy="24.0" r="1.6"/><circle cx="1.0" cy="16.4" r="1.6"/><circle cx="37.0" cy="16.4" r="1.6"/><circle cx="22.6" cy="10.7" r="1.6"/><circle cx="8.1" cy="11.2" r="1.6"/><circle cx="9.3" cy="28.4" r="1.6"/><circle cx="12.5" cy="15.2" r="1.6"/><circle cx="23.1" cy="34.1" r="1.6"/><circle cx="10.5" cy="1.6" r="1.6"/><circle cx="10.5" cy="37.6" r="1.6"/><circle cx="-0.9" cy="30.0" r="1.6"/><circle cx="35.1" cy="30.0" r="1.6"/><circle cx="28.5" cy="18.8" r="1.6"/><circle cx="8.5" cy="5.6" r="1.6"/><circle cx="11.0" cy="16.6" r="1.6"/><circle cx="2.4" cy="25.2" r="1.6"/><circle cx="26.2" cy="0.5" r="1.6"/><circle cx="26.2" cy="36.5" r="1.6"/><circle cx="30.3" cy="17.7" r="1.6"/><circle cx="33.1" cy="17.1" r="1.6"/><circle cx="28.6" cy="16.4" r="1.6"/><circle cx="22.1" cy="18.0" r="1.6"/><circle cx="0.8" cy="5.2" r="1.6"/><circle cx="36.8" cy="5.2" r="1.6"/><circle cx="8.4" cy="14.6" r="1.6"/><circle cx="13.3" cy="19.4" r="1.6"/><circle cx="23.7" cy="14.4" r="1.6"/><circle cx="11.5" cy="18.4" r="1.6"/><circle cx="34.3" cy="28.2" r="1.6"/><circle cx="23.6" cy="29.4" r="1.6"/><circle cx="8.2" cy="3.6" r="1.6"/><circle cx="3.4" cy="4.4" r="1.6"/><circle cx="0.3" cy="22.5" r="1.6"/><circle cx="36.3" cy="22.5" r="1.6"/><circle cx="33.1" cy="4.1" r="1.6"/><circle cx="24.7" cy="33.9" r="1.6"/><circle cx="27.6" cy="5.5" r="1.6"/><circle cx="23.0" cy="9.2" r="1.6"/><circle cx="6.4" cy="0.4" r="1.6"/><circle cx="6.4" cy="36.4" r="1.6"/><circle cx="18.9" cy="33.1" r="1.6"/><circle cx="3.7" cy="5.3" r="1.6"/><circle cx="14.0" cy="1.4" r="1.6"/><circle cx="14.0" cy="37.4" r="1.6"/><circle cx="16.7" cy="26.3" r="1.6"/><circle cx="16.6" cy="1.4" r="1.6"/><circle cx="16.6" cy="37.4" r="1.6"/><circle cx="1.1" cy="7.1" r="1.6"/><circle cx="37.1" cy="7.1" r="1.6"/><circle cx="24.0" cy="33.3" r="1.6"/><circle cx="18.1" cy="3.7" r="1.6"/><circle cx="7.8" cy="15.0" r="1.6"/><circle cx="3.9" cy="4.2" r="1.6"/><circle cx="15.6" cy="30.3" r="1.6"/><circle cx="8.6" cy="31.8" r="1.6"/><circle cx="31.5" cy="15.6" r="1.6"/><circle cx="8.1" cy="6.6" r="1.6"/><circle cx="24.0" cy="29.7" r="1.6"/><circle cx="31.0" cy="7.5" r="1.6"/><circle cx="15.4" cy="0.8" r="1.6"/><circle cx="15.4" cy="36.8" r="1.6"/><circle cx="11.0" cy="10.6" r="1.6"/><circle cx="4.5" cy="2.7" r="1.6"/><circle cx="-0.2" cy="11.0" r="1.6"/><circle cx="35.8" cy="11.0" r="1.6"/><circle cx="18.0" cy="19.2" r="1.6"/><circle cx="17.0" cy="21.2" r="1.6"/><circle cx="18.1" cy="17.7" r="1.6"/><circle cx="2.9" cy="22.8" r="1.6"/><circle cx="24.1" cy="26.1" r="1.6"/><circle cx="11.3" cy="16.6" r="1.6"/><circle cx="29.0" cy="26.2" r="1.6"/><circle cx="1.9" cy="12.1" r="1.6"/><circle cx="6.2" cy="25.6" r="1.6"/><circle cx="14.5" cy="14.1" r="1.6"/><circle cx="8.0" cy="16.3" r="1.6"/><circle cx="25.9" cy="22.7" r="1.6"/><circle cx="8.0" cy="14.2" r="1.6"/><circle cx="22.4" cy="2.0" r="1.6"/><circle cx="32.5" cy="0.8" r="1.6"/><circle cx="32.5" cy="36.8" r="1.6"/><circle cx="22.5" cy="5.3" r="1.6"/><circle cx="-1.6" cy="24.9" r="1.6"/><circle cx="34.4" cy="24.9" r="1.6"/><circle cx="8.0" cy="18.1" r="1.6"/><circle cx="30.4" cy="30.7" r="1.6"/><circle cx="23.9" cy="23.0" r="1.6"/><circle cx="26.7" cy="33.0" r="1.6"/><circle cx="18.5" cy="22.1" r="1.6"/><circle cx="28.7" cy="18.4" r="1.6"/><circle cx="7.9" cy="20.9" r="1.6"/><circle cx="12.6" cy="25.7" r="1.6"/><circle cx="26.9" cy="32.6" r="1.6"/><circle cx="3.9" cy="0.8" r="1.6"/><circle cx="3.9" cy="36.8" r="1.6"/><circle cx="33.5" cy="26.3" r="1.6"/><circle cx="-0.1" cy="29.3" r="1.6"/><circle cx="35.9" cy="29.3" r="1.6"/><circle cx="34.3" cy="5.6" r="1.6"/><circle cx="6.7" cy="22.1" r="1.6"/><circle cx="27.3" cy="4.2" r="1.6"/><circle cx="34.1" cy="8.3" r="1.6"/><circle cx="7.3" cy="15.7" r="1.6"/><circle cx="6.6" cy="3.2" r="1.6"/><circle cx="2.8" cy="1.2" r="1.6"/><circle cx="2.8" cy="37.2" r="1.6"/><circle cx="5.4" cy="24.5" r="1.6"/><circle cx="28.1" cy="27.8" r="1.6"/><circle cx="15.0" cy="27.1" r="1.6"/><circle cx="4.1" cy="31.1" r="1.6"/><circle cx="14.8" cy="4.4" r="1.6"/><circle cx="13.8" cy="7.0" r="1.6"/><circle cx="26.7" cy="13.5" r="1.6"/><circle cx="0.6" cy="6.9" r="1.6"/><circle cx="36.6" cy="6.9" r="1.6"/><circle cx="2.9" cy="34.3" r="1.6"/><circle cx="14.8" cy="28.2" r="1.6"/><circle cx="21.4" cy="14.8" r="1.6"/><circle cx="26.4" cy="19.9" r="1.6"/><circle cx="1.6" cy="-0.2" r="1.6"/><circle cx="1.6" cy="35.8" r="1.6"/><circle cx="37.6" cy="-0.2" r="1.6"/><circle cx="37.6" cy="35.8" r="1.6"/><circle cx="12.6" cy="23.5" r="1.6"/><circle cx="15.0" cy="-1.4" r="1.6"/><circle cx="15.0" cy="34.6" r="1.6"/><circle cx="6.0" cy="2.0" r="1.6"/><circle cx="1.5" cy="14.4" r="1.6"/><circle cx="37.5" cy="14.4" r="1.6"/><circle cx="30.5" cy="16.1" r="1.6"/><circle cx="33.5" cy="5.2" r="1.6"/><circle cx="-1.2" cy="6.0" r="1.6"/><circle cx="34.8" cy="6.0" r="1.6"/><circle cx="31.8" cy="7.0" r="1.6"/><circle cx="21.0" cy="22.1" r="1.6"/><circle cx="-1.0" cy="14.8" r="1.6"/><circle cx="35.0" cy="14.8" r="1.6"/><circle cx="30.3" cy="1.8" r="1.6"/><circle cx="32.4" cy="18.7" r="1.6"/><circle cx="19.3" cy="-1.1" r="1.6"/><circle cx="19.3" cy="34.9" r="1.6"/><circle cx="11.3" cy="22.1" r="1.6"/><circle cx="21.1" cy="10.9" r="1.6"/><circle cx="5.3" cy="15.5" r="1.6"/><circle cx="10.2" cy="22.0" r="1.6"/><circle cx="14.7" cy="3.0" r="1.6"/><circle cx="24.8" cy="33.3" r="1.6"/><circle cx="22.2" cy="10.7" r="1.6"/><circle cx="10.9" cy="-1.5" r="1.6"/><circle cx="10.9" cy="34.5" r="1.6"/><circle cx="16.0" cy="26.1" r="1.6"/><circle cx="2.7" cy="29.3" r="1.6"/><circle cx="32.2" cy="9.4" r="1.6"/><circle cx="11.1" cy="23.4" r="1.6"/><circle cx="34.3" cy="28.3" r="1.6"/><circle cx="0.8" cy="4.1" r="1.6"/><circle cx="36.8" cy="4.1" r="1.6"/><circle cx="32.0" cy="14.5" r="1.6"/><circle cx="34.3" cy="16.2" r="1.6"/><circle cx="30.1" cy="7.9" r="1.6"/><circle cx="-1.3" cy="17.1" r="1.6"/><circle cx="34.7" cy="17.1" r="1.6"/><circle cx="0.1" cy="7.1" r="1.6"/><circle cx="36.1" cy="7.1" r="1.6"/><circle cx="3.0" cy="15.1" r="1.6"/><circle cx="-1.5" cy="-1.0" r="1.6"/><circle cx="-1.5" cy="35.0" r="1.6"/><circle cx="34.5" cy="-1.0" r="1.6"/><circle cx="34.5" cy="35.0" r="1.6"/><circle cx="33.4" cy="14.7" r="1.6"/><circle cx="27.7" cy="26.8" r="1.6"/><circle cx="29.9" cy="-1.1" r="1.6"/><circle cx="29.9" cy="34.9" r="1.6"/><circle cx="30.0" cy="27.5" r="1.6"/><circle cx="11.4" cy="6.1" r="1.6"/><circle cx="15.0" cy="10.5" r="1.6"/><circle cx="27.1" cy="5.7" r="1.6"/><circle cx="7.3" cy="26.3" r="1.6"/><circle cx="1.4" cy="3.0" r="1.6"/><circle cx="37.4" cy="3.0" r="1.6"/><circle cx="0.0" cy="0.7" r="1.6"/><circle cx="0.0" cy="36.7" r="1.6"/><circle cx="36.0" cy="0.7" r="1.6"/><circle cx="36.0" cy="36.7" r="1.6"/><circle cx="3.5" cy="26.6" r="1.6"/></g></pattern>
<mask id="mc1" maskUnits="userSpaceOnUse" x="760" y="960" width="560" height="800"><rect x="760" y="960" width="560" height="800" fill="url(#pw1)"/></mask>
<mask id="mc2" maskUnits="userSpaceOnUse" x="760" y="960" width="560" height="800"><rect x="760" y="960" width="560" height="800" fill="url(#pw2)"/></mask>
<mask id="mc3" maskUnits="userSpaceOnUse" x="760" y="960" width="560" height="800"><rect x="760" y="960" width="560" height="800" fill="url(#pw3)"/></mask>
<filter id="rg" x="-2%" y="-2%" width="104%" height="104%"><feTurbulence type="fractalNoise" baseFrequency="0.45" numOctaves="2" seed="7" result="t"/><feDisplacementMap in="SourceGraphic" in2="t" scale="5" xChannelSelector="R" yChannelSelector="G"/></filter>
</defs>
<g id="panel-c">
<text x="672.0" y="865.8" font-size="43">c</text>
<text x="1085.5" y="906.7" font-size="35.6" font-weight="bold" text-anchor="middle" textLength="544.5" lengthAdjust="spacingAndGlyphs">Clusters before doublet removal</text>
<text x="1085.5" y="942.7" font-size="35.6" font-weight="bold" text-anchor="middle" textLength="443.5" lengthAdjust="spacingAndGlyphs">17 PCs and 1.2 granularity</text>
<g mask="url(#mc1)"><use href="#k55" fill="#D2A45C"/><use href="#k58" fill="#D6A256"/><use href="#k64" fill="#E8A06E"/><use href="#k67" fill="#7CCAD8"/><use href="#k68" fill="#B8A2DC"/></g>
<g mask="url(#mc2)"><use href="#k7" fill="#74B3E2"/><use href="#k23" fill="#BFA0E0"/><use href="#k24" fill="#C8A0DC"/><use href="#k56" fill="#8DBB6A"/><use href="#k57" fill="#74B3E2"/><use href="#k59" fill="#7ACDB2"/><use href="#k60" fill="#BFA0E0"/><use href="#k61" fill="#C8A0DC"/><use href="#k62" fill="#C8A0DC"/><use href="#k63" fill="#D693CC"/><use href="#k65" fill="#E8A06E"/><use href="#k66" fill="#BEAA58"/></g>
<g mask="url(#mc3)"><use href="#k29" fill="#7CCAD8"/><use href="#k30" fill="#78B2E2"/><use href="#k35" fill="#B8A2DC"/><use href="#k40" fill="#7CCDA0"/><use href="#k53" fill="#72BEE2"/></g>
<g filter="url(#rg)">
<use href="#k0" fill="#D2A45C"/>
<use href="#k1" fill="#CDA75E"/>
<use href="#k2" fill="#80C26C"/>
<use href="#k3" fill="#8FA6D9"/>
<use href="#k5" fill="#EA968B"/>
<use href="#k6" fill="#74B3E2"/>
<use href="#k8" fill="#74B3E2"/>
<use href="#k9" fill="#E691BC"/>
<use href="#k10" fill="#E691BC"/>
<use href="#k11" fill="#E691BC"/>
<use href="#k12" fill="#7DCDC4"/>
<use href="#k13" fill="#D6A256"/>
<use href="#k14" fill="#7ACDB2"/>
<use href="#k15" fill="#D693CC"/>
<use href="#k16" fill="#7CC47C"/>
<use href="#k17" fill="#84C466"/>
<use href="#k18" fill="#78CEBC"/>
<use href="#k19" fill="#7DB5E0"/>
<use href="#k20" fill="#D0A454"/>
<use href="#k21" fill="#D0A454"/>
<use href="#k22" fill="#BFA0E0"/>
<use href="#k25" fill="#6FB4E4"/>
<use href="#k26" fill="#6FB4E4"/>
<use href="#k27" fill="#D898C8"/>
<use href="#k28" fill="#7CCAD8"/>
<use href="#k31" fill="#78B2E2"/>
<use href="#k32" fill="#A9A8DF"/>
<use href="#k33" fill="#78B2E2"/>
<use href="#k34" fill="#B8A2DC"/>
<use href="#k36" fill="#CBA0DA"/>
<use href="#k37" fill="#7CCBCC"/>
<use href="#k38" fill="#7BAEE0"/>
<use href="#k39" fill="#ACB45E"/>
<use href="#k41" fill="#7FA3DE"/>
<use href="#k42" fill="#7FA3DE"/>
<use href="#k43" fill="#E691BC"/>
<use href="#k44" fill="#BEAA58"/>
<use href="#k45" fill="#7CCDA0"/>
<use href="#k46" fill="#E89C7E"/>
<use href="#k47" fill="#7CCDA0"/>
<use href="#k48" fill="#ABA4E0"/>
<use href="#k49" fill="#9EB764"/>
<use href="#k50" fill="#B6AE58"/>
<use href="#k51" fill="#E8A06E"/>
<use href="#k52" fill="#DC90C8"/>
<use href="#k54" fill="#B4AE58"/>
<use href="#k69" fill="#F090A0"/>
<use href="#k4" fill="#8DBB6A"/>
</g>
<path d="M768.6 972.9V1756.3H1299.5" stroke="#222" stroke-width="2.2" fill="none"/>
<line x1="762" y1="1039.3" x2="768.6" y2="1039.3" stroke="#222" stroke-width="2"/>
<text x="759.0" y="1046.9" font-size="21.3" text-anchor="end" fill="#3a3a3a">10</text>
<line x1="762" y1="1301.3" x2="768.6" y2="1301.3" stroke="#222" stroke-width="2"/>
<text x="759.0" y="1308.9" font-size="21.3" text-anchor="end" fill="#3a3a3a">0</text>
<line x1="762" y1="1563.3" x2="768.6" y2="1563.3" stroke="#222" stroke-width="2"/>
<text x="759.0" y="1570.9" font-size="21.3" text-anchor="end" fill="#3a3a3a">−10</text>
<line x1="825.7" y1="1756.3" x2="825.7" y2="1762.8" stroke="#222" stroke-width="2"/>
<text x="825.7" y="1784.6" font-size="21.3" text-anchor="middle" fill="#3a3a3a">−10</text>
<line x1="1005.0" y1="1756.3" x2="1005.0" y2="1762.8" stroke="#222" stroke-width="2"/>
<text x="1005.0" y="1784.6" font-size="21.3" text-anchor="middle" fill="#3a3a3a">0</text>
<line x1="1184.3" y1="1756.3" x2="1184.3" y2="1762.8" stroke="#222" stroke-width="2"/>
<text x="1184.3" y="1784.6" font-size="21.3" text-anchor="middle" fill="#3a3a3a">10</text>
<text x="1038.9" y="1816.8" font-size="34" font-weight="bold" text-anchor="middle" fill="#111" textLength="125.0" lengthAdjust="spacingAndGlyphs">UMAP 1</text>
<text x="735.2" y="1304.3" font-size="34" font-weight="bold" text-anchor="middle" fill="#111" textLength="125.0" lengthAdjust="spacingAndGlyphs" transform="rotate(-90 735.2 1304.3)">UMAP 2</text>
<text x="935.5" y="1026.8" font-size="18.5" text-anchor="middle" fill="#1c1c1c">29</text>
<text x="916.0" y="1054.6" font-size="18.5" text-anchor="middle" fill="#1c1c1c">14</text>
<text x="958.5" y="1072.0" font-size="18.5" text-anchor="middle" fill="#1c1c1c">6</text>
<text x="891.0" y="1094.3" font-size="18.5" text-anchor="middle" fill="#1c1c1c">4</text>
<text x="939.7" y="1127.7" font-size="18.5" text-anchor="middle" fill="#1c1c1c">12</text>
<text x="891.0" y="1182.6" font-size="18.5" text-anchor="middle" fill="#1c1c1c">0</text>
<text x="979.3" y="1193.1" font-size="18.5" text-anchor="middle" fill="#1c1c1c">23</text>
<text x="938.3" y="1264.0" font-size="18.5" text-anchor="middle" fill="#1c1c1c">3</text>
<text x="849.9" y="1259.8" font-size="18.5" text-anchor="middle" fill="#1c1c1c">19</text>
<text x="990.0" y="1084.5" font-size="18.5" text-anchor="middle" fill="#1c1c1c">40</text>
<text x="884.7" y="1292.1" font-size="18.5" text-anchor="middle" fill="#1c1c1c">41</text>
<text x="913.4" y="1349.7" font-size="18.5" text-anchor="middle" fill="#1c1c1c">37</text>
<text x="887.0" y="1382.4" font-size="18.5" text-anchor="middle" fill="#1c1c1c">15</text>
<text x="930.8" y="1446.1" font-size="18.5" text-anchor="middle" fill="#1c1c1c">13</text>
<text x="809.7" y="1399.9" font-size="18.5" text-anchor="middle" fill="#1c1c1c">18</text>
<text x="857.7" y="1425.6" font-size="18.5" text-anchor="middle" fill="#1c1c1c">33</text>
<text x="823.0" y="1440.5" font-size="18.5" text-anchor="middle" fill="#1c1c1c">26</text>
<text x="897.8" y="1448.6" font-size="18.5" text-anchor="middle" fill="#1c1c1c">35</text>
<text x="836.9" y="1486.5" font-size="18.5" text-anchor="middle" fill="#1c1c1c">5</text>
<text x="987.2" y="1311.4" font-size="18.5" text-anchor="middle" fill="#1c1c1c">17</text>
<text x="910.3" y="1575.2" font-size="18.5" text-anchor="middle" fill="#1c1c1c">36</text>
<text x="934.2" y="1581.6" font-size="18.5" text-anchor="middle" fill="#1c1c1c">25</text>
<text x="1018.9" y="1557.0" font-size="18.5" text-anchor="middle" fill="#1c1c1c">21</text>
<text x="1058.3" y="1564.6" font-size="18.5" text-anchor="middle" fill="#1c1c1c">30</text>
<text x="1003.0" y="1629.6" font-size="18.5" text-anchor="middle" fill="#1c1c1c">24</text>
<text x="982.9" y="1649.0" font-size="18.5" text-anchor="middle" fill="#1c1c1c">32</text>
<text x="967.0" y="1671.5" font-size="18.5" text-anchor="middle" fill="#1c1c1c">20</text>
<text x="1034.8" y="1700.8" font-size="18.5" text-anchor="middle" fill="#1c1c1c">27</text>
<text x="1001.3" y="1718.8" font-size="18.5" text-anchor="middle" fill="#1c1c1c">34</text>
<text x="1112.8" y="1096.7" font-size="18.5" text-anchor="middle" fill="#1c1c1c">10</text>
<text x="1084.5" y="1154.2" font-size="18.5" text-anchor="middle" fill="#1c1c1c">28</text>
<text x="1050.9" y="1192.4" font-size="18.5" text-anchor="middle" fill="#1c1c1c">39</text>
<text x="1188.9" y="1194.8" font-size="18.5" text-anchor="middle" fill="#1c1c1c">42</text>
<text x="1130.4" y="1221.2" font-size="18.5" text-anchor="middle" fill="#1c1c1c">16</text>
<text x="1163.8" y="1243.5" font-size="18.5" text-anchor="middle" fill="#1c1c1c">1</text>
<text x="1103.6" y="1266.2" font-size="18.5" text-anchor="middle" fill="#1c1c1c">7</text>
<text x="1120.0" y="1323.5" font-size="18.5" text-anchor="middle" fill="#1c1c1c">31</text>
<text x="1086.5" y="1352.7" font-size="18.5" text-anchor="middle" fill="#1c1c1c">11</text>
<text x="1221.4" y="1339.1" font-size="18.5" text-anchor="middle" fill="#1c1c1c">22</text>
<text x="1252.5" y="1360.1" font-size="18.5" text-anchor="middle" fill="#1c1c1c">9</text>
<text x="1153.2" y="1406.5" font-size="18.5" text-anchor="middle" fill="#1c1c1c">2</text>
<text x="1123.1" y="1450.8" font-size="18.5" text-anchor="middle" fill="#1c1c1c">8</text>
<text x="1153.2" y="1484.2" font-size="18.5" text-anchor="middle" fill="#1c1c1c">38</text>
</g>
<g id="panel-d">
<text x="1428.0" y="865.8" font-size="43">d</text>
<text x="1786.5" y="906.7" font-size="35.6" font-weight="bold" text-anchor="middle" textLength="627.5" lengthAdjust="spacingAndGlyphs">DoubletFinder: singlets and doublets</text>
<text x="1786.5" y="942.7" font-size="35.6" font-weight="bold" text-anchor="middle" textLength="393.0" lengthAdjust="spacingAndGlyphs">before doublet removal</text>
<text x="1786.5" y="978.7" font-size="35.6" font-weight="bold" text-anchor="middle" textLength="444.0" lengthAdjust="spacingAndGlyphs">17 PCs and 1.2 granularity</text>
<g transform="matrix(1.12828 0 0 0.99504 556.18 4.96)">
<g fill="url(#pd1)"><use href="#k40"/><use href="#k58"/><use href="#k65"/><use href="#k67"/><use href="#k68"/></g>
<g fill="url(#pd2)" stroke="url(#pd2)" stroke-width="2"><use href="#k7"/><use href="#k29"/><use href="#k30"/><use href="#k53"/><use href="#k55"/><use href="#k56"/><use href="#k57"/><use href="#k59"/><use href="#k60"/><use href="#k61"/><use href="#k62"/><use href="#k63"/><use href="#k64"/><use href="#k66"/></g>
</g>
<g filter="url(#rg)"><g transform="matrix(1.12828 0 0 0.99504 556.18 4.96)" fill="#111" stroke="#111" stroke-width="2.4" stroke-linejoin="round"><use href="#k0"/><use href="#k1"/><use href="#k2"/><use href="#k3"/><use href="#k4"/><use href="#k5"/><use href="#k6"/><use href="#k8"/><use href="#k9"/><use href="#k10"/><use href="#k11"/><use href="#k12"/><use href="#k13"/><use href="#k14"/><use href="#k15"/><use href="#k16"/><use href="#k17"/><use href="#k18"/><use href="#k19"/><use href="#k20"/><use href="#k21"/><use href="#k22"/><use href="#k23"/><use href="#k24"/><use href="#k25"/><use href="#k26"/><use href="#k27"/><use href="#k28"/><use href="#k31"/><use href="#k32"/><use href="#k33"/><use href="#k34"/><use href="#k35"/><use href="#k36"/><use href="#k37"/><use href="#k38"/><use href="#k39"/><use href="#k41"/><use href="#k42"/><use href="#k43"/><use href="#k44"/><use href="#k45"/><use href="#k46"/><use href="#k47"/><use href="#k48"/><use href="#k49"/><use href="#k50"/><use href="#k51"/><use href="#k52"/><use href="#k54"/><use href="#k69"/><use href="#k70"/></g></g>
<g id="doublets">
<path d="M1661.4 1051.5C1662.3 1052.7 1670.6 1059.1 1672.6 1061.2C1674.7 1063.3 1680.9 1070.2 1682.1 1072.3C1683.4 1074.3 1684.6 1080.8 1685.2 1081.7C1685.8 1082.5 1688.3 1081.8 1688.3 1080.7C1688.2 1079.6 1686.2 1072.8 1684.9 1070.6C1683.5 1068.4 1677.0 1061.1 1674.9 1058.9C1672.8 1056.8 1664.8 1049.8 1663.4 1049.1C1662.1 1048.4 1660.4 1050.3 1661.4 1051.5Z" fill="#F2CD6B"/>
<path d="M1527.7 1103.9C1529.0 1100.6 1532.3 1106.1 1532.5 1110.4C1532.8 1114.7 1530.6 1126.6 1529.3 1129.9C1527.9 1133.1 1524.7 1134.2 1524.4 1129.9C1524.1 1125.5 1526.3 1107.1 1527.7 1103.9Z" fill="url(#py2)"/>
<path d="M1495.2 1198.1C1496.8 1194.5 1503.3 1187.2 1508.2 1183.4C1513.1 1179.7 1519.5 1177.5 1524.4 1175.3C1529.3 1173.2 1536.3 1169.9 1537.4 1170.5C1538.5 1171.0 1534.2 1175.6 1530.9 1178.6C1527.7 1181.5 1522.3 1184.8 1517.9 1188.3C1513.6 1191.8 1508.2 1197.0 1504.9 1199.7C1501.7 1202.4 1500.1 1204.8 1498.4 1204.5C1496.8 1204.3 1493.6 1201.6 1495.2 1198.1Z" fill="url(#py2)"/>
<path d="M1500.1 1215.9C1502.5 1214.6 1507.4 1216.7 1511.4 1219.2C1515.5 1221.6 1521.7 1226.5 1524.4 1230.5C1527.1 1234.6 1528.2 1238.6 1527.7 1243.5C1527.1 1248.4 1523.1 1254.3 1521.2 1259.7C1519.3 1265.2 1518.2 1271.6 1516.3 1276.0C1514.4 1280.3 1511.7 1285.7 1509.8 1285.7C1507.9 1285.7 1506.3 1280.3 1504.9 1276.0C1503.6 1271.6 1502.5 1265.2 1501.7 1259.7C1500.9 1254.3 1500.9 1248.9 1500.1 1243.5C1499.3 1238.1 1496.8 1231.9 1496.8 1227.3C1496.8 1222.7 1497.6 1217.3 1500.1 1215.9Z" fill="url(#py2)"/>
<path d="M1621.8 1279.2C1623.7 1277.3 1632.6 1278.7 1634.8 1280.8C1637.0 1283.0 1636.7 1290.3 1634.8 1292.2C1632.9 1294.1 1625.6 1294.4 1623.4 1292.2C1621.3 1290.0 1619.9 1281.1 1621.8 1279.2Z" fill="url(#py1)"/>
<path d="M1623.4 1323.1C1624.5 1322.2 1627.8 1324.4 1628.3 1326.3C1628.9 1328.2 1627.8 1333.6 1626.7 1334.4C1625.6 1335.2 1622.4 1333.1 1621.8 1331.2C1621.3 1329.3 1622.4 1323.9 1623.4 1323.1Z" fill="#F2CD6B"/>
<path d="M1592.6 1326.3C1595.6 1325.2 1601.3 1327.9 1600.7 1331.2C1600.2 1334.4 1592.3 1342.6 1589.4 1345.8C1586.4 1348.9 1585.0 1349.3 1582.9 1350.0C1580.7 1350.7 1576.4 1352.1 1576.4 1350.0C1576.4 1347.9 1580.2 1341.6 1582.9 1337.7C1585.6 1333.7 1589.6 1327.4 1592.6 1326.3Z" fill="#F2CD6B"/>
<path d="M1673.8 1305.2C1675.1 1302.8 1681.9 1304.1 1683.5 1306.8C1685.1 1309.5 1684.9 1319.0 1683.5 1321.4C1682.2 1323.9 1677.0 1324.1 1675.4 1321.4C1673.8 1318.7 1672.4 1307.6 1673.8 1305.2Z" fill="url(#py1)"/>
<path d="M1618.6 1103.9C1621.0 1102.5 1632.1 1103.9 1634.8 1105.5C1637.5 1107.1 1637.2 1112.3 1634.8 1113.6C1632.4 1115.0 1622.9 1115.3 1620.2 1113.6C1617.5 1112.0 1616.1 1105.2 1618.6 1103.9Z" fill="url(#py1)"/>
<path d="M1595.8 1330.0C1595.0 1331.6 1588.8 1336.2 1586.1 1339.7C1583.4 1343.3 1581.2 1349.8 1579.6 1351.1C1578.0 1352.5 1575.8 1350.3 1576.4 1347.9C1576.9 1345.4 1580.4 1339.5 1582.9 1336.5C1585.3 1333.5 1588.8 1331.1 1591.0 1330.0C1593.1 1328.9 1596.7 1328.4 1595.8 1330.0Z" fill="#F2CD6B"/>
<path d="M1472.5 1378.7C1474.6 1375.2 1485.7 1374.4 1488.7 1377.1C1491.7 1379.8 1492.5 1391.4 1490.3 1394.9C1488.2 1398.5 1478.7 1400.9 1475.7 1398.2C1472.7 1395.5 1470.3 1382.2 1472.5 1378.7Z" fill="url(#py1)"/>
<path d="M1488.7 1435.5C1491.7 1429.6 1502.8 1432.5 1509.8 1433.9C1516.8 1435.2 1527.9 1437.7 1530.9 1443.6C1533.9 1449.6 1530.9 1464.2 1527.7 1469.6C1524.4 1475.0 1517.4 1476.1 1511.4 1476.1C1505.5 1476.1 1495.7 1476.4 1491.9 1469.6C1488.2 1462.8 1485.7 1441.5 1488.7 1435.5Z" fill="url(#py1)"/>
<path d="M1550.4 1349.5C1552.3 1344.3 1561.5 1345.4 1563.4 1351.1C1565.3 1356.8 1563.6 1378.4 1561.8 1383.6C1559.9 1388.7 1553.9 1387.6 1552.0 1381.9C1550.1 1376.3 1548.5 1354.6 1550.4 1349.5Z" fill="url(#py1)"/>
<path d="M1579.6 1464.7C1581.2 1462.8 1588.0 1463.9 1589.4 1466.4C1590.7 1468.8 1589.4 1477.5 1587.7 1479.4C1586.1 1481.2 1581.0 1480.2 1579.6 1477.7C1578.3 1475.3 1578.0 1466.6 1579.6 1464.7Z" fill="url(#py1)"/>
<path d="M1579.9 1540.1C1579.9 1540.7 1581.9 1543.8 1582.2 1544.8C1582.6 1545.7 1582.6 1549.0 1583.0 1549.4C1583.4 1549.8 1585.8 1549.5 1586.0 1548.9C1586.2 1548.4 1585.4 1544.8 1585.1 1543.8C1584.8 1542.8 1583.1 1539.1 1582.6 1538.7C1582.1 1538.4 1579.9 1539.5 1579.9 1540.1Z" fill="#F2CD6B"/>
<path d="M1579.6 1565.4C1579.1 1563.0 1582.3 1563.0 1586.1 1563.8C1589.9 1564.6 1597.5 1570.8 1602.3 1570.3C1607.2 1569.7 1612.6 1561.6 1615.3 1560.5C1618.0 1559.4 1619.7 1561.6 1618.6 1563.8C1617.5 1565.9 1612.1 1570.8 1608.8 1573.5C1605.6 1576.2 1602.3 1579.2 1599.1 1580.0C1595.8 1580.8 1592.6 1580.8 1589.4 1578.4C1586.1 1575.9 1580.2 1567.8 1579.6 1565.4Z" fill="url(#py2)"/>
<path d="M1741.4 1535.5C1742.5 1535.2 1748.4 1539.8 1751.1 1542.0C1753.8 1544.1 1756.2 1546.3 1757.5 1548.4C1758.9 1550.6 1759.7 1551.6 1759.1 1554.9C1758.6 1558.1 1756.2 1564.3 1754.3 1567.8C1752.4 1571.3 1749.7 1575.3 1747.8 1575.9C1746.0 1576.4 1743.0 1573.4 1743.0 1571.0C1743.0 1568.6 1746.8 1564.6 1747.8 1561.3C1748.9 1558.1 1750.0 1554.6 1749.5 1551.6C1748.9 1548.7 1746.0 1546.3 1744.6 1543.6C1743.3 1540.9 1740.3 1535.8 1741.4 1535.5Z" fill="url(#py2)"/>
<path d="M1657.5 1622.7C1658.8 1621.0 1665.0 1623.2 1667.1 1625.9C1669.3 1628.6 1670.4 1633.9 1670.4 1638.8C1670.4 1643.6 1668.8 1650.1 1667.1 1654.9C1665.5 1659.8 1662.6 1664.1 1660.7 1667.8C1658.8 1671.6 1658.0 1676.4 1655.9 1677.5C1653.7 1678.6 1648.6 1677.0 1647.8 1674.3C1647.0 1671.6 1649.7 1665.7 1651.0 1661.4C1652.4 1657.1 1654.5 1652.8 1655.9 1648.5C1657.2 1644.2 1658.8 1639.9 1659.1 1635.6C1659.3 1631.3 1656.1 1624.3 1657.5 1622.7Z" fill="url(#py2)"/>
<path d="M1683.3 1613.0C1684.4 1610.8 1691.4 1613.5 1693.0 1616.2C1694.6 1618.9 1694.0 1627.0 1693.0 1629.1C1691.9 1631.3 1688.1 1631.8 1686.5 1629.1C1684.9 1626.4 1682.2 1615.1 1683.3 1613.0Z" fill="url(#py2)"/>
<path d="M1699.4 1633.9C1700.1 1632.9 1702.9 1633.1 1704.3 1635.6C1705.6 1638.0 1707.2 1645.2 1707.5 1648.5C1707.8 1651.7 1707.0 1654.4 1705.9 1654.9C1704.8 1655.5 1702.0 1653.9 1701.0 1651.7C1700.1 1649.5 1700.5 1645.0 1700.2 1642.0C1700.0 1639.1 1698.8 1635.0 1699.4 1633.9Z" fill="url(#py2)"/>
<path d="M1636.5 1658.2C1638.9 1657.1 1648.0 1659.8 1652.6 1661.4C1657.2 1663.0 1662.6 1664.6 1663.9 1667.8C1665.3 1671.1 1663.4 1679.1 1660.7 1680.7C1658.0 1682.4 1651.5 1679.7 1647.8 1677.5C1644.0 1675.4 1640.0 1671.1 1638.1 1667.8C1636.2 1664.6 1634.1 1659.2 1636.5 1658.2Z" fill="url(#py1)"/>
<path d="M1684.1 1679.1C1685.3 1677.5 1687.0 1677.8 1688.1 1680.7C1689.3 1683.7 1690.5 1691.0 1691.0 1696.9C1691.6 1702.8 1692.1 1713.3 1691.4 1716.3C1690.6 1719.2 1687.6 1717.1 1686.5 1714.6C1685.4 1712.2 1685.8 1705.8 1684.9 1701.7C1684.0 1697.7 1681.0 1694.2 1680.9 1690.4C1680.7 1686.7 1682.9 1680.7 1684.1 1679.1Z" fill="url(#py2)"/>
<path d="M1672.0 1664.6C1673.6 1662.7 1681.4 1664.1 1683.3 1666.2C1685.2 1668.4 1684.9 1675.6 1683.3 1677.5C1681.7 1679.4 1675.5 1679.7 1673.6 1677.5C1671.7 1675.4 1670.4 1666.5 1672.0 1664.6Z" fill="url(#py1)"/>
<path d="M1722.0 1677.5C1724.4 1677.4 1727.5 1678.3 1729.3 1680.7C1731.0 1683.2 1732.4 1688.5 1732.5 1692.0C1732.6 1695.5 1731.8 1699.3 1730.1 1701.7C1728.3 1704.1 1724.6 1706.4 1722.0 1706.6C1719.5 1706.7 1716.5 1705.0 1714.8 1702.5C1713.0 1700.1 1711.5 1695.5 1711.5 1692.0C1711.5 1688.5 1713.0 1684.0 1714.8 1681.6C1716.5 1679.1 1719.6 1677.7 1722.0 1677.5Z" fill="#F2CD6B"/>
<path d="M1783.3 1095.8C1783.9 1094.4 1787.1 1095.8 1788.2 1097.4C1789.3 1099.0 1790.3 1104.2 1789.8 1105.5C1789.3 1106.9 1786.0 1107.1 1784.9 1105.5C1783.9 1103.9 1782.8 1097.1 1783.3 1095.8Z" fill="url(#py2)"/>
<path d="M1794.7 1118.5C1795.2 1117.4 1798.7 1118.5 1799.5 1120.1C1800.4 1121.8 1800.1 1127.2 1799.5 1128.2C1799.0 1129.3 1797.1 1128.2 1796.3 1126.6C1795.5 1125.0 1794.1 1119.6 1794.7 1118.5Z" fill="url(#py2)"/>
<path d="M1746.7 1152.3C1748.0 1151.9 1755.8 1146.7 1757.9 1145.9C1760.0 1145.0 1766.6 1144.0 1767.4 1143.5C1768.3 1143.0 1767.8 1140.6 1766.7 1140.6C1765.6 1140.6 1758.9 1142.2 1756.8 1143.1C1754.6 1144.0 1746.2 1148.8 1745.2 1149.7C1744.2 1150.6 1745.4 1152.7 1746.7 1152.3Z" fill="#F2CD6B"/>
<path d="M1739.5 1178.6C1739.5 1177.8 1743.5 1176.4 1744.4 1176.9C1745.2 1177.5 1745.2 1181.5 1744.4 1181.8C1743.5 1182.1 1739.5 1179.4 1739.5 1178.6Z" fill="url(#py2)"/>
<path d="M1833.6 1459.7C1834.7 1457.5 1840.7 1457.5 1843.4 1458.1C1846.1 1458.6 1847.7 1461.0 1849.9 1462.9C1852.0 1464.8 1856.4 1467.8 1856.4 1469.4C1856.4 1471.0 1853.1 1472.4 1849.9 1472.7C1846.6 1472.9 1839.6 1473.2 1836.9 1471.0C1834.2 1468.9 1832.6 1461.8 1833.6 1459.7Z" fill="url(#py2)"/>
</g>
<path d="M1423.4 972.9V1753.9H2025" stroke="#222" stroke-width="2.2" fill="none"/>
<line x1="1417" y1="1039.1" x2="1423.4" y2="1039.1" stroke="#222" stroke-width="2"/>
<text x="1412.5" y="1046.7" font-size="21.3" text-anchor="end" fill="#3a3a3a">10</text>
<line x1="1417" y1="1299.8" x2="1423.4" y2="1299.8" stroke="#222" stroke-width="2"/>
<text x="1412.5" y="1307.4" font-size="21.3" text-anchor="end" fill="#3a3a3a">0</text>
<line x1="1417" y1="1560.5" x2="1423.4" y2="1560.5" stroke="#222" stroke-width="2"/>
<text x="1412.5" y="1568.1" font-size="21.3" text-anchor="end" fill="#3a3a3a">−10</text>
<line x1="1487.8" y1="1753.9" x2="1487.8" y2="1760.4" stroke="#222" stroke-width="2"/>
<text x="1487.8" y="1781.3" font-size="21.3" text-anchor="middle" fill="#3a3a3a">−10</text>
<line x1="1690.1" y1="1753.9" x2="1690.1" y2="1760.4" stroke="#222" stroke-width="2"/>
<text x="1690.1" y="1781.3" font-size="21.3" text-anchor="middle" fill="#3a3a3a">0</text>
<line x1="1892.4" y1="1753.9" x2="1892.4" y2="1760.4" stroke="#222" stroke-width="2"/>
<text x="1892.4" y="1781.3" font-size="21.3" text-anchor="middle" fill="#3a3a3a">10</text>
<text x="1722.8" y="1816.8" font-size="34" font-weight="bold" text-anchor="middle" fill="#111" textLength="121.0" lengthAdjust="spacingAndGlyphs">UMAP 1</text>
<text x="1384.1" y="1304.3" font-size="34" font-weight="bold" text-anchor="middle" fill="#111" textLength="125.0" lengthAdjust="spacingAndGlyphs" transform="rotate(-90 1384.1 1304.3)">UMAP 2</text>
<circle cx="1838.6" cy="1619.8" r="12.1" fill="#F5CF66"/>
<text x="1859.6" y="1631.6" font-size="33" font-weight="bold" fill="#111" textLength="142.5" lengthAdjust="spacingAndGlyphs">Doublets</text>
<text x="1860.4" y="1654.7" font-size="26.5" font-weight="bold" fill="#111" textLength="114.0" lengthAdjust="spacingAndGlyphs">n = 1,278</text>
<circle cx="1839.8" cy="1689.8" r="12.1" fill="#111"/>
<text x="1861.4" y="1701.0" font-size="33" font-weight="bold" fill="#111" textLength="130.5" lengthAdjust="spacingAndGlyphs">Singlets</text>
</g>
<g id="panel-e">
<text x="-1.5" y="1906.0" font-size="43">e</text>
<path d="M60.3 2562.2V1977" stroke="#333" stroke-width="3.6" fill="none"/>
<path d="M60.3 1963.5L68.2 1982L60.3 1978.5L52.4 1982Z" fill="#333"/>
<path d="M58.5 2560.4H2072" stroke="#333" stroke-width="3.6" fill="none"/>
<path d="M2086 2560.4L2067.5 2568.3L2071 2560.4L2067.5 2552.5Z" fill="#333"/>
<text x="47.2" y="2248.0" font-size="36.6" font-weight="bold" text-anchor="middle" fill="#333" textLength="133.0" lengthAdjust="spacingAndGlyphs" transform="rotate(-90 47.2 2248.0)">UMAP 2</text>
<text x="1084.1" y="2604.4" font-size="36.6" font-weight="bold" text-anchor="middle" fill="#333" textLength="130.0" lengthAdjust="spacingAndGlyphs">UMAP 1</text>
<defs><linearGradient id="cb" x1="0" y1="0" x2="0" y2="1"><stop offset="0" stop-color="#4373B9"/><stop offset="0.10" stop-color="#4C70B8"/><stop offset="0.3" stop-color="#6C72BE"/><stop offset="0.45" stop-color="#8480C8"/><stop offset="0.62" stop-color="#A9A2D8"/><stop offset="0.78" stop-color="#C7C4E6"/><stop offset="0.92" stop-color="#D5D5E0"/><stop offset="1" stop-color="#D9D9DC"/></linearGradient></defs>
<defs><g id="sile"><use href="#k0"/><use href="#k1"/><use href="#k2"/><use href="#k3"/><use href="#k4"/><use href="#k5"/><use href="#k6"/><use href="#k7"/><use href="#k8"/><use href="#k9"/><use href="#k10"/><use href="#k11"/><use href="#k12"/><use href="#k13"/><use href="#k14"/><use href="#k15"/><use href="#k16"/><use href="#k17"/><use href="#k18"/><use href="#k19"/><use href="#k20"/><use href="#k21"/><use href="#k22"/><use href="#k23"/><use href="#k24"/><use href="#k25"/><use href="#k26"/><use href="#k27"/><use href="#k28"/><use href="#k29" opacity="0.94"/><use href="#k30" opacity="0.94"/><use href="#k31"/><use href="#k32"/><use href="#k33"/><use href="#k34"/><use href="#k35"/><use href="#k36"/><use href="#k37"/><use href="#k38"/><use href="#k39"/><use href="#k40" opacity="0.75"/><use href="#k41"/><use href="#k42"/><use href="#k43"/><use href="#k44"/><use href="#k45"/><use href="#k46"/><use href="#k47"/><use href="#k48"/><use href="#k49"/><use href="#k50"/><use href="#k51"/><use href="#k52"/><use href="#k53"/><use href="#k54"/><use href="#k55" opacity="0.88"/><use href="#k56"/><use href="#k57" opacity="0.90"/><use href="#k58" opacity="0.70"/><use href="#k59" opacity="0.90"/><use href="#k60" opacity="0.80"/><use href="#k61" opacity="0.90"/><use href="#k62"/><use href="#k63"/><use href="#k64" opacity="0.88"/><use href="#k65" opacity="0.62"/><use href="#k66" opacity="0.80"/><use href="#k67" opacity="0.50"/><use href="#k68" opacity="0.56"/><use href="#k69"/><use href="#k70"/></g></defs>
<g id="fp-INS">
<g transform="matrix(0.45371 0 0 0.19905 -235.78 1827.08)">
<use href="#sile" fill="#D8D9DF" stroke="#D8D9DF" stroke-width="3.4" stroke-linejoin="round"/>
<g fill="#CDCCE6" stroke="#CDCCE6" stroke-width="2.4" stroke-linejoin="round" opacity="0.9"><use href="#k0"/><use href="#k1"/><use href="#k2"/><use href="#k3"/><use href="#k4"/><use href="#k5"/><use href="#k6"/><use href="#k7"/><use href="#k8"/><use href="#k12"/><use href="#k13"/><use href="#k14"/><use href="#k16"/><use href="#k17"/><use href="#k18"/><use href="#k19"/><use href="#k20"/><use href="#k21"/><use href="#k22"/><use href="#k23"/><use href="#k24"/><use href="#k25"/><use href="#k26"/><use href="#k28"/><use href="#k29"/><use href="#k30"/><use href="#k31"/><use href="#k33"/><use href="#k34"/><use href="#k35"/><use href="#k36"/><use href="#k37"/><use href="#k38"/><use href="#k55"/><use href="#k56"/><use href="#k57"/><use href="#k58"/><use href="#k59"/><use href="#k60"/><use href="#k61"/><use href="#k62"/><use href="#k67"/><use href="#k68"/></g>
<g fill="#BDBBE2" stroke="#BDBBE2" stroke-width="2.4" stroke-linejoin="round" opacity="1"><use href="#k39"/><use href="#k41"/><use href="#k42"/></g>
<g fill="#A5A2D8" stroke="#A5A2D8" stroke-width="2.4" stroke-linejoin="round" opacity="0.85"><use href="#k44"/><use href="#k45"/><use href="#k46"/><use href="#k47"/><use href="#k48"/></g>
<g fill="#8E8ACE" opacity="0.75"><use href="#k64"/></g>
<path d="M1102.9 1352.4C1107.1 1349.6 1122.4 1347.3 1133.5 1346.8C1144.6 1346.3 1163.4 1345.9 1169.7 1349.6C1175.9 1353.3 1173.8 1364.4 1171.1 1369.1C1168.3 1373.7 1159.2 1376.5 1153.0 1377.4C1146.7 1378.3 1140.4 1375.5 1133.5 1374.6C1126.5 1373.7 1115.4 1373.7 1111.2 1371.8C1107.1 1370.0 1109.8 1366.7 1108.4 1363.5C1107.1 1360.2 1098.7 1355.1 1102.9 1352.4Z" fill="#5C6EBA" opacity="0.85"/>
<g fill="#7478C2" stroke="#7478C2" stroke-width="2.4" stroke-linejoin="round" opacity="0.85"><use href="#k49"/></g>
<g fill="#5C6EBA" stroke="#5C6EBA" stroke-width="2.4" stroke-linejoin="round" opacity="1"><use href="#k50"/><use href="#k51"/><use href="#k54"/></g>
<g fill="#7478C2" stroke="#7478C2" stroke-width="2.4" stroke-linejoin="round" opacity="0.9"><use href="#k53"/></g>
<g fill="#5C6EBA" stroke="#5C6EBA" stroke-width="2.4" stroke-linejoin="round" opacity="1"><use href="#k9"/><use href="#k10"/></g>
</g>
<path d="M111.5 2015.3V2183.2H363.0" stroke="#111" stroke-width="2" fill="none"/>
<line x1="106.0" y1="2034.1" x2="111.5" y2="2034.1" stroke="#111" stroke-width="1.8"/>
<text x="100.2" y="2041.4" font-size="21" text-anchor="end" fill="#2b2b2b">10</text>
<line x1="106.0" y1="2086.1" x2="111.5" y2="2086.1" stroke="#111" stroke-width="1.8"/>
<text x="100.2" y="2093.4" font-size="21" text-anchor="end" fill="#2b2b2b">0</text>
<line x1="106.0" y1="2138.4" x2="111.5" y2="2138.4" stroke="#111" stroke-width="1.8"/>
<text x="100.2" y="2145.7" font-size="21" text-anchor="end" fill="#2b2b2b">−10</text>
<line x1="138.9" y1="2183.2" x2="138.9" y2="2188.7" stroke="#111" stroke-width="1.8"/>
<text x="138.9" y="2210.2" font-size="21" text-anchor="middle" fill="#2b2b2b">−10</text>
<line x1="220.2" y1="2183.2" x2="220.2" y2="2188.7" stroke="#111" stroke-width="1.8"/>
<text x="220.2" y="2210.2" font-size="21" text-anchor="middle" fill="#2b2b2b">0</text>
<line x1="301.6" y1="2183.2" x2="301.6" y2="2188.7" stroke="#111" stroke-width="1.8"/>
<text x="301.6" y="2210.2" font-size="21" text-anchor="middle" fill="#2b2b2b">10</text>
<rect x="386.8" y="2037.4" width="27.4" height="136.4" fill="url(#cb)"/>
<path d="M386.8 2063.1h5.5M408.7 2063.1h5.5" stroke="#fff" stroke-width="1" opacity="0.8"/>
<text x="427.4" y="2070.4" font-size="21" fill="#2b2b2b">7.5</text>
<path d="M386.8 2099.9h5.5M408.7 2099.9h5.5" stroke="#fff" stroke-width="1" opacity="0.8"/>
<text x="427.4" y="2107.2" font-size="21" fill="#2b2b2b">5.0</text>
<path d="M386.8 2135.9h5.5M408.7 2135.9h5.5" stroke="#fff" stroke-width="1" opacity="0.8"/>
<text x="427.4" y="2143.2" font-size="21" fill="#2b2b2b">2.5</text>
<path d="M386.8 2171.0h5.5M408.7 2171.0h5.5" stroke="#fff" stroke-width="1" opacity="0.8"/>
<text x="427.4" y="2178.3" font-size="21" fill="#2b2b2b">0.0</text>
<text x="237.1" y="1996.7" font-size="28.5" font-weight="bold" text-anchor="middle" fill="#111">INS</text>
</g>
<g id="fp-SST">
<g transform="matrix(0.45455 0 0 0.19847 163.88 1828.33)">
<use href="#sile" fill="#D8D9DF" stroke="#D8D9DF" stroke-width="3.4" stroke-linejoin="round"/>
<g fill="#CDCCE6" stroke="#CDCCE6" stroke-width="2.4" stroke-linejoin="round" opacity="0.8"><use href="#k13"/><use href="#k14"/><use href="#k16"/><use href="#k17"/><use href="#k39"/><use href="#k41"/><use href="#k42"/></g>
<g fill="#A5A2D8" stroke="#A5A2D8" stroke-width="2.4" stroke-linejoin="round" opacity="0.8"><use href="#k54"/></g>
<g fill="#7478C2" stroke="#7478C2" stroke-width="2.4" stroke-linejoin="round" opacity="0.95"><use href="#k53"/></g>
<path d="M1058.3 1344.0C1060.7 1339.1 1069.9 1330.1 1077.8 1325.9C1085.7 1321.7 1096.4 1321.0 1105.7 1319.0C1114.9 1316.9 1124.2 1315.3 1133.5 1313.4C1142.8 1311.5 1154.4 1306.4 1161.3 1307.8C1168.3 1309.2 1172.4 1312.5 1175.2 1321.7C1178.0 1331.0 1178.0 1351.9 1178.0 1363.5C1178.0 1375.1 1178.9 1384.4 1175.2 1391.3C1171.5 1398.3 1163.6 1403.8 1155.8 1405.2C1147.9 1406.6 1136.7 1402.9 1127.9 1399.7C1119.1 1396.4 1111.2 1390.9 1102.9 1385.8C1094.5 1380.6 1084.3 1374.2 1077.8 1369.1C1071.3 1364.0 1067.2 1359.3 1063.9 1355.1C1060.7 1351.0 1056.0 1348.9 1058.3 1344.0Z" fill="#A5A2D8" opacity="0.45"/>
<path d="M1058.3 1345.4C1060.7 1343.1 1069.9 1341.0 1077.8 1341.2C1085.7 1341.5 1096.4 1344.9 1105.7 1346.8C1114.9 1348.6 1123.7 1351.9 1133.5 1352.4C1143.2 1352.8 1157.1 1347.7 1164.1 1349.6C1171.1 1351.4 1173.4 1357.0 1175.2 1363.5C1177.1 1370.0 1178.5 1382.5 1175.2 1388.5C1172.0 1394.6 1163.6 1399.2 1155.8 1399.7C1147.9 1400.1 1136.7 1394.6 1127.9 1391.3C1119.1 1388.1 1111.2 1384.4 1102.9 1380.2C1094.5 1376.0 1084.3 1370.4 1077.8 1366.3C1071.3 1362.1 1067.2 1358.6 1063.9 1355.1C1060.7 1351.7 1056.0 1347.7 1058.3 1345.4Z" fill="#7478C2" opacity="0.6"/>
</g>
<path d="M511.9 2015.3V2183.7H763.7" stroke="#111" stroke-width="2" fill="none"/>
<line x1="506.4" y1="2034.9" x2="511.9" y2="2034.9" stroke="#111" stroke-width="1.8"/>
<text x="500.6" y="2042.2" font-size="21" text-anchor="end" fill="#2b2b2b">10</text>
<line x1="506.4" y1="2086.6" x2="511.9" y2="2086.6" stroke="#111" stroke-width="1.8"/>
<text x="500.6" y="2093.9" font-size="21" text-anchor="end" fill="#2b2b2b">0</text>
<line x1="506.4" y1="2138.9" x2="511.9" y2="2138.9" stroke="#111" stroke-width="1.8"/>
<text x="500.6" y="2146.2" font-size="21" text-anchor="end" fill="#2b2b2b">−10</text>
<line x1="539.3" y1="2183.7" x2="539.3" y2="2189.2" stroke="#111" stroke-width="1.8"/>
<text x="539.3" y="2210.7" font-size="21" text-anchor="middle" fill="#2b2b2b">−10</text>
<line x1="620.7" y1="2183.7" x2="620.7" y2="2189.2" stroke="#111" stroke-width="1.8"/>
<text x="620.7" y="2210.7" font-size="21" text-anchor="middle" fill="#2b2b2b">0</text>
<line x1="702.3" y1="2183.7" x2="702.3" y2="2189.2" stroke="#111" stroke-width="1.8"/>
<text x="702.3" y="2210.7" font-size="21" text-anchor="middle" fill="#2b2b2b">10</text>
<rect x="787.8" y="2037.4" width="27.6" height="136.9" fill="url(#cb)"/>
<path d="M787.8 2054.8h5.5M809.9 2054.8h5.5" stroke="#fff" stroke-width="1" opacity="0.8"/>
<text x="827.3" y="2062.1" font-size="21" fill="#2b2b2b">8</text>
<path d="M787.8 2084.4h5.5M809.9 2084.4h5.5" stroke="#fff" stroke-width="1" opacity="0.8"/>
<text x="827.3" y="2091.7" font-size="21" fill="#2b2b2b">6</text>
<path d="M787.8 2113.7h5.5M809.9 2113.7h5.5" stroke="#fff" stroke-width="1" opacity="0.8"/>
<text x="827.3" y="2121.0" font-size="21" fill="#2b2b2b">4</text>
<path d="M787.8 2142.8h5.5M809.9 2142.8h5.5" stroke="#fff" stroke-width="1" opacity="0.8"/>
<text x="827.3" y="2150.1" font-size="21" fill="#2b2b2b">2</text>
<path d="M787.8 2171.6h5.5M809.9 2171.6h5.5" stroke="#fff" stroke-width="1" opacity="0.8"/>
<text x="827.3" y="2178.9" font-size="21" fill="#2b2b2b">0</text>
<text x="637.5" y="1997.3" font-size="28.5" font-weight="bold" text-anchor="middle" fill="#111">SST</text>
</g>
<g id="fp-GHRL">
<g transform="matrix(0.44674 0 0 0.19847 590.33 1828.33)">
<use href="#sile" fill="#D8D9DF" stroke="#D8D9DF" stroke-width="3.4" stroke-linejoin="round"/>
</g>
<path d="M932.8 2015.3V2183.7H1181.5" stroke="#111" stroke-width="2" fill="none"/>
<line x1="927.3" y1="2034.9" x2="932.8" y2="2034.9" stroke="#111" stroke-width="1.8"/>
<text x="921.5" y="2042.2" font-size="21" text-anchor="end" fill="#2b2b2b">10</text>
<line x1="927.3" y1="2086.6" x2="932.8" y2="2086.6" stroke="#111" stroke-width="1.8"/>
<text x="921.5" y="2093.9" font-size="21" text-anchor="end" fill="#2b2b2b">0</text>
<line x1="927.3" y1="2138.9" x2="932.8" y2="2138.9" stroke="#111" stroke-width="1.8"/>
<text x="921.5" y="2146.2" font-size="21" text-anchor="end" fill="#2b2b2b">−10</text>
<line x1="960.1" y1="2183.7" x2="960.1" y2="2189.2" stroke="#111" stroke-width="1.8"/>
<text x="960.1" y="2210.7" font-size="21" text-anchor="middle" fill="#2b2b2b">−10</text>
<line x1="1039.3" y1="2183.7" x2="1039.3" y2="2189.2" stroke="#111" stroke-width="1.8"/>
<text x="1039.3" y="2210.7" font-size="21" text-anchor="middle" fill="#2b2b2b">0</text>
<line x1="1120.3" y1="2183.7" x2="1120.3" y2="2189.2" stroke="#111" stroke-width="1.8"/>
<text x="1120.3" y="2210.7" font-size="21" text-anchor="middle" fill="#2b2b2b">10</text>
<rect x="1205.8" y="2037.4" width="27.7" height="136.9" fill="url(#cb)"/>
<path d="M1205.8 2046.0h5.5M1228.0 2046.0h5.5" stroke="#fff" stroke-width="1" opacity="0.8"/>
<text x="1246.0" y="2053.3" font-size="21" fill="#2b2b2b">8</text>
<path d="M1205.8 2077.5h5.5M1228.0 2077.5h5.5" stroke="#fff" stroke-width="1" opacity="0.8"/>
<text x="1246.0" y="2084.8" font-size="21" fill="#2b2b2b">6</text>
<path d="M1205.8 2108.8h5.5M1228.0 2108.8h5.5" stroke="#fff" stroke-width="1" opacity="0.8"/>
<text x="1246.0" y="2116.1" font-size="21" fill="#2b2b2b">4</text>
<path d="M1205.8 2140.3h5.5M1228.0 2140.3h5.5" stroke="#fff" stroke-width="1" opacity="0.8"/>
<text x="1246.0" y="2147.6" font-size="21" fill="#2b2b2b">2</text>
<path d="M1205.8 2171.6h5.5M1228.0 2171.6h5.5" stroke="#fff" stroke-width="1" opacity="0.8"/>
<text x="1246.0" y="2178.9" font-size="21" fill="#2b2b2b">0</text>
<text x="1055.6" y="1997.3" font-size="28.5" font-weight="bold" text-anchor="middle" fill="#111">GHRL</text>
</g>
<g id="fp-KRT19">
<g transform="matrix(0.46682 0 0 0.20057 981.75 1822.59)">
<use href="#sile" fill="#D8D9DF" stroke="#D8D9DF" stroke-width="3.4" stroke-linejoin="round"/>
<g fill="#BDBBE2" stroke="#BDBBE2" stroke-width="2.4" stroke-linejoin="round" opacity="0.9"><use href="#k12"/></g>
<g fill="#BDBBE2" stroke="#BDBBE2" stroke-width="2.4" stroke-linejoin="round" opacity="0.7"><use href="#k14"/></g>
<g fill="#A5A2D8" stroke="#A5A2D8" stroke-width="2.4" stroke-linejoin="round" opacity="0.8"><use href="#k18"/><use href="#k22"/><use href="#k23"/><use href="#k24"/><use href="#k60"/><use href="#k61"/><use href="#k62"/></g>
<g fill="#A5A2D8" stroke="#A5A2D8" stroke-width="2.4" stroke-linejoin="round" opacity="0.95"><use href="#k18"/><use href="#k19"/><use href="#k20"/><use href="#k21"/><use href="#k22"/></g>
<g fill="#8E8ACE" stroke="#8E8ACE" stroke-width="2.4" stroke-linejoin="round" opacity="0.9"><use href="#k16"/></g>
<g fill="#7478C2" stroke="#7478C2" stroke-width="2.4" stroke-linejoin="round" opacity="0.9"><use href="#k17"/></g>
<g fill="#CDCCE6" stroke="#CDCCE6" stroke-width="2.4" stroke-linejoin="round" opacity="1"><use href="#k41"/><use href="#k42"/></g>
</g>
<path d="M1338.6 2012.5V2181.0H1597.0" stroke="#111" stroke-width="2" fill="none"/>
<line x1="1333.1" y1="2031.3" x2="1338.6" y2="2031.3" stroke="#111" stroke-width="1.8"/>
<text x="1327.3" y="2038.6" font-size="21" text-anchor="end" fill="#2b2b2b">10</text>
<line x1="1333.1" y1="2083.6" x2="1338.6" y2="2083.6" stroke="#111" stroke-width="1.8"/>
<text x="1327.3" y="2090.9" font-size="21" text-anchor="end" fill="#2b2b2b">0</text>
<line x1="1333.1" y1="2136.4" x2="1338.6" y2="2136.4" stroke="#111" stroke-width="1.8"/>
<text x="1327.3" y="2143.7" font-size="21" text-anchor="end" fill="#2b2b2b">−10</text>
<line x1="1366.8" y1="2181.0" x2="1366.8" y2="2186.5" stroke="#111" stroke-width="1.8"/>
<text x="1366.8" y="2208.0" font-size="21" text-anchor="middle" fill="#2b2b2b">−10</text>
<line x1="1450.9" y1="2181.0" x2="1450.9" y2="2186.5" stroke="#111" stroke-width="1.8"/>
<text x="1450.9" y="2208.0" font-size="21" text-anchor="middle" fill="#2b2b2b">0</text>
<line x1="1534.2" y1="2181.0" x2="1534.2" y2="2186.5" stroke="#111" stroke-width="1.8"/>
<text x="1534.2" y="2208.0" font-size="21" text-anchor="middle" fill="#2b2b2b">10</text>
<rect x="1621.3" y="2035.2" width="27.4" height="136.1" fill="url(#cb)"/>
<path d="M1621.3 2041.0h5.5M1643.2 2041.0h5.5" stroke="#fff" stroke-width="1" opacity="0.8"/>
<text x="1661.2" y="2048.3" font-size="21" fill="#2b2b2b">5</text>
<path d="M1621.3 2066.2h5.5M1643.2 2066.2h5.5" stroke="#fff" stroke-width="1" opacity="0.8"/>
<text x="1661.2" y="2073.5" font-size="21" fill="#2b2b2b">4</text>
<path d="M1621.3 2091.9h5.5M1643.2 2091.9h5.5" stroke="#fff" stroke-width="1" opacity="0.8"/>
<text x="1661.2" y="2099.2" font-size="21" fill="#2b2b2b">3</text>
<path d="M1621.3 2117.3h5.5M1643.2 2117.3h5.5" stroke="#fff" stroke-width="1" opacity="0.8"/>
<text x="1661.2" y="2124.6" font-size="21" fill="#2b2b2b">2</text>
<path d="M1621.3 2143.1h5.5M1643.2 2143.1h5.5" stroke="#fff" stroke-width="1" opacity="0.8"/>
<text x="1661.2" y="2150.4" font-size="21" fill="#2b2b2b">1</text>
<path d="M1621.3 2168.5h5.5M1643.2 2168.5h5.5" stroke="#fff" stroke-width="1" opacity="0.8"/>
<text x="1661.2" y="2175.8" font-size="21" fill="#2b2b2b">0</text>
<text x="1468.0" y="1994.5" font-size="28.5" font-weight="bold" text-anchor="middle" fill="#111">KRT19</text>
</g>
<g id="fp-RGS5">
<g transform="matrix(0.46960 0 0 0.20038 1389.15 1821.04)">
<use href="#sile" fill="#D8D9DF" stroke="#D8D9DF" stroke-width="3.4" stroke-linejoin="round"/>
<g fill="#8E8ACE" stroke="#8E8ACE" stroke-width="2.4" stroke-linejoin="round" opacity="0.9"><use href="#k30"/><use href="#k31"/><use href="#k33"/><use href="#k34"/><use href="#k35"/></g>
<path d="M978.1 1617.5C982.0 1614.2 991.9 1611.5 997.5 1611.9C1003.0 1612.4 1008.5 1616.1 1011.3 1620.2C1014.1 1624.4 1014.5 1631.8 1014.1 1636.8C1013.6 1641.9 1011.3 1647.0 1008.5 1650.7C1005.8 1654.4 1001.6 1658.0 997.5 1659.0C993.3 1659.9 987.3 1658.5 983.6 1656.2C979.9 1653.9 976.9 1649.3 975.3 1645.1C973.7 1641.0 973.5 1635.9 973.9 1631.3C974.4 1626.7 974.2 1620.7 978.1 1617.5Z" fill="#7478C2" opacity="0.7"/>
</g>
<path d="M1748.8 2010.5V2178.6H2007.9" stroke="#111" stroke-width="2" fill="none"/>
<line x1="1743.3" y1="2029.8" x2="1748.8" y2="2029.8" stroke="#111" stroke-width="1.8"/>
<text x="1737.5" y="2037.1" font-size="21" text-anchor="end" fill="#2b2b2b">10</text>
<line x1="1743.3" y1="2081.8" x2="1748.8" y2="2081.8" stroke="#111" stroke-width="1.8"/>
<text x="1737.5" y="2089.1" font-size="21" text-anchor="end" fill="#2b2b2b">0</text>
<line x1="1743.3" y1="2134.8" x2="1748.8" y2="2134.8" stroke="#111" stroke-width="1.8"/>
<text x="1737.5" y="2142.1" font-size="21" text-anchor="end" fill="#2b2b2b">−10</text>
<line x1="1776.9" y1="2178.6" x2="1776.9" y2="2184.1" stroke="#111" stroke-width="1.8"/>
<text x="1776.9" y="2205.6" font-size="21" text-anchor="middle" fill="#2b2b2b">−10</text>
<line x1="1861.1" y1="2178.6" x2="1861.1" y2="2184.1" stroke="#111" stroke-width="1.8"/>
<text x="1861.1" y="2205.6" font-size="21" text-anchor="middle" fill="#2b2b2b">0</text>
<line x1="1945.3" y1="2178.6" x2="1945.3" y2="2184.1" stroke="#111" stroke-width="1.8"/>
<text x="1945.3" y="2205.6" font-size="21" text-anchor="middle" fill="#2b2b2b">10</text>
<rect x="2032.0" y="2032.8" width="27.9" height="136.5" fill="url(#cb)"/>
<path d="M2032.0 2039.7h5.5M2054.4 2039.7h5.5" stroke="#fff" stroke-width="1" opacity="0.8"/>
<text x="2072.0" y="2047.0" font-size="21" fill="#2b2b2b">5</text>
<path d="M2032.0 2065.0h5.5M2054.4 2065.0h5.5" stroke="#fff" stroke-width="1" opacity="0.8"/>
<text x="2072.0" y="2072.3" font-size="21" fill="#2b2b2b">4</text>
<path d="M2032.0 2090.4h5.5M2054.4 2090.4h5.5" stroke="#fff" stroke-width="1" opacity="0.8"/>
<text x="2072.0" y="2097.7" font-size="21" fill="#2b2b2b">3</text>
<path d="M2032.0 2115.7h5.5M2054.4 2115.7h5.5" stroke="#fff" stroke-width="1" opacity="0.8"/>
<text x="2072.0" y="2123.0" font-size="21" fill="#2b2b2b">2</text>
<path d="M2032.0 2141.1h5.5M2054.4 2141.1h5.5" stroke="#fff" stroke-width="1" opacity="0.8"/>
<text x="2072.0" y="2148.4" font-size="21" fill="#2b2b2b">1</text>
<path d="M2032.0 2166.5h5.5M2054.4 2166.5h5.5" stroke="#fff" stroke-width="1" opacity="0.8"/>
<text x="2072.0" y="2173.8" font-size="21" fill="#2b2b2b">0</text>
<text x="1878.6" y="1992.5" font-size="28.5" font-weight="bold" text-anchor="middle" fill="#111">RGS5</text>
</g>
<g id="fp-GCG">
<g transform="matrix(0.45343 0 0 0.19809 -231.60 2145.22)">
<use href="#sile" fill="#D8D9DF" stroke="#D8D9DF" stroke-width="3.4" stroke-linejoin="round"/>
<g fill="#CDCCE6" stroke="#CDCCE6" stroke-width="2.4" stroke-linejoin="round" opacity="0.5"><use href="#k0"/><use href="#k1"/><use href="#k2"/><use href="#k3"/><use href="#k4"/><use href="#k5"/><use href="#k12"/></g>
<g fill="#BDBBE2" stroke="#BDBBE2" stroke-width="2.4" stroke-linejoin="round" opacity="0.85"><use href="#k6"/><use href="#k8"/><use href="#k13"/><use href="#k14"/><use href="#k16"/><use href="#k17"/><use href="#k18"/><use href="#k19"/><use href="#k20"/><use href="#k21"/><use href="#k22"/><use href="#k28"/><use href="#k29"/><use href="#k30"/><use href="#k31"/><use href="#k33"/><use href="#k34"/><use href="#k35"/><use href="#k36"/><use href="#k37"/><use href="#k38"/></g>
<g fill="#CDCCE6" stroke="#CDCCE6" stroke-width="2.4" stroke-linejoin="round" opacity="0.9"><use href="#k50"/><use href="#k51"/><use href="#k53"/><use href="#k54"/></g>
<g fill="#A5A2D8" stroke="#A5A2D8" stroke-width="2.4" stroke-linejoin="round" opacity="0.7"><use href="#k49"/></g>
<g fill="#5C6EBA" stroke="#5C6EBA" stroke-width="2.4" stroke-linejoin="round" opacity="1"><use href="#k39"/><use href="#k41"/><use href="#k42"/><use href="#k44"/><use href="#k45"/><use href="#k46"/><use href="#k47"/></g>
<path d="M1093.1 1280.0C1107.3 1277.7 1159.5 1273.0 1172.4 1280.0C1185.4 1287.0 1171.1 1307.4 1171.1 1321.7C1171.1 1336.1 1172.7 1354.7 1172.4 1366.3C1172.2 1377.9 1172.9 1387.6 1169.7 1391.3C1166.4 1395.0 1159.0 1390.9 1153.0 1388.5C1146.9 1386.2 1140.0 1381.6 1133.5 1377.4C1127.0 1373.2 1120.3 1368.6 1114.0 1363.5C1107.7 1358.4 1100.8 1353.1 1095.9 1346.8C1091.0 1340.5 1087.1 1331.0 1084.8 1325.9C1082.5 1320.8 1081.5 1321.5 1082.0 1316.2C1082.5 1310.8 1085.7 1299.9 1087.6 1293.9C1089.4 1287.9 1079.0 1282.3 1093.1 1280.0Z" fill="#7478C2" opacity="0.8"/>
<g fill="#8E8ACE" stroke="#8E8ACE" stroke-width="2.4" stroke-linejoin="round" opacity="1"><use href="#k48"/></g>
<g fill="#5C6EBA" stroke="#5C6EBA" stroke-width="2.4" stroke-linejoin="round" opacity="1"><use href="#k9"/><use href="#k10"/></g>
</g>
<path d="M115.6 2334.1V2500.7H366.6" stroke="#111" stroke-width="2" fill="none"/>
<line x1="110.1" y1="2352.1" x2="115.6" y2="2352.1" stroke="#111" stroke-width="1.8"/>
<text x="104.3" y="2359.4" font-size="21" text-anchor="end" fill="#2b2b2b">10</text>
<line x1="110.1" y1="2403.0" x2="115.6" y2="2403.0" stroke="#111" stroke-width="1.8"/>
<text x="104.3" y="2410.3" font-size="21" text-anchor="end" fill="#2b2b2b">0</text>
<line x1="110.1" y1="2455.9" x2="115.6" y2="2455.9" stroke="#111" stroke-width="1.8"/>
<text x="104.3" y="2463.2" font-size="21" text-anchor="end" fill="#2b2b2b">−10</text>
<line x1="142.8" y1="2500.7" x2="142.8" y2="2506.2" stroke="#111" stroke-width="1.8"/>
<text x="142.8" y="2527.7" font-size="21" text-anchor="middle" fill="#2b2b2b">−10</text>
<line x1="224.1" y1="2500.7" x2="224.1" y2="2506.2" stroke="#111" stroke-width="1.8"/>
<text x="224.1" y="2527.7" font-size="21" text-anchor="middle" fill="#2b2b2b">0</text>
<line x1="305.4" y1="2500.7" x2="305.4" y2="2506.2" stroke="#111" stroke-width="1.8"/>
<text x="305.4" y="2527.7" font-size="21" text-anchor="middle" fill="#2b2b2b">10</text>
<rect x="390.9" y="2356.0" width="27.7" height="134.2" fill="url(#cb)"/>
<path d="M390.9 2371.5h5.5M413.1 2371.5h5.5" stroke="#fff" stroke-width="1" opacity="0.8"/>
<text x="430.2" y="2378.8" font-size="21" fill="#2b2b2b">8</text>
<path d="M390.9 2398.3h5.5M413.1 2398.3h5.5" stroke="#fff" stroke-width="1" opacity="0.8"/>
<text x="430.2" y="2405.6" font-size="21" fill="#2b2b2b">6</text>
<path d="M390.9 2428.2h5.5M413.1 2428.2h5.5" stroke="#fff" stroke-width="1" opacity="0.8"/>
<text x="430.2" y="2435.5" font-size="21" fill="#2b2b2b">4</text>
<path d="M390.9 2458.6h5.5M413.1 2458.6h5.5" stroke="#fff" stroke-width="1" opacity="0.8"/>
<text x="430.2" y="2465.9" font-size="21" fill="#2b2b2b">2</text>
<path d="M390.9 2488.5h5.5M413.1 2488.5h5.5" stroke="#fff" stroke-width="1" opacity="0.8"/>
<text x="430.2" y="2495.8" font-size="21" fill="#2b2b2b">0</text>
<text x="240.7" y="2315.3" font-size="28.5" font-weight="bold" text-anchor="middle" fill="#111">GCG</text>
</g>
<g id="fp-PPY">
<g transform="matrix(0.45287 0 0 0.19752 172.96 2143.77)">
<use href="#sile" fill="#D8D9DF" stroke="#D8D9DF" stroke-width="3.4" stroke-linejoin="round"/>
<g fill="#BDBBE2" stroke="#BDBBE2" stroke-width="2.4" stroke-linejoin="round" opacity="0.9"><use href="#k14"/><use href="#k17"/><use href="#k38"/><use href="#k39"/><use href="#k41"/><use href="#k42"/></g>
<g fill="#CDCCE6" stroke="#CDCCE6" stroke-width="2.4" stroke-linejoin="round" opacity="0.8"><use href="#k13"/><use href="#k16"/></g>
<path d="M1127.9 1293.9C1131.2 1287.4 1140.9 1287.9 1147.4 1288.3C1153.9 1288.8 1163.2 1291.1 1166.9 1296.7C1170.6 1302.3 1170.1 1313.9 1169.7 1321.7C1169.2 1329.6 1167.8 1338.9 1164.1 1344.0C1160.4 1349.1 1152.0 1352.8 1147.4 1352.4C1142.8 1351.9 1139.5 1345.4 1136.3 1341.2C1133.0 1337.1 1129.3 1335.2 1127.9 1327.3C1126.5 1319.4 1124.7 1300.4 1127.9 1293.9Z" fill="#A5A2D8" opacity="0.35"/>
<path d="M1058.3 1344.0C1057.9 1337.7 1066.7 1330.8 1072.3 1325.9C1077.8 1321.0 1084.8 1316.4 1091.7 1314.8C1098.7 1313.2 1108.0 1314.1 1114.0 1316.2C1120.0 1318.3 1124.2 1323.1 1127.9 1327.3C1131.6 1331.5 1135.3 1336.1 1136.3 1341.2C1137.2 1346.3 1136.7 1353.3 1133.5 1357.9C1130.2 1362.6 1123.3 1366.7 1116.8 1369.1C1110.3 1371.4 1101.5 1372.8 1094.5 1371.8C1087.6 1370.9 1081.1 1368.1 1075.0 1363.5C1069.0 1358.8 1058.8 1350.3 1058.3 1344.0Z" fill="#5C6EBA" opacity="0.6"/>
</g>
<path d="M519.1 2331.4V2497.9H770.6" stroke="#111" stroke-width="2" fill="none"/>
<line x1="513.6" y1="2350.2" x2="519.1" y2="2350.2" stroke="#111" stroke-width="1.8"/>
<text x="507.8" y="2357.5" font-size="21" text-anchor="end" fill="#2b2b2b">10</text>
<line x1="513.6" y1="2400.8" x2="519.1" y2="2400.8" stroke="#111" stroke-width="1.8"/>
<text x="507.8" y="2408.1" font-size="21" text-anchor="end" fill="#2b2b2b">0</text>
<line x1="513.6" y1="2453.7" x2="519.1" y2="2453.7" stroke="#111" stroke-width="1.8"/>
<text x="507.8" y="2461.0" font-size="21" text-anchor="end" fill="#2b2b2b">−10</text>
<line x1="546.8" y1="2497.9" x2="546.8" y2="2503.4" stroke="#111" stroke-width="1.8"/>
<text x="546.8" y="2524.9" font-size="21" text-anchor="middle" fill="#2b2b2b">−10</text>
<line x1="628.1" y1="2497.9" x2="628.1" y2="2503.4" stroke="#111" stroke-width="1.8"/>
<text x="628.1" y="2524.9" font-size="21" text-anchor="middle" fill="#2b2b2b">0</text>
<line x1="709.2" y1="2497.9" x2="709.2" y2="2503.4" stroke="#111" stroke-width="1.8"/>
<text x="709.2" y="2524.9" font-size="21" text-anchor="middle" fill="#2b2b2b">10</text>
<rect x="794.1" y="2353.5" width="27.1" height="135.0" fill="url(#cb)"/>
<path d="M794.1 2379.5h5.5M815.7 2379.5h5.5" stroke="#fff" stroke-width="1" opacity="0.8"/>
<text x="834.2" y="2386.8" font-size="21" fill="#2b2b2b">7.5</text>
<path d="M794.1 2413.5h5.5M815.7 2413.5h5.5" stroke="#fff" stroke-width="1" opacity="0.8"/>
<text x="834.2" y="2420.8" font-size="21" fill="#2b2b2b">5.0</text>
<path d="M794.1 2450.3h5.5M815.7 2450.3h5.5" stroke="#fff" stroke-width="1" opacity="0.8"/>
<text x="834.2" y="2457.6" font-size="21" fill="#2b2b2b">2.5</text>
<path d="M794.1 2486.3h5.5M815.7 2486.3h5.5" stroke="#fff" stroke-width="1" opacity="0.8"/>
<text x="834.2" y="2493.6" font-size="21" fill="#2b2b2b">0.0</text>
<text x="643.3" y="2313.4" font-size="28.5" font-weight="bold" text-anchor="middle" fill="#111">PPY</text>
</g>
<g id="fp-CPA1">
<g transform="matrix(0.46347 0 0 0.19637 579.61 2143.06)">
<use href="#sile" fill="#D8D9DF" stroke="#D8D9DF" stroke-width="3.4" stroke-linejoin="round"/>
<g fill="#CDCCE6" stroke="#CDCCE6" stroke-width="2.4" stroke-linejoin="round" opacity="0.9"><use href="#k16"/><use href="#k17"/><use href="#k18"/><use href="#k19"/><use href="#k20"/><use href="#k21"/><use href="#k22"/><use href="#k28"/><use href="#k29"/><use href="#k30"/><use href="#k31"/><use href="#k33"/><use href="#k34"/><use href="#k35"/><use href="#k37"/><use href="#k38"/><use href="#k39"/><use href="#k41"/><use href="#k42"/><use href="#k44"/><use href="#k45"/><use href="#k46"/><use href="#k47"/><use href="#k48"/><use href="#k49"/><use href="#k50"/><use href="#k51"/></g>
<g fill="#CDCCE6" opacity="0.9"><use href="#k64"/></g>
<g fill="#A5A2D8" stroke="#A5A2D8" stroke-width="2.4" stroke-linejoin="round" opacity="0.9"><use href="#k25"/><use href="#k26"/></g>
<g fill="#A5A2D8" stroke="#A5A2D8" stroke-width="2.4" stroke-linejoin="round" opacity="0.75"><use href="#k0"/><use href="#k4"/><use href="#k6"/><use href="#k7"/><use href="#k8"/><use href="#k13"/><use href="#k14"/><use href="#k55"/><use href="#k56"/><use href="#k57"/><use href="#k58"/><use href="#k59"/></g>
<g fill="#A5A2D8" stroke="#A5A2D8" stroke-width="2.4" stroke-linejoin="round" opacity="0.9"><use href="#k6"/><use href="#k8"/><use href="#k14"/></g>
<g fill="#8E8ACE" stroke="#8E8ACE" stroke-width="2.4" stroke-linejoin="round" opacity="0.9"><use href="#k5"/></g>
<g fill="#7478C2" stroke="#7478C2" stroke-width="2.4" stroke-linejoin="round" opacity="0.95"><use href="#k0"/><use href="#k1"/><use href="#k2"/><use href="#k3"/><use href="#k4"/><use href="#k12"/><use href="#k13"/></g>
</g>
<path d="M935.0 2330.0V2496.5H1193.4" stroke="#111" stroke-width="2" fill="none"/>
<line x1="929.5" y1="2348.5" x2="935.0" y2="2348.5" stroke="#111" stroke-width="1.8"/>
<text x="923.7" y="2355.8" font-size="21" text-anchor="end" fill="#2b2b2b">10</text>
<line x1="929.5" y1="2398.6" x2="935.0" y2="2398.6" stroke="#111" stroke-width="1.8"/>
<text x="923.7" y="2405.9" font-size="21" text-anchor="end" fill="#2b2b2b">0</text>
<line x1="929.5" y1="2451.4" x2="935.0" y2="2451.4" stroke="#111" stroke-width="1.8"/>
<text x="923.7" y="2458.7" font-size="21" text-anchor="end" fill="#2b2b2b">−10</text>
<line x1="963.5" y1="2496.5" x2="963.5" y2="2502.0" stroke="#111" stroke-width="1.8"/>
<text x="963.5" y="2523.5" font-size="21" text-anchor="middle" fill="#2b2b2b">−10</text>
<line x1="1045.4" y1="2496.5" x2="1045.4" y2="2502.0" stroke="#111" stroke-width="1.8"/>
<text x="1045.4" y="2523.5" font-size="21" text-anchor="middle" fill="#2b2b2b">0</text>
<line x1="1129.7" y1="2496.5" x2="1129.7" y2="2502.0" stroke="#111" stroke-width="1.8"/>
<text x="1129.7" y="2523.5" font-size="21" text-anchor="middle" fill="#2b2b2b">10</text>
<rect x="1217.4" y="2352.1" width="27.2" height="134.8" fill="url(#cb)"/>
<path d="M1217.4 2384.5h5.5M1239.1 2384.5h5.5" stroke="#fff" stroke-width="1" opacity="0.8"/>
<text x="1256.2" y="2391.8" font-size="21" fill="#2b2b2b">6</text>
<path d="M1217.4 2417.1h5.5M1239.1 2417.1h5.5" stroke="#fff" stroke-width="1" opacity="0.8"/>
<text x="1256.2" y="2424.4" font-size="21" fill="#2b2b2b">4</text>
<path d="M1217.4 2450.3h5.5M1239.1 2450.3h5.5" stroke="#fff" stroke-width="1" opacity="0.8"/>
<text x="1256.2" y="2457.6" font-size="21" fill="#2b2b2b">2</text>
<path d="M1217.4 2484.1h5.5M1239.1 2484.1h5.5" stroke="#fff" stroke-width="1" opacity="0.8"/>
<text x="1256.2" y="2491.4" font-size="21" fill="#2b2b2b">0</text>
<text x="1061.1" y="2311.7" font-size="28.5" font-weight="bold" text-anchor="middle" fill="#111">CPA1</text>
</g>
<g id="fp-VWF">
<g transform="matrix(0.46988 0 0 0.19637 981.97 2142.76)">
<use href="#sile" fill="#D8D9DF" stroke="#D8D9DF" stroke-width="3.4" stroke-linejoin="round"/>
<g fill="#BDBBE2" stroke="#BDBBE2" stroke-width="2.4" stroke-linejoin="round" opacity="1"><use href="#k28"/><use href="#k29"/></g>
<g fill="#A5A2D8" stroke="#A5A2D8" stroke-width="2.4" stroke-linejoin="round" opacity="0.4"><use href="#k28"/><use href="#k29"/></g>
<g fill="#CDCCE6" stroke="#CDCCE6" stroke-width="2.4" stroke-linejoin="round" opacity="1"><use href="#k32"/></g>
</g>
<path d="M1341.9 2330.0V2496.5H1602.0" stroke="#111" stroke-width="2" fill="none"/>
<line x1="1336.4" y1="2348.5" x2="1341.9" y2="2348.5" stroke="#111" stroke-width="1.8"/>
<text x="1330.6" y="2355.8" font-size="21" text-anchor="end" fill="#2b2b2b">10</text>
<line x1="1336.4" y1="2398.3" x2="1341.9" y2="2398.3" stroke="#111" stroke-width="1.8"/>
<text x="1330.6" y="2405.6" font-size="21" text-anchor="end" fill="#2b2b2b">0</text>
<line x1="1336.4" y1="2451.4" x2="1341.9" y2="2451.4" stroke="#111" stroke-width="1.8"/>
<text x="1330.6" y="2458.7" font-size="21" text-anchor="end" fill="#2b2b2b">−10</text>
<line x1="1370.1" y1="2496.5" x2="1370.1" y2="2502.0" stroke="#111" stroke-width="1.8"/>
<text x="1370.1" y="2523.5" font-size="21" text-anchor="middle" fill="#2b2b2b">−10</text>
<line x1="1454.2" y1="2496.5" x2="1454.2" y2="2502.0" stroke="#111" stroke-width="1.8"/>
<text x="1454.2" y="2523.5" font-size="21" text-anchor="middle" fill="#2b2b2b">0</text>
<line x1="1538.6" y1="2496.5" x2="1538.6" y2="2502.0" stroke="#111" stroke-width="1.8"/>
<text x="1538.6" y="2523.5" font-size="21" text-anchor="middle" fill="#2b2b2b">10</text>
<rect x="1625.2" y="2351.8" width="27.1" height="135.1" fill="url(#cb)"/>
<path d="M1625.2 2366.0h5.5M1646.8 2366.0h5.5" stroke="#fff" stroke-width="1" opacity="0.8"/>
<text x="1664.5" y="2373.3" font-size="21" fill="#2b2b2b">4</text>
<path d="M1625.2 2394.7h5.5M1646.8 2394.7h5.5" stroke="#fff" stroke-width="1" opacity="0.8"/>
<text x="1664.5" y="2402.0" font-size="21" fill="#2b2b2b">3</text>
<path d="M1625.2 2424.1h5.5M1646.8 2424.1h5.5" stroke="#fff" stroke-width="1" opacity="0.8"/>
<text x="1664.5" y="2431.4" font-size="21" fill="#2b2b2b">2</text>
<path d="M1625.2 2453.1h5.5M1646.8 2453.1h5.5" stroke="#fff" stroke-width="1" opacity="0.8"/>
<text x="1664.5" y="2460.4" font-size="21" fill="#2b2b2b">1</text>
<path d="M1625.2 2483.5h5.5M1646.8 2483.5h5.5" stroke="#fff" stroke-width="1" opacity="0.8"/>
<text x="1664.5" y="2490.8" font-size="21" fill="#2b2b2b">0</text>
<text x="1471.6" y="2311.2" font-size="28.5" font-weight="bold" text-anchor="middle" fill="#111">VWF</text>
</g>
<g id="fp-PTPRC">
<g transform="matrix(0.46960 0 0 0.19752 1394.75 2141.97)">
<use href="#sile" fill="#D8D9DF" stroke="#D8D9DF" stroke-width="3.4" stroke-linejoin="round"/>
<g fill="#A5A2D8" stroke="#A5A2D8" stroke-width="2.4" stroke-linejoin="round" opacity="0.9"><use href="#k25"/><use href="#k26"/><use href="#k27"/></g>
</g>
<path d="M1753.8 2329.7V2497.1H2013.0" stroke="#111" stroke-width="2" fill="none"/>
<line x1="1748.3" y1="2348.5" x2="1753.8" y2="2348.5" stroke="#111" stroke-width="1.8"/>
<text x="1742.5" y="2355.8" font-size="21" text-anchor="end" fill="#2b2b2b">10</text>
<line x1="1748.3" y1="2399.0" x2="1753.8" y2="2399.0" stroke="#111" stroke-width="1.8"/>
<text x="1742.5" y="2406.3" font-size="21" text-anchor="end" fill="#2b2b2b">0</text>
<line x1="1748.3" y1="2452.0" x2="1753.8" y2="2452.0" stroke="#111" stroke-width="1.8"/>
<text x="1742.5" y="2459.3" font-size="21" text-anchor="end" fill="#2b2b2b">−10</text>
<line x1="1782.2" y1="2497.1" x2="1782.2" y2="2502.6" stroke="#111" stroke-width="1.8"/>
<text x="1782.2" y="2524.1" font-size="21" text-anchor="middle" fill="#2b2b2b">−10</text>
<line x1="1866.7" y1="2497.1" x2="1866.7" y2="2502.6" stroke="#111" stroke-width="1.8"/>
<text x="1866.7" y="2524.1" font-size="21" text-anchor="middle" fill="#2b2b2b">0</text>
<line x1="1950.6" y1="2497.1" x2="1950.6" y2="2502.6" stroke="#111" stroke-width="1.8"/>
<text x="1950.6" y="2524.1" font-size="21" text-anchor="middle" fill="#2b2b2b">10</text>
<rect x="2037.4" y="2351.8" width="27.6" height="135.7" fill="url(#cb)"/>
<path d="M2037.4 2362.7h5.5M2059.5 2362.7h5.5" stroke="#fff" stroke-width="1" opacity="0.8"/>
<text x="2077.2" y="2370.0" font-size="21" fill="#2b2b2b">3</text>
<path d="M2037.4 2403.8h5.5M2059.5 2403.8h5.5" stroke="#fff" stroke-width="1" opacity="0.8"/>
<text x="2077.2" y="2411.1" font-size="21" fill="#2b2b2b">2</text>
<path d="M2037.4 2444.4h5.5M2059.5 2444.4h5.5" stroke="#fff" stroke-width="1" opacity="0.8"/>
<text x="2077.2" y="2451.7" font-size="21" fill="#2b2b2b">1</text>
<path d="M2037.4 2485.0h5.5M2059.5 2485.0h5.5" stroke="#fff" stroke-width="1" opacity="0.8"/>
<text x="2077.2" y="2492.3" font-size="21" fill="#2b2b2b">0</text>
<text x="1883.7" y="2312.0" font-size="28.5" font-weight="bold" text-anchor="middle" fill="#111">PTPRC</text>
</g>
</g>
</svg>
</body></html>
